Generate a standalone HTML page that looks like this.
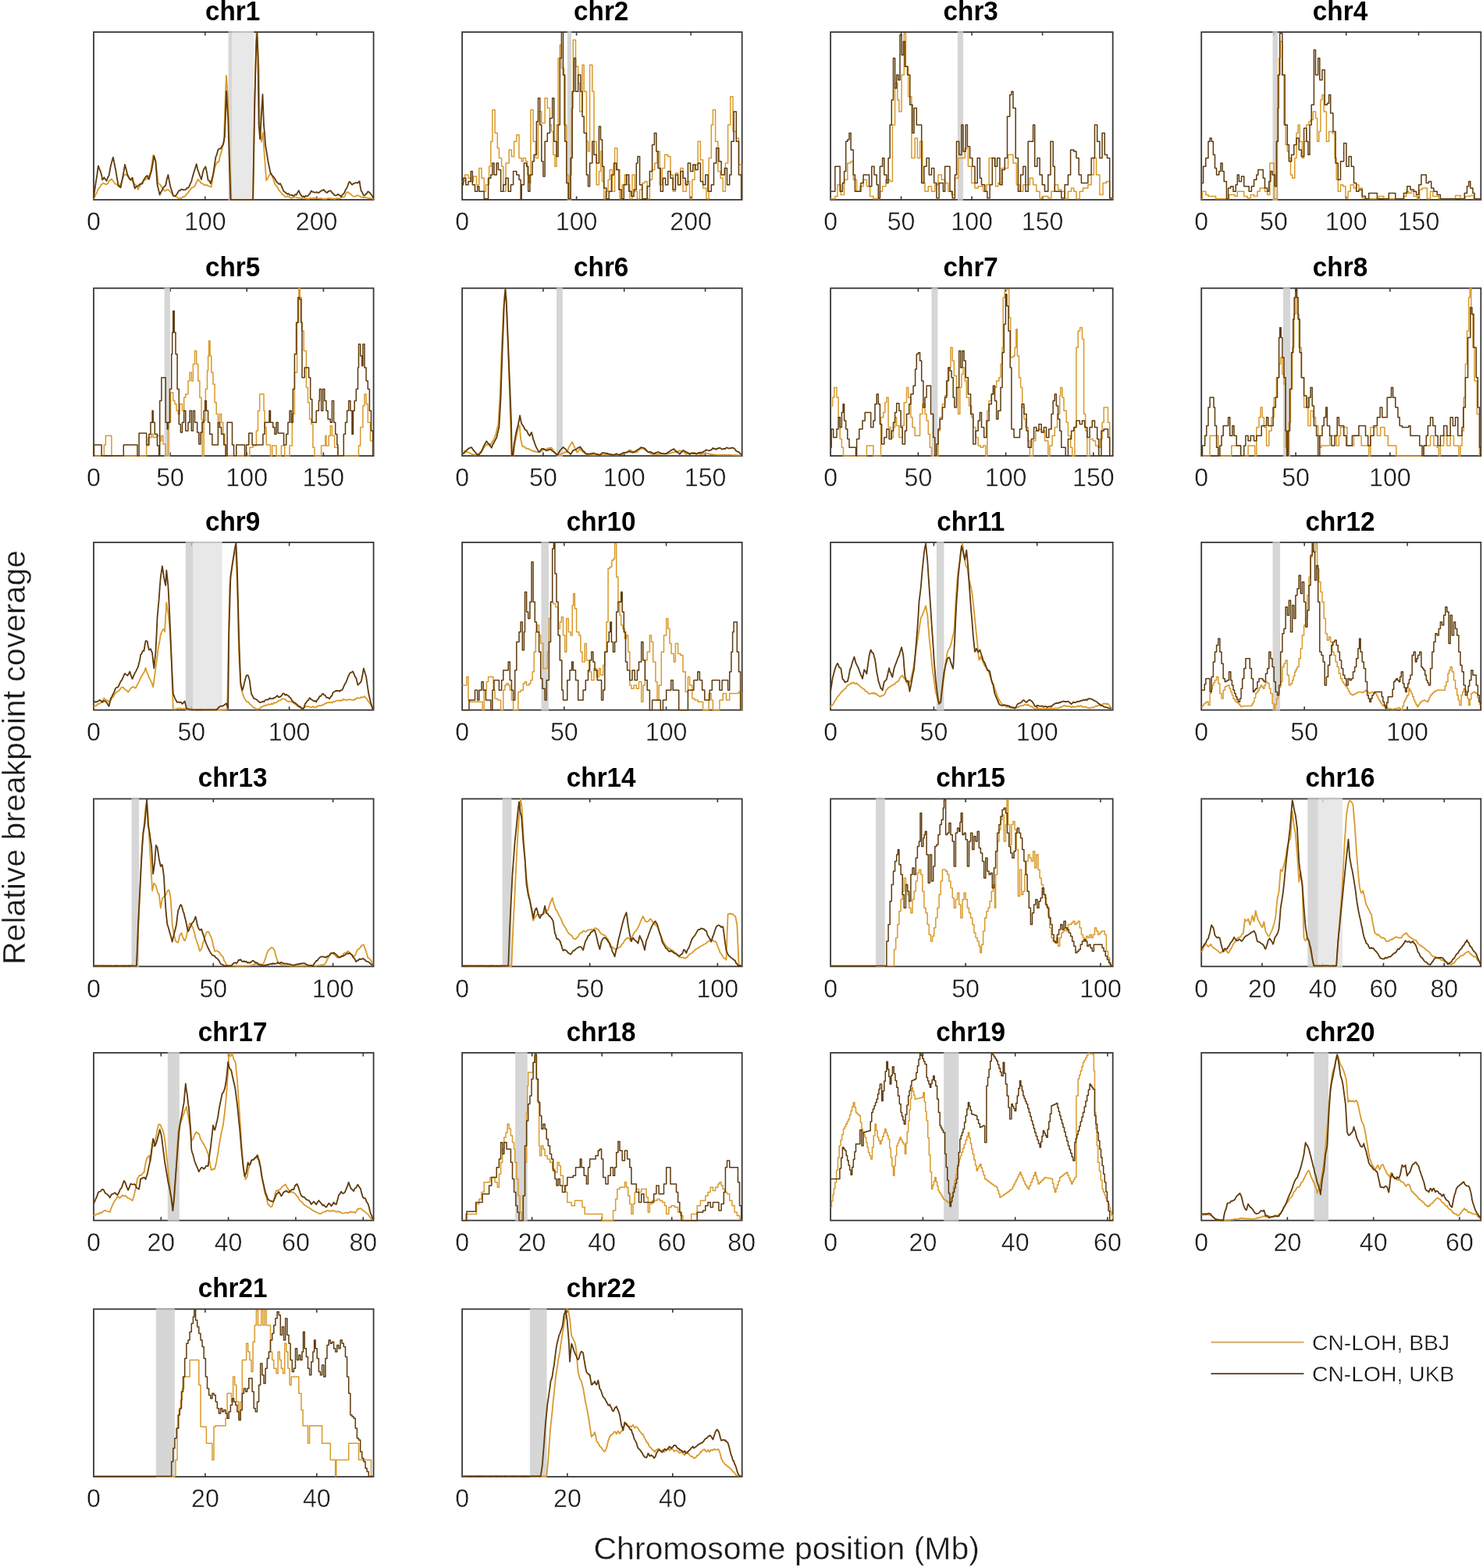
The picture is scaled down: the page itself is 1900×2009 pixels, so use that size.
<!DOCTYPE html><html><head><meta charset="utf-8"><title>Chromosome breakpoint coverage</title>
<style>html,body{margin:0;padding:0;background:#fff;}body{width:1900px;height:2009px;overflow:hidden;}svg{display:block;}text{font-family:"Liberation Sans",Arial,Helvetica,sans-serif;fill:#111;}.t{font-weight:bold;font-size:34.5px;fill:#000;}.k{font-size:33.2px;fill:#1a1a1a;stroke:#fff;stroke-width:0.4;}.l{font-size:41px;fill:#1a1a1a;stroke:#fff;stroke-width:0.4;}.g{font-size:28.3px;fill:#111;stroke:#fff;stroke-width:0.4;}</style></head><body>
<svg width="1900" height="2009" viewBox="0 0 1900 2009">
<rect width="1900" height="2009" fill="#fff"/>
<g><rect x="120" y="41.1" width="358.6" height="214.8" fill="none" stroke="#383838" stroke-width="1.8"/><path d="M262.8,255.9v-4.5M262.8,41.1v4.5M405.6,255.9v-4.5M405.6,41.1v4.5" stroke="#383838" stroke-width="1.6" fill="none"/><rect x="292.6" y="40.1" width="4.9" height="216.8" fill="#cccccc" fill-opacity="0.8"/><rect x="297.5" y="40.1" width="27.7" height="216.8" fill="#e2e2e2" fill-opacity="0.8"/><path d="M120,254.7 121.2,253.1 122.5,249.2 123.7,247.7 125.1,243.8 126.6,241.2 128,239.7 129.4,236.9 130.8,236.2 132.2,234.5 133.7,235.2 135.1,236 136.5,236.1 138.1,235.2 139.7,231.7 141.3,230.9 142.9,229.4 144.3,231.3 145.8,233 147.2,235.3 148.6,235.8 150,236.7 151.4,238.4 153,238.6 154.6,235.9 156.1,232.6 157.5,227.9 158.9,224.2 160.5,223.6 162.1,224.2 163.7,226 165.3,228.4 166.7,230.3 168.1,231.2 169.6,231.8 171,233.1 172.4,236.1 173.8,236.7 175.4,238.8 177,242.8 178.4,239.7 179.9,237.5 181.3,235.2 182.7,232.8 184.1,231.5 185.6,231 187,228.9 188.4,229.3 189.8,227.4 191.4,224.2 193,220 194.6,209.8 196.2,198.9 197.8,202.6 199.4,206.3 201,220.1 202.6,234.6 204,236 205.5,236.6 206.9,239.5 208.3,241 209.7,243.4 211.1,244.7 212.6,244 214,242.9 215.4,242.8 216.8,244.1 218.2,245.8 219.7,247.1 221.1,249.4 222.5,250.9 223.9,251 225.4,252.2 226.8,252.6 228.2,253.9 229.6,254.2 231,253.5 232.5,254 233.9,252.8 235.3,251.5 236.7,252.1 238.1,249.9 239.6,248.2 241,247.2 242.4,244.7 243.8,242.9 245.3,240.9 246.7,240.1 248.1,239.7 249.5,238.4 250.9,235.3 252.4,232.4 253.8,229.6 255.2,231.8 256.6,232.9 258,235.1 259.5,235.3 260.9,236.4 262.3,237.6 263.7,236.6 265.2,237.2 266.6,238.2 268,238.6 269.4,239 270.8,239.3 272.4,229 274,220.5 275.6,213.4 277.2,209.6 278.8,207.4 280.4,207.5 282,199.6 283.6,194.9 285.2,188.1 286.8,182.1 287.9,149.4 289,116.7 290,96.8 291.7,121.4 293,161.3 294.3,202.8 295.4,229.2 296.4,255.9 297.7,255.9 299.1,255.9 300.4,255.9 301.7,255.9 303,255.9 304.3,255.9 305.7,255.9 307,255.9 308.3,255.9 309.6,255.9 310.9,255.9 312.3,255.9 313.6,255.9 314.9,255.9 316.2,255.9 317.5,255.9 318.9,255.9 320.2,255.9 321.5,255.9 322.8,255.9 324.1,255.9 325.2,196.5 326.3,139.5 327.3,91.1 328.4,42.7 329.9,53.7 331.6,86.9 332.7,155.2 333.7,168.5 334.8,181.7 335.9,176.2 336.9,169.7 338,186.8 339.1,203.3 340.1,216.9 341.2,231.1 342.8,229 344.4,225.5 346,223.5 347.6,221.9 349,226.9 350.4,230.1 351.9,235.4 353.3,237.3 354.7,238.9 356.1,241.2 357.5,243.9 359,245.7 360.4,247 361.8,249.4 363.2,249.6 364.7,251.4 366.1,252.4 367.5,252.2 368.9,251.3 370.3,252 371.8,253.2 373.2,254.1 374.6,253.3 376,253 377.4,252 378.9,252.8 380.3,253.2 381.7,253.6 383,253.7 384.3,253.7 385.6,253.8 386.8,254.1 388.1,253.5 389.4,253.6 390.7,254.4 391.9,254.2 393.2,254.6 394.5,254.6 395.8,254.8 397.1,254.2 398.3,254 399.6,254.2 400.9,253.8 402.2,253.5 403.5,254.1 404.7,253.7 406,253.6 407.3,254.2 408.5,254.2 409.7,254.3 411,254 412.2,254.6 413.4,254.6 414.6,254.8 415.8,254.7 417.1,254.8 418.4,254.6 419.7,254.1 420.9,254.1 422.2,254 423.5,254.4 424.8,254.5 426.1,254.6 427.3,254.4 428.6,254.9 429.9,254.7 431.2,254.1 432.5,254.1 433.7,254.3 435,254.1 436.3,253.8 437.6,252.3 438.9,252.6 440.1,252.7 441.4,251.9 442.8,249.2 444.3,246.5 445.7,246 447.1,247.3 448.5,248.3 449.9,249.2 451.4,250.8 452.8,251.5 454.2,252 455.6,251.4 457.1,250.6 458.5,250.2 459.9,251 461.3,251.7 462.7,252.7 464,252.3 465.2,253.3 466.4,253 467.6,252.9 468.8,253.2 470,253.5 471.3,253.7 472.5,254.2 473.7,253.8 474.9,254.1 476.1,254.3 477.3,254.5 478.5,254.9" fill="none" stroke="#d99a2b" stroke-width="1.8" stroke-linejoin="round"/><path d="M120,253.7 121.3,243.9 122.7,233.9 124.3,224.6 125.9,212.3 127.4,216.4 129,220.4 130.1,224.2 131.2,230.4 132.2,229.4 133.3,227.3 134.9,229.5 136.5,231.7 138.1,227.5 139.7,224.3 140.8,218 141.8,212.8 143.4,206.7 145,201.5 146.6,210.3 148.2,217.7 149.8,227.6 151.4,236.5 153,239.3 154.6,240.2 156.2,232.1 157.8,224.2 158.9,217.9 160,211 161.6,216.8 163.2,223.5 164.8,226.6 166.4,229.9 168,229.8 169.6,227.6 171.2,235.3 172.8,241.6 174.4,239.1 176,238.6 177.6,237.7 179.2,235.8 180.8,235.5 182.4,235.3 184,230.7 185.6,228.3 187.2,225.9 188.8,225.1 189.8,228.3 190.9,229.8 192.5,224.1 194.1,218.9 195.7,210.1 197.3,199.6 198.3,202.9 199.4,206.8 200.5,222.5 201.5,236.5 203.1,242.9 204.7,249.7 206.2,245.9 207.6,243.9 209,240.4 210.6,239 212.2,237.5 213.8,229.5 215.4,224 217,232.6 218.6,240.3 220.2,244.8 221.8,250.4 223.4,251.4 225,250.9 226.6,248.8 228.2,246 229.6,244 231,244 232.5,242.3 233.9,242.8 235.3,243.4 236.7,243.2 238.1,242.9 239.6,240.9 241,240.7 242.4,238.8 243.8,235.4 245.3,232.3 246.9,225.9 248.5,220.5 250.1,215.5 251.7,210.2 253.2,217 254.8,221.5 256.4,225.9 258,229.8 259.1,224.9 260.2,219.3 261.8,215.7 263.4,213.5 265,221.1 266.6,230.8 268.2,231.6 269.8,235.1 271.4,229.8 273,223.9 274.6,213.6 276.2,202.1 277.8,197.7 279.4,191.8 281,190.4 282.6,190.6 284.2,187.5 285.8,185.3 286.8,180.8 287.9,174.6 289,146.4 290,116.7 291.1,135 292.2,151 293.8,202.8 295.4,255.9 296.7,255.9 298,255.9 299.3,255.9 300.6,255.9 301.9,255.9 303.2,255.9 304.5,255.9 305.8,255.9 307.1,255.9 308.4,255.9 309.8,255.9 311.1,255.9 312.4,255.9 313.7,255.9 315,255.9 316.3,255.9 317.6,255.9 318.9,255.9 320.2,255.9 321.5,255.9 322.8,255.9 324.1,255.9 325.2,192.6 326.3,127.4 327.3,91 328.4,53.8 329.5,42.3 330.5,74.6 331.6,159.2 333.1,178.3 334.8,149.3 336.5,121 338,160.2 339.1,172 340.1,186 341.7,195.7 343.3,206 344.9,213.7 346.5,221.7 348.1,224 349.7,225.8 351.3,227.6 352.9,230.3 354.5,233.2 356.1,234.6 357.5,236.1 359,235.1 360.4,237.6 362,241.7 363.6,245.3 365.2,246.3 366.8,247.4 368.2,248.8 369.6,248 371.1,249.7 372.5,249.9 373.9,249.8 375.3,251 376.7,250.6 378.2,249.1 379.6,249.8 381.2,246.7 382.8,244.1 384.4,248.1 386,250.8 387.4,251.8 388.8,251.4 390.2,252.3 391.7,250.8 393.1,251.5 394.5,251 395.9,249 397.4,247.7 398.8,244.4 400.2,245.7 401.6,246.1 403,246.6 404.5,246.5 405.9,246.2 407.3,246.8 408.7,246.8 410.1,245.4 411.6,244.4 413.2,243.9 414.8,243 416.4,245.3 418,246.5 419.4,246.8 420.8,244.9 422.2,244.7 423.8,244.3 425.4,247.1 427,248 428.6,250.3 430,250.4 431.5,250.1 432.9,248.8 434.3,249.9 435.7,250.4 437.2,252.1 438.6,249.6 440,248.3 441.4,246.7 442.8,243.1 444.3,241 445.7,237.5 446.7,234.3 447.8,232.9 449.4,234.5 451,236.7 452.6,235.4 454.2,234.8 455.6,234.1 457.1,234.1 458.5,234.6 459.5,232.9 460.6,232.3 461.7,239.6 462.7,244.4 464.2,246.6 465.6,250 467,250.8 468.4,249 469.8,248 471.3,245.4 472.7,246.1 474.1,247.3 475.5,249.1 477,251.3 478.5,254" fill="none" stroke="#5e3b0c" stroke-width="1.8" stroke-linejoin="round"/><text class="k" transform="translate(120,295.1) scale(0.97,1)" text-anchor="middle">0</text><text class="k" transform="translate(262.8,295.1) scale(0.97,1)" text-anchor="middle">100</text><text class="k" transform="translate(405.6,295.1) scale(0.97,1)" text-anchor="middle">200</text><text class="t" transform="translate(298.1,25.9) scale(0.965,1)" text-anchor="middle">chr1</text></g>
<g><rect x="592.1" y="41.1" width="358.6" height="214.8" fill="none" stroke="#383838" stroke-width="1.8"/><path d="M738.6,255.9v-4.5M738.6,41.1v4.5M885.1,255.9v-4.5M885.1,41.1v4.5" stroke="#383838" stroke-width="1.6" fill="none"/><rect x="726.8" y="40.1" width="5.3" height="216.8" fill="#cccccc" fill-opacity="0.8"/><path d="M592.1,232.4 595.7,232.4 595.7,223.9 600,223.9 600,228.2 603.2,228.2 603.2,232.4 606.4,232.4 606.4,226 610.6,226 610.6,236.7 613.8,236.7 613.8,215.4 617,215.4 617,228.2 620.2,228.2 620.2,245.2 622.4,245.2 622.4,236.7 624.5,236.7 624.5,236.7 626.6,236.7 626.6,213.2 628.8,213.2 628.8,181.3 630.9,181.3 630.9,140.7 634.1,140.7 634.1,170.6 637.3,170.6 637.3,189.8 639.4,189.8 639.4,202.6 642.6,202.6 642.6,213.2 644.8,213.2 644.8,245.2 648,245.2 648,209 652.2,209 652.2,191.9 655.4,191.9 655.4,200.4 658.6,200.4 658.6,181.3 661.8,181.3 661.8,172.7 665,172.7 665,202.6 668.2,202.6 668.2,206.8 670.3,206.8 670.3,202.6 673.5,202.6 673.5,206.8 675.7,206.8 675.7,223.9 677.8,223.9 677.8,234.6 679.9,234.6 679.9,140.7 683.1,140.7 683.1,181.3 686.3,181.3 686.3,202.6 689.5,202.6 689.5,142.9 693.8,142.9 693.8,157.8 698.1,157.8 698.1,125.8 701.3,125.8 701.3,138.6 704.5,138.6 704.5,159.9 706.6,159.9 706.6,168.5 708.7,168.5 708.7,198.3 710.9,198.3 710.9,213.2 713,213.2 713,159.9 715.1,159.9 715.1,74.6 717.3,74.6 717.3,57.6 719.4,57.6 719.4,87.4 722.6,87.4 722.6,159.9 725.8,159.9 725.8,223.9 727.9,223.9 727.9,254.8 730,254.8 730,223.9 732.2,223.9 732.2,138.6 734.3,138.6 734.3,51.2 737.5,51.2 737.5,85.3 740.7,85.3 740.7,106.6 742.8,106.6 742.8,142.9 746,142.9 746,83.2 748.2,83.2 748.2,117.3 751.4,117.3 751.4,181.3 753.5,181.3 753.5,194 755.6,194 755.6,83.2 758.8,83.2 758.8,117.3 761,117.3 761,181.3 764.2,181.3 764.2,236.7 767.4,236.7 767.4,219.6 769.5,219.6 769.5,194 771.6,194 771.6,232.4 773.8,232.4 773.8,254.8 775.9,254.8 775.9,245.2 779.1,245.2 779.1,230.3 781.2,230.3 781.2,217.5 784.4,217.5 784.4,245.2 787.6,245.2 787.6,189.8 790.8,189.8 790.8,217.5 794,217.5 794,254.8 797.2,254.8 797.2,236.7 800.4,236.7 800.4,223.9 803.6,223.9 803.6,236.7 806.8,236.7 806.8,254.8 810,254.8 810,223.9 813.2,223.9 813.2,245.2 816.4,245.2 816.4,254.8 819.6,254.8 819.6,243.1 822.8,243.1 822.8,234.6 826,234.6 826,232.4 829.2,232.4 829.2,254.8 832.4,254.8 832.4,230.3 835.6,230.3 835.6,217.5 838.8,217.5 838.8,209 842,209 842,194 845.2,194 845.2,236.7 848.4,236.7 848.4,215.4 851.6,215.4 851.6,198.3 855.8,198.3 855.8,200.4 859,200.4 859,223.9 862.2,223.9 862.2,245.2 865.4,245.2 865.4,221.8 868.6,221.8 868.6,236.7 871.8,236.7 871.8,215.4 875,215.4 875,245.2 879.3,245.2 879.3,232.4 883.6,232.4 883.6,254.8 886.8,254.8 886.8,230.3 890,230.3 890,211.1 894.2,211.1 894.2,181.3 897.4,181.3 897.4,204.7 900.6,204.7 900.6,241 904.9,241 904.9,254.8 908.1,254.8 908.1,202.6 911.3,202.6 911.3,159.9 913.4,159.9 913.4,140.7 916.6,140.7 916.6,181.3 919.8,181.3 919.8,219.6 923,219.6 923,228.2 926.2,228.2 926.2,245.2 929.4,245.2 929.4,209 932.6,209 932.6,159.9 935.8,159.9 935.8,123.7 939,123.7 939,168.5 943.3,168.5 943.3,177 946.5,177 946.5,211.1 949.7,211.1 949.7,254.8" fill="none" stroke="#d99a2b" stroke-width="1.5" stroke-linejoin="round"/><path d="M592.1,236.7 593.6,236.7 593.6,228.2 596.8,228.2 596.8,236.7 600,236.7 600,232.4 603.2,232.4 603.2,219.6 605.3,219.6 605.3,236.7 608.5,236.7 608.5,245.2 611.7,245.2 611.7,238.8 613.8,238.8 613.8,245.2 619.2,245.2 619.2,245.2 620.2,245.2 620.2,254.8 624.5,254.8 624.5,254.8 625.6,254.8 625.6,228.2 628.8,228.2 628.8,223.9 630.9,223.9 630.9,209 633,209 633,223.9 636.2,223.9 636.2,209 638.4,209 638.4,217.5 641.6,217.5 641.6,245.2 644.8,245.2 644.8,236.7 648,236.7 648,228.2 651.2,228.2 651.2,245.2 654.4,245.2 654.4,236.7 657.6,236.7 657.6,219.6 661.8,219.6 661.8,223.9 665,223.9 665,230.3 667.1,230.3 667.1,254.8 668.2,254.8 668.2,236.7 671.4,236.7 671.4,209 674.6,209 674.6,213.2 676.7,213.2 676.7,245.2 678.9,245.2 678.9,223.9 682.1,223.9 682.1,206.8 684.2,206.8 684.2,198.3 687.4,198.3 687.4,155.7 689.5,155.7 689.5,125.8 691.7,125.8 691.7,159.9 693.8,159.9 693.8,206.8 695.9,206.8 695.9,226 698.1,226 698.1,181.3 701.3,181.3 701.3,170.6 704.5,170.6 704.5,151.4 707.7,151.4 707.7,125.8 709.8,125.8 709.8,181.3 713,181.3 713,200.4 715.1,200.4 715.1,159.9 717.3,159.9 717.3,74.6 719.4,74.6 719.4,41.6 721.5,41.6 721.5,96 723.7,96 723.7,181.3 725.8,181.3 725.8,234.6 728.3,234.6 728.3,254.8 731.1,254.8 731.1,202.6 733.2,202.6 733.2,117.3 735.4,117.3 735.4,74.6 737.5,74.6 737.5,117.3 740.7,117.3 740.7,96 743.9,96 743.9,117.3 746,117.3 746,149.3 748.2,149.3 748.2,170.6 751.4,170.6 751.4,223.9 753.5,223.9 753.5,238.8 755.6,238.8 755.6,209 758.8,209 758.8,181.3 761,181.3 761,198.3 764.2,198.3 764.2,209 767.4,209 767.4,162.1 769.5,162.1 769.5,179.1 771.6,179.1 771.6,213.2 773.8,213.2 773.8,241 777,241 777,254.8 780.2,254.8 780.2,245.2 783.4,245.2 783.4,223.9 786.6,223.9 786.6,209 789.7,209 789.7,217.5 792.9,217.5 792.9,243.1 796.1,243.1 796.1,254.8 799.3,254.8 799.3,236.7 802.5,236.7 802.5,223.9 805.7,223.9 805.7,245.2 808.9,245.2 808.9,251.6 812.1,251.6 812.1,243.1 815.3,243.1 815.3,209 817,209 817,200.4 819.6,200.4 819.6,236.7 822.8,236.7 822.8,254.8 827.1,254.8 827.1,254.8 829.2,254.8 829.2,238.8 832.4,238.8 832.4,219.6 835.6,219.6 835.6,185.5 838.4,185.5 838.4,170.6 840.9,170.6 840.9,194 843.1,194 843.1,215.4 846.3,215.4 846.3,245.2 849.4,245.2 849.4,228.2 852.6,228.2 852.6,236.7 855.8,236.7 855.8,219.6 859,219.6 859,228.2 862.2,228.2 862.2,243.1 865.4,243.1 865.4,223.9 868.6,223.9 868.6,236.7 871.8,236.7 871.8,219.6 875,219.6 875,228.2 878.2,228.2 878.2,236.7 881.4,236.7 881.4,209 884.6,209 884.6,219.6 887.8,219.6 887.8,211.1 891,211.1 891,217.5 894.2,217.5 894.2,209 897.4,209 897.4,232.4 900.6,232.4 900.6,236.7 903.8,236.7 903.8,223.9 907,223.9 907,245.2 911.3,245.2 911.3,236.7 914.5,236.7 914.5,209 917.7,209 917.7,189.8 920.9,189.8 920.9,206.8 924.1,206.8 924.1,223.9 928.3,223.9 928.3,215.4 931.5,215.4 931.5,236.7 934.7,236.7 934.7,223.9 936.9,223.9 936.9,181.3 940.1,181.3 940.1,142.9 943.3,142.9 943.3,181.3 946.5,181.3 946.5,223.9 949.7,223.9 949.7,254.8" fill="none" stroke="#5e3b0c" stroke-width="1.5" stroke-linejoin="round"/><text class="k" transform="translate(592.1,295.1) scale(0.97,1)" text-anchor="middle">0</text><text class="k" transform="translate(738.6,295.1) scale(0.97,1)" text-anchor="middle">100</text><text class="k" transform="translate(885.1,295.1) scale(0.97,1)" text-anchor="middle">200</text><text class="t" transform="translate(770.2,25.9) scale(0.965,1)" text-anchor="middle">chr2</text></g>
<g><rect x="1064.1" y="41.1" width="361.6" height="214.8" fill="none" stroke="#383838" stroke-width="1.8"/><path d="M1154.6,255.9v-4.5M1154.6,41.1v4.5M1245.1,255.9v-4.5M1245.1,41.1v4.5M1335.6,255.9v-4.5M1335.6,41.1v4.5" stroke="#383838" stroke-width="1.6" fill="none"/><rect x="1226.8" y="40.1" width="7.2" height="216.8" fill="#cccccc" fill-opacity="0.8"/><path d="M1064.1,254.8 1069.9,254.8 1069.9,251.6 1073,251.6 1073,236.7 1077.3,236.7 1077.3,249.5 1081.6,249.5 1081.6,230.3 1085.8,230.3 1085.8,209 1090.1,209 1090.1,206.8 1093.3,206.8 1093.3,230.3 1097.6,230.3 1097.6,245.2 1101.8,245.2 1101.8,238.8 1106.1,238.8 1106.1,230.3 1110.4,230.3 1110.4,238.8 1114.6,238.8 1114.6,251.6 1118.9,251.6 1118.9,254.8 1124.2,254.8 1124.2,254.8 1127.4,254.8 1127.4,245.2 1130.6,245.2 1130.6,238.8 1134.9,238.8 1134.9,230.3 1140.2,230.3 1140.2,232.4 1143.4,232.4 1143.4,159.9 1146.6,159.9 1146.6,106.6 1149.8,106.6 1149.8,127.9 1151.9,127.9 1151.9,142.9 1155.1,142.9 1155.1,96 1158.3,96 1158.3,42.7 1160.5,42.7 1160.5,85.3 1163.7,85.3 1163.7,123.7 1167.9,123.7 1167.9,202.6 1172.2,202.6 1172.2,177 1175.4,177 1175.4,202.6 1178.6,202.6 1178.6,181.3 1181.8,181.3 1181.8,234.6 1185,234.6 1185,245.2 1189.3,245.2 1189.3,238.8 1193.5,238.8 1193.5,245.2 1197.8,245.2 1197.8,236.7 1202,236.7 1202,223.9 1206.3,223.9 1206.3,230.3 1210.6,230.3 1210.6,234.6 1214.8,234.6 1214.8,245.2 1219.1,245.2 1219.1,249.5 1223.4,249.5 1223.4,228.2 1227.6,228.2 1227.6,202.6 1231.9,202.6 1231.9,202.6 1236.2,202.6 1236.2,189.8 1240.4,189.8 1240.4,213.2 1244.7,213.2 1244.7,234.6 1249,234.6 1249,241 1253.2,241 1253.2,238.8 1259.6,238.8 1259.6,245.2 1263.9,245.2 1263.9,236.7 1267.1,236.7 1267.1,202.6 1271.3,202.6 1271.3,202.6 1275.6,202.6 1275.6,238.8 1278.8,238.8 1278.8,234.6 1283.1,234.6 1283.1,215.4 1287.3,215.4 1287.3,215.4 1291.6,215.4 1291.6,198.3 1294.8,198.3 1294.8,198.3 1298,198.3 1298,209 1302.3,209 1302.3,236.7 1306.5,236.7 1306.5,245.2 1310.8,245.2 1310.8,236.7 1315.1,236.7 1315.1,236.7 1319.3,236.7 1319.3,228.2 1323.6,228.2 1323.6,236.7 1327.8,236.7 1327.8,245.2 1332.1,245.2 1332.1,253.7 1336.4,253.7 1336.4,251.6 1342.8,251.6 1342.8,253.7 1347,253.7 1347,245.2 1351.3,245.2 1351.3,236.7 1355.6,236.7 1355.6,243.1 1359.8,243.1 1359.8,245.2 1364.1,245.2 1364.1,254.8 1368.4,254.8 1368.4,245.2 1372.6,245.2 1372.6,241 1375.8,241 1375.8,245.2 1379,245.2 1379,254.8 1383.3,254.8 1383.3,245.2 1387.5,245.2 1387.5,241 1393.9,241 1393.9,236.7 1398.2,236.7 1398.2,223.9 1401.4,223.9 1401.4,202.6 1404.6,202.6 1404.6,223.9 1408.9,223.9 1408.9,249.5 1413.1,249.5 1413.1,234.6 1417.4,234.6 1417.4,232.4 1421.7,232.4 1421.7,253.7 1425.5,253.7 1425.5,254.8" fill="none" stroke="#d99a2b" stroke-width="1.5" stroke-linejoin="round"/><path d="M1064.1,245.2 1067.7,245.2 1067.7,245.2 1069.9,245.2 1069.9,213.2 1074.1,213.2 1074.1,213.2 1076.2,213.2 1076.2,245.2 1079.4,245.2 1079.4,234.6 1081.6,234.6 1081.6,219.6 1083.7,219.6 1083.7,181.3 1085.8,181.3 1085.8,179.1 1088,179.1 1088,170.6 1090.1,170.6 1090.1,191.9 1093.3,191.9 1093.3,223.9 1095.4,223.9 1095.4,245.2 1099.7,245.2 1099.7,245.2 1102.9,245.2 1102.9,234.6 1106.1,234.6 1106.1,223.9 1110.4,223.9 1110.4,223.9 1113.6,223.9 1113.6,238.8 1116.8,238.8 1116.8,213.2 1120,213.2 1120,223.9 1123.2,223.9 1123.2,236.7 1125.3,236.7 1125.3,253.7 1127.4,253.7 1127.4,213.2 1130.6,213.2 1130.6,202.6 1132.8,202.6 1132.8,223.9 1135.9,223.9 1135.9,234.6 1138.1,234.6 1138.1,202.6 1140.2,202.6 1140.2,159.9 1142.3,159.9 1142.3,127.9 1144.5,127.9 1144.5,74.6 1146.6,74.6 1146.6,113 1148.7,113 1148.7,96 1150.9,96 1150.9,102.4 1153,102.4 1153,44.8 1155.1,44.8 1155.1,70.4 1157.3,70.4 1157.3,53.3 1159.4,53.3 1159.4,85.3 1162.6,85.3 1162.6,96 1165.8,96 1165.8,134.3 1169,134.3 1169,170.6 1171.1,170.6 1171.1,138.6 1174.3,138.6 1174.3,159.9 1177.5,159.9 1177.5,159.9 1180.7,159.9 1180.7,234.6 1183.9,234.6 1183.9,213.2 1187.1,213.2 1187.1,202.6 1190.3,202.6 1190.3,223.9 1193.5,223.9 1193.5,215.4 1196.7,215.4 1196.7,234.6 1199.9,234.6 1199.9,253.7 1203.1,253.7 1203.1,234.6 1208.4,234.6 1208.4,245.2 1210.6,245.2 1210.6,213.2 1213.8,213.2 1213.8,213.2 1217,213.2 1217,245.2 1220.2,245.2 1220.2,253.7 1223.4,253.7 1223.4,223.9 1225.5,223.9 1225.5,181.3 1228.7,181.3 1228.7,198.3 1231.9,198.3 1231.9,159.9 1234,159.9 1234,194 1237.2,194 1237.2,159.9 1239.4,159.9 1239.4,187.7 1242.6,187.7 1242.6,202.6 1245.8,202.6 1245.8,213.2 1249,213.2 1249,234.6 1252.2,234.6 1252.2,202.6 1255.4,202.6 1255.4,228.2 1257.5,228.2 1257.5,236.7 1261.7,236.7 1261.7,245.2 1264.9,245.2 1264.9,253.7 1268.1,253.7 1268.1,236.7 1271.3,236.7 1271.3,202.6 1274.5,202.6 1274.5,213.2 1277.7,213.2 1277.7,202.6 1280.9,202.6 1280.9,236.7 1284.1,236.7 1284.1,217.5 1287.3,217.5 1287.3,202.6 1290.5,202.6 1290.5,149.3 1293.7,149.3 1293.7,121.6 1295.9,121.6 1295.9,117.3 1298,117.3 1298,138.6 1301.2,138.6 1301.2,202.6 1304.4,202.6 1304.4,245.2 1307.6,245.2 1307.6,223.9 1310.8,223.9 1310.8,213.2 1314,213.2 1314,245.2 1317.2,245.2 1317.2,181.3 1320.4,181.3 1320.4,181.3 1323.6,181.3 1323.6,159.9 1325.7,159.9 1325.7,213.2 1328.9,213.2 1328.9,202.6 1332.1,202.6 1332.1,223.9 1335.3,223.9 1335.3,236.7 1338.5,236.7 1338.5,245.2 1342.8,245.2 1342.8,223.9 1346,223.9 1346,181.3 1349.2,181.3 1349.2,213.2 1351.3,213.2 1351.3,245.2 1355.6,245.2 1355.6,245.2 1359.8,245.2 1359.8,253.7 1364.1,253.7 1364.1,236.7 1368.4,236.7 1368.4,223.9 1371.6,223.9 1371.6,191.9 1375.8,191.9 1375.8,194 1379,194 1379,202.6 1382.2,202.6 1382.2,223.9 1385.4,223.9 1385.4,234.6 1390.7,234.6 1390.7,234.6 1393.9,234.6 1393.9,223.9 1398.2,223.9 1398.2,202.6 1402.5,202.6 1402.5,159.9 1405.7,159.9 1405.7,181.3 1408.9,181.3 1408.9,202.6 1412.1,202.6 1412.1,170.6 1415.3,170.6 1415.3,198.3 1418.5,198.3 1418.5,202.6 1421.7,202.6 1421.7,253.7 1425.5,253.7 1425.5,253.7" fill="none" stroke="#5e3b0c" stroke-width="1.5" stroke-linejoin="round"/><text class="k" transform="translate(1064.1,295.1) scale(0.97,1)" text-anchor="middle">0</text><text class="k" transform="translate(1154.6,295.1) scale(0.97,1)" text-anchor="middle">50</text><text class="k" transform="translate(1245.1,295.1) scale(0.97,1)" text-anchor="middle">100</text><text class="k" transform="translate(1335.6,295.1) scale(0.97,1)" text-anchor="middle">150</text><text class="t" transform="translate(1243.7,25.9) scale(0.965,1)" text-anchor="middle">chr3</text></g>
<g><rect x="1539.2" y="41.1" width="358.1" height="214.8" fill="none" stroke="#383838" stroke-width="1.8"/><path d="M1632,255.9v-4.5M1632,41.1v4.5M1724.7,255.9v-4.5M1724.7,41.1v4.5M1817.5,255.9v-4.5M1817.5,41.1v4.5" stroke="#383838" stroke-width="1.6" fill="none"/><rect x="1630.5" y="40.1" width="6.4" height="216.8" fill="#cccccc" fill-opacity="0.8"/><path d="M1539.2,254.8 1540.5,254.8 1540.5,245.2 1542.6,245.2 1542.6,245.2 1544.8,245.2 1544.8,249.5 1548,249.5 1548,251.6 1555.4,251.6 1555.4,251.6 1557.6,251.6 1557.6,254.8 1572.5,254.8 1572.5,254.8 1574.6,254.8 1574.6,249.5 1578.9,249.5 1578.9,249.5 1582.1,249.5 1582.1,251.6 1585.3,251.6 1585.3,245.2 1589.6,245.2 1589.6,245.2 1593.8,245.2 1593.8,251.6 1598.1,251.6 1598.1,253.7 1602.3,253.7 1602.3,249.5 1606.6,249.5 1606.6,251.6 1610.9,251.6 1610.9,245.2 1614.1,245.2 1614.1,241 1617.3,241 1617.3,241 1620.5,241 1620.5,245.2 1623.7,245.2 1623.7,249.5 1626.9,249.5 1626.9,209 1629,209 1629,209 1632.2,209 1632.2,254.8 1636.5,254.8 1636.5,138.6 1638.6,138.6 1638.6,74.6 1640.3,74.6 1640.3,53.3 1642.9,53.3 1642.9,96 1645,96 1645,159.9 1647.1,159.9 1647.1,185.5 1649.3,185.5 1649.3,194 1651.4,194 1651.4,202.6 1653.5,202.6 1653.5,223.9 1655.7,223.9 1655.7,228.2 1658.8,228.2 1658.8,202.6 1661,202.6 1661,170.6 1663.1,170.6 1663.1,159.9 1665.2,159.9 1665.2,181.3 1668.4,181.3 1668.4,202.6 1670.6,202.6 1670.6,181.3 1673.8,181.3 1673.8,159.9 1677,159.9 1677,155.7 1679.1,155.7 1679.1,153.5 1682.3,153.5 1682.3,142.9 1685.5,142.9 1685.5,151.4 1687.6,151.4 1687.6,181.3 1689.8,181.3 1689.8,168.5 1691.9,168.5 1691.9,127.9 1694,127.9 1694,121.6 1696.2,121.6 1696.2,142.9 1699.4,142.9 1699.4,181.3 1702.6,181.3 1702.6,168.5 1704.7,168.5 1704.7,168.5 1706.8,168.5 1706.8,170.6 1710,170.6 1710,202.6 1712.2,202.6 1712.2,230.3 1714.3,230.3 1714.3,245.2 1717.5,245.2 1717.5,236.7 1720.7,236.7 1720.7,238.8 1723.9,238.8 1723.9,253.7 1727.1,253.7 1727.1,245.2 1730.3,245.2 1730.3,236.7 1734.5,236.7 1734.5,241 1737.7,241 1737.7,236.7 1740.9,236.7 1740.9,241 1745.2,241 1745.2,253.7 1749.5,253.7 1749.5,254.8 1764.4,254.8 1764.4,254.8 1766.5,254.8 1766.5,251.6 1772.9,251.6 1772.9,254.8 1796.4,254.8 1796.4,254.8 1798.5,254.8 1798.5,251.6 1801.7,251.6 1801.7,245.2 1804.9,245.2 1804.9,247.4 1808.1,247.4 1808.1,245.2 1811.3,245.2 1811.3,251.6 1815.6,251.6 1815.6,254.8 1818.8,254.8 1818.8,243.1 1822,243.1 1822,241 1825.2,241 1825.2,241 1828.4,241 1828.4,254.8 1832.6,254.8 1832.6,245.2 1835.8,245.2 1835.8,251.6 1840.1,251.6 1840.1,251.6 1843.3,251.6 1843.3,254.8 1862.5,254.8 1862.5,254.8 1864.6,254.8 1864.6,250.6 1868.9,250.6 1868.9,250.6 1871,250.6 1871,254.8 1877.4,254.8 1877.4,251.6 1883.8,251.6 1883.8,250.6 1888.1,250.6 1888.1,254.8 1897,254.8 1897,254.8" fill="none" stroke="#d99a2b" stroke-width="1.5" stroke-linejoin="round"/><path d="M1539.2,234.6 1541.6,234.6 1541.6,213.2 1544.8,213.2 1544.8,202.6 1548,202.6 1548,181.3 1550.1,181.3 1550.1,177 1552.2,177 1552.2,181.3 1554.4,181.3 1554.4,198.3 1556.5,198.3 1556.5,215.4 1558.6,215.4 1558.6,223.9 1561.8,223.9 1561.8,219.6 1564,219.6 1564,209 1566.1,209 1566.1,219.6 1568.2,219.6 1568.2,232.4 1571.4,232.4 1571.4,254.8 1573.6,254.8 1573.6,241 1576.8,241 1576.8,238.8 1580,238.8 1580,245.2 1583.2,245.2 1583.2,236.7 1585.3,236.7 1585.3,223.9 1587.4,223.9 1587.4,232.4 1590.6,232.4 1590.6,226 1593.8,226 1593.8,238.8 1597,238.8 1597,238.8 1600.2,238.8 1600.2,245.2 1603.4,245.2 1603.4,238.8 1606.6,238.8 1606.6,230.3 1609.8,230.3 1609.8,223.9 1611.9,223.9 1611.9,217.5 1615.1,217.5 1615.1,217.5 1618.3,217.5 1618.3,228.2 1620.5,228.2 1620.5,241 1623.7,241 1623.7,245.2 1625.8,245.2 1625.8,232.4 1627.9,232.4 1627.9,219.6 1630.1,219.6 1630.1,223.9 1633.3,223.9 1633.3,238.8 1635.4,238.8 1635.4,181.3 1637.5,181.3 1637.5,96 1639.7,96 1639.7,42.7 1642.9,42.7 1642.9,96 1646.1,96 1646.1,159.9 1649.3,159.9 1649.3,185.5 1651.4,185.5 1651.4,206.8 1654.6,206.8 1654.6,198.3 1657.8,198.3 1657.8,185.5 1661,185.5 1661,177 1664.2,177 1664.2,191.9 1667.4,191.9 1667.4,200.4 1670.6,200.4 1670.6,164.2 1673.8,164.2 1673.8,181.3 1675.9,181.3 1675.9,198.3 1678,198.3 1678,159.9 1680.2,159.9 1680.2,134.3 1683.4,134.3 1683.4,64 1685.5,64 1685.5,96 1688.7,96 1688.7,74.6 1690.8,74.6 1690.8,102.4 1694,102.4 1694,89.6 1697.2,89.6 1697.2,134.3 1700.4,134.3 1700.4,132.2 1702.6,132.2 1702.6,121.6 1704.7,121.6 1704.7,145 1707.9,145 1707.9,168.5 1711.1,168.5 1711.1,209 1714.3,209 1714.3,230.3 1717.5,230.3 1717.5,206.8 1721.7,206.8 1721.7,183.4 1724.9,183.4 1724.9,213.2 1728.1,213.2 1728.1,200.4 1731.3,200.4 1731.3,213.2 1734.5,213.2 1734.5,234.6 1737.7,234.6 1737.7,245.2 1740.9,245.2 1740.9,243.1 1745.2,243.1 1745.2,251.6 1749.5,251.6 1749.5,254.8 1753.7,254.8 1753.7,247.4 1760.1,247.4 1760.1,247.4 1764.4,247.4 1764.4,254.8 1777.2,254.8 1777.2,254.8 1779.3,254.8 1779.3,247.4 1785.7,247.4 1785.7,247.4 1787.8,247.4 1787.8,254.8 1796.4,254.8 1796.4,254.8 1798.5,254.8 1798.5,247.4 1802.8,247.4 1802.8,238.8 1807,238.8 1807,243.1 1811.3,243.1 1811.3,245.2 1814.5,245.2 1814.5,249.5 1817.7,249.5 1817.7,236.7 1820.9,236.7 1820.9,223.9 1824.1,223.9 1824.1,223.9 1827.3,223.9 1827.3,234.6 1830.5,234.6 1830.5,232.4 1833.7,232.4 1833.7,241 1836.9,241 1836.9,245.2 1841.2,245.2 1841.2,249.5 1845.4,249.5 1845.4,254.8 1873.1,254.8 1873.1,254.8 1876.3,254.8 1876.3,247.4 1879.5,247.4 1879.5,238.8 1881.7,238.8 1881.7,232.4 1883.8,232.4 1883.8,241 1887,241 1887,247.4 1889.1,247.4 1889.1,254.8 1897,254.8 1897,254.8" fill="none" stroke="#5e3b0c" stroke-width="1.5" stroke-linejoin="round"/><text class="k" transform="translate(1539.2,295.1) scale(0.97,1)" text-anchor="middle">0</text><text class="k" transform="translate(1632,295.1) scale(0.97,1)" text-anchor="middle">50</text><text class="k" transform="translate(1724.7,295.1) scale(0.97,1)" text-anchor="middle">100</text><text class="k" transform="translate(1817.5,295.1) scale(0.97,1)" text-anchor="middle">150</text><text class="t" transform="translate(1717,25.9) scale(0.965,1)" text-anchor="middle">chr4</text></g>
<g><rect x="120" y="369.3" width="358.6" height="214.8" fill="none" stroke="#383838" stroke-width="1.8"/><path d="M218.1,584.1v-4.5M218.1,369.3v4.5M316.2,584.1v-4.5M316.2,369.3v4.5M414.4,584.1v-4.5M414.4,369.3v4.5" stroke="#383838" stroke-width="1.6" fill="none"/><rect x="210.7" y="368.3" width="7.2" height="216.8" fill="#cccccc" fill-opacity="0.8"/><path d="M120,583.9 131.2,583.9 131.2,583.9 133.3,583.9 133.3,570 135.4,570 135.4,558.3 141.8,558.3 141.8,558.3 142.9,558.3 142.9,583.9 185.6,583.9 185.6,583.9 187.7,583.9 187.7,571.1 189.8,571.1 189.8,560.4 194.1,560.4 194.1,556.2 196.2,556.2 196.2,560.4 200.5,560.4 200.5,558.3 202.6,558.3 202.6,558.3 204.7,558.3 204.7,564.7 206.9,564.7 206.9,558.3 209,558.3 209,569 212.2,569 212.2,583.9 215.4,583.9 215.4,541.2 218.6,541.2 218.6,502.9 221.8,502.9 221.8,513.5 223.9,513.5 223.9,517.8 226.1,517.8 226.1,526.3 228.2,526.3 228.2,530.6 230.3,530.6 230.3,517.8 233.5,517.8 233.5,526.3 235.7,526.3 235.7,509.3 237.8,509.3 237.8,505 241,505 241,487.9 243.1,487.9 243.1,477.3 245.3,477.3 245.3,487.9 247.4,487.9 247.4,466.6 249.5,466.6 249.5,449.6 251.7,449.6 251.7,466.6 253.8,466.6 253.8,487.9 255.9,487.9 255.9,509.3 258,509.3 258,537 259.1,537 259.1,583.9 261.2,583.9 261.2,539.1 263.4,539.1 263.4,498.6 265.5,498.6 265.5,475.1 266.6,475.1 266.6,455.9 267.6,455.9 267.6,436.8 269.1,436.8 269.1,455.9 270.8,455.9 270.8,477.3 273,477.3 273,492.2 275.1,492.2 275.1,515.7 277.2,515.7 277.2,530.6 279.4,530.6 279.4,547.6 281.5,547.6 281.5,530.6 283.6,530.6 283.6,541.2 285.8,541.2 285.8,556.2 287.9,556.2 287.9,570 290,570 290,583.9 317.7,583.9 317.7,583.9 319.9,583.9 319.9,573.2 324.1,573.2 324.1,571.1 328.4,571.1 328.4,551.9 330.5,551.9 330.5,526.3 332.7,526.3 332.7,505 335.9,505 335.9,505 338,505 338,526.3 339.1,526.3 339.1,547.6 341.2,547.6 341.2,570 346.5,570 346.5,583.9 348.7,583.9 348.7,571.1 351.9,571.1 351.9,571.1 354,571.1 354,583.9 360.4,583.9 360.4,571.1 364.7,571.1 364.7,583.9 371.1,583.9 371.1,571.1 374.3,571.1 374.3,530.6 377.4,530.6 377.4,477.3 380.6,477.3 380.6,413.3 382.8,413.3 382.8,369.3 384.3,369.3 384.3,381.3 386.4,381.3 386.4,424 389.2,424 389.2,449.6 392.4,449.6 392.4,496.5 394.5,496.5 394.5,515.7 396.6,515.7 396.6,537 398.8,537 398.8,543.4 400.9,543.4 400.9,573.2 403,573.2 403,583.9 409.4,583.9 409.4,583.9 411.6,583.9 411.6,571.1 416.9,571.1 416.9,558.3 418,558.3 418,571.1 421.2,571.1 421.2,558.3 423.3,558.3 423.3,545.5 425.4,545.5 425.4,558.3 428.6,558.3 428.6,573.2 432.9,573.2 432.9,583.9 458.5,583.9 458.5,583.9 459.5,583.9 459.5,571.1 461.7,571.1 461.7,547.6 464.9,547.6 464.9,519.9 467,519.9 467,505 469.1,505 469.1,517.8 471.3,517.8 471.3,541.2 474.5,541.2 474.5,564.7 477.7,564.7 477.7,583.9" fill="none" stroke="#d99a2b" stroke-width="1.5" stroke-linejoin="round"/><path d="M120,583.9 120.5,583.9 120.5,570 129,570 129,570 130.1,570 130.1,583.9 157.8,583.9 157.8,583.9 158.3,583.9 158.3,570 173.8,570 173.8,570 176,570 176,583.9 178.1,583.9 178.1,555.1 185.6,555.1 185.6,555.1 187.7,555.1 187.7,570 190.9,570 190.9,556.2 193,556.2 193,541.2 195.1,541.2 195.1,526.3 196.2,526.3 196.2,541.2 198.3,541.2 198.3,556.2 201.5,556.2 201.5,571.1 203.7,571.1 203.7,583.9 204.7,583.9 204.7,513.5 206.9,513.5 206.9,483.7 211.1,483.7 211.1,483.7 212.2,483.7 212.2,541.2 214.3,541.2 214.3,549.8 215.4,549.8 215.4,541.2 217.5,541.2 217.5,498.6 219.7,498.6 219.7,453.8 220.7,453.8 220.7,426.1 221.8,426.1 221.8,398.4 223.3,398.4 223.3,426.1 225,426.1 225,453.8 227.1,453.8 227.1,498.6 229.3,498.6 229.3,543.4 231.4,543.4 231.4,554 233.5,554 233.5,541.2 235.7,541.2 235.7,526.3 237.8,526.3 237.8,551.9 241,551.9 241,541.2 243.1,541.2 243.1,526.3 245.3,526.3 245.3,551.9 247.4,551.9 247.4,526.3 249.5,526.3 249.5,541.2 252.7,541.2 252.7,554 254.8,554 254.8,569 257,569 257,554 259.1,554 259.1,541.2 261.2,541.2 261.2,526.3 262.7,526.3 262.7,513.5 264.4,513.5 264.4,526.3 266.6,526.3 266.6,541.2 268.7,541.2 268.7,556.2 271.9,556.2 271.9,570 276.2,570 276.2,570 279.4,570 279.4,541.2 281.5,541.2 281.5,547.6 283.6,547.6 283.6,556.2 286.8,556.2 286.8,570 289,570 289,583.9 291.1,583.9 291.1,541.2 296.4,541.2 296.4,541.2 297.5,541.2 297.5,570 299.6,570 299.6,583.9 302.8,583.9 302.8,570 310.3,570 310.3,570 313.5,570 313.5,583.9 315.6,583.9 315.6,570 318.8,570 318.8,555.1 322,555.1 322,555.1 323.1,555.1 323.1,570 334.8,570 334.8,570 336.9,570 336.9,556.2 339.1,556.2 339.1,541.2 343.3,541.2 343.3,541.2 345,541.2 345,526.3 346.5,526.3 346.5,541.2 349.7,541.2 349.7,547.6 351.9,547.6 351.9,556.2 354,556.2 354,541.2 356.1,541.2 356.1,555.1 362.5,555.1 362.5,555.1 363.6,555.1 363.6,570 366.8,570 366.8,556.2 368.9,556.2 368.9,541.2 371.1,541.2 371.1,526.3 373.2,526.3 373.2,541.2 375.3,541.2 375.3,498.6 377.4,498.6 377.4,453.8 379.6,453.8 379.6,413.3 381.7,413.3 381.7,381.3 383.8,381.3 383.8,383.5 385.6,383.5 385.6,413.3 387,413.3 387,483.7 390.2,483.7 390.2,470.9 393.4,470.9 393.4,470.9 395.6,470.9 395.6,483.7 397.7,483.7 397.7,511.4 399.8,511.4 399.8,541.2 403,541.2 403,541.2 405.2,541.2 405.2,526.3 408.4,526.3 408.4,513.5 409.4,513.5 409.4,498.6 411.6,498.6 411.6,526.3 413.7,526.3 413.7,498.6 415.8,498.6 415.8,513.5 418,513.5 418,526.3 420.1,526.3 420.1,537 423.3,537 423.3,541.2 425.4,541.2 425.4,513.5 427.6,513.5 427.6,541.2 429.7,541.2 429.7,556.2 431.8,556.2 431.8,570 432.9,570 432.9,583.9 439.3,583.9 439.3,583.9 440.3,583.9 440.3,556.2 442.5,556.2 442.5,541.2 444.6,541.2 444.6,526.3 446.7,526.3 446.7,513.5 448.9,513.5 448.9,526.3 451,526.3 451,556.2 452.5,556.2 452.5,526.3 454.2,526.3 454.2,513.5 456.3,513.5 456.3,498.6 458.5,498.6 458.5,470.9 459.5,470.9 459.5,441 461.7,441 461.7,455.9 463.8,455.9 463.8,468.7 464.9,468.7 464.9,441 467,441 467,470.9 469.1,470.9 469.1,487.9 471.3,487.9 471.3,498.6 473.4,498.6 473.4,526.3 475.5,526.3 475.5,551.9 477.7,551.9 477.7,583.9" fill="none" stroke="#5e3b0c" stroke-width="1.5" stroke-linejoin="round"/><text class="k" transform="translate(120,623.3) scale(0.97,1)" text-anchor="middle">0</text><text class="k" transform="translate(218.1,623.3) scale(0.97,1)" text-anchor="middle">50</text><text class="k" transform="translate(316.2,623.3) scale(0.97,1)" text-anchor="middle">100</text><text class="k" transform="translate(414.4,623.3) scale(0.97,1)" text-anchor="middle">150</text><text class="t" transform="translate(298.1,354.1) scale(0.965,1)" text-anchor="middle">chr5</text></g>
<g><rect x="592.1" y="369.3" width="358.6" height="214.8" fill="none" stroke="#383838" stroke-width="1.8"/><path d="M695.9,584.1v-4.5M695.9,369.3v4.5M799.7,584.1v-4.5M799.7,369.3v4.5M903.6,584.1v-4.5M903.6,369.3v4.5" stroke="#383838" stroke-width="1.6" fill="none"/><rect x="713" y="368.3" width="7.9" height="216.8" fill="#cccccc" fill-opacity="0.8"/><path d="M592.1,581.4 593.3,580.5 594.5,578.5 595.7,577.4 597.1,578.4 598.6,579.3 600,579.6 601.4,580.3 602.8,580.6 604.2,581.7 605.7,582 607.1,582.6 608.5,582.8 609.9,582.6 611.4,582.1 612.8,581.5 614.2,581.4 615.6,580.7 617,579.5 618.6,575.9 620.2,573.2 621.8,571.1 623.4,569.3 624.9,569.8 626.3,570.4 627.7,571.2 629.1,568.8 630.5,566.3 632,564.2 633.6,561 635.2,556.6 636.8,549.5 638.4,543.8 639.4,526.3 640.5,508.8 641.6,479.8 642.6,449.7 643.7,426.6 644.8,402.9 645.8,387.2 646.9,372.9 648.6,381.7 650.1,424.4 651.2,453.6 652.2,483.7 653.3,518 654.4,551.5 655.4,583.9 656.5,583.9 657.6,583.9 658.6,576.5 659.7,568.8 660.8,563.2 661.8,558.4 662.9,553.5 663.9,547.7 665.7,545 667.1,562.6 668.2,567.2 669.3,571.6 670.9,572.4 672.5,572.7 673.9,574.5 675.3,574.8 676.7,574.9 678.2,575.6 679.6,576.3 681,577.7 682.4,577.4 683.8,578.6 685.3,578.1 686.7,578.9 688.1,579.2 689.5,579.1 691,578.3 692.4,578.7 693.8,578.1 695.2,576.3 696.6,576.3 698.1,575.9 699.5,575.5 700.9,575.1 702.3,574.1 703.7,574.2 705.2,573.6 706.6,573.7 708,575.6 709.4,577.9 710.9,580 712.3,580.6 713.7,581.9 715.1,582.7 716.5,582.3 718,582.4 719.4,581.7 721,580.9 722.6,579.7 724.2,579.3 725.8,579.7 727.2,577.3 728.6,573.7 730,570.9 731.6,568.6 733.2,566.4 734.8,570.4 736.4,573.5 738,577 739.6,579.8 741.2,578 742.8,575 744.4,576.6 746,578.2 747.6,579.5 749.2,581.2 750.7,581.2 752.1,582.1 753.5,582.6 754.8,582.6 756.1,582.8 757.3,582.9 758.6,582.8 759.9,583 761.2,583 762.6,583 763.9,582.8 765.2,582.7 766.6,582.7 767.9,582.9 769.2,582.7 770.6,582.6 771.9,582.9 773.2,582.7 774.6,582.9 775.9,582.7 777.2,582.8 778.6,582.6 779.9,582.8 781.2,582.7 782.6,582.7 783.9,582.7 785.2,582.8 786.6,582.9 787.9,582.7 789.2,582.6 790.5,582.7 791.9,582.9 793.2,582.5 794.4,582.5 795.7,581.9 797,582.1 798.3,581.5 799.7,580.8 801.1,580.6 802.5,579.6 804,578.7 805.4,577.2 806.8,576.6 808.2,576.9 809.6,577.8 811.1,578.5 812.5,579.4 813.9,579.6 815.3,579.7 816.8,578.6 818.2,576.9 819.6,575.6 821,575 822.4,574.7 823.9,573.9 825.3,575.9 826.7,576.6 828.1,577.9 829.5,578.7 831,579 832.4,580.3 833.8,581.4 835.2,581.6 836.7,582 837.9,582 839.1,581.6 840.3,582.1 841.5,581.8 842.7,581.9 844,581.8 845.2,581.6 846.4,581.7 847.6,581.7 848.8,581.6 850.1,581.6 851.3,581.7 852.5,581.6 853.7,581.5 854.9,581.7 856.2,581 857.4,580.7 858.6,580.8 859.8,580.5 861,579.9 862.2,579.4 863.7,579.6 865.1,578.6 866.5,578.5 867.9,578 869.4,578.4 870.8,577.2 872.2,578 873.6,578.2 875,578 876.5,579.2 877.9,581.1 879.3,582 880.7,581.2 882.1,580.7 883.6,581.1 885,580.4 886.4,580.2 887.8,580.1 889.3,579.7 890.7,580.3 892.1,581.1 893.5,580.7 894.9,581.2 896.4,582 897.8,582 899.2,581.8 900.6,581.5 902,581.7 903.5,580.9 904.9,580.9 906.3,580.8 907.7,581.1 909.2,581.9 910.4,581.8 911.6,582 912.8,582.2 914,582.3 915.2,582.5 916.5,582.7 917.7,582.7 919,582.9 920.2,582.8 921.5,582.9 922.8,582.7 924.1,582.9 925.4,582.7 926.6,582.9 927.9,582.9 929.2,582.8 930.5,582.8 931.8,583 933,582.8 934.3,582.8 935.6,582.9 936.9,582.9 938.1,583.2 939.4,583.2 940.7,583.1 942,583.2 943.3,583.2 944.5,583.4 945.8,583.3 947.1,583.3 948.4,583.4 949.7,583.4" fill="none" stroke="#d99a2b" stroke-width="1.8" stroke-linejoin="round"/><path d="M592.1,581.7 593.3,581.1 594.5,580.7 595.7,579.2 597.1,577.9 598.6,576.2 600,574.9 601.4,574.1 602.8,573.5 604.2,573.2 605.8,575.9 607.4,577.7 609,579.5 610.6,581.7 612.2,582.4 613.8,582.7 615.4,579.6 617,577.9 618.6,574.4 620.2,570.6 621.8,567.9 623.4,565.3 625,567.9 626.6,568.5 628.2,571.2 629.8,573.8 631.4,569.5 633,566.7 634.6,563.6 636.2,560.9 637.8,553.7 639.4,547.3 640.5,528.1 641.6,508.7 642.6,477.5 643.7,445.7 644.8,418.6 645.8,391.4 647.5,369.9 649,392.3 650.1,418.8 651.2,445.1 652.2,471.3 653.3,496.6 655,541.3 655.8,583.9 657.1,583.9 658.6,568.9 659.7,562.9 660.8,556.4 661.8,551.7 662.9,548 663.9,543.8 665,538.6 666.1,532.3 667.1,537.7 668.2,542.8 669.3,544.7 670.3,545.7 671.4,547.7 672.5,550.4 673.5,550.7 674.6,551.5 675.7,553.6 676.7,556 677.8,557.6 678.9,558.4 679.9,555.6 681,553.9 682.1,557.8 683.1,562.7 684.2,565.3 685.3,568.6 686.3,571.3 687.4,573.6 689,576.6 690.6,579.4 692.2,577.7 693.8,575.1 695.4,574.8 697,575.1 698.6,576.6 700.2,577.6 701.6,576.4 703,576.5 704.5,575.7 706.1,576.2 707.7,578 709.3,578.8 710.9,580.2 712.5,581.8 714.1,583 715.7,580.3 717.3,577.5 718.7,576 720.1,574.4 721.5,573 723.1,574.2 724.7,575.4 726.3,578 727.9,579.1 729.5,580.4 731.1,582.1 732.7,579.8 734.3,577 735.7,576.7 737.2,576.2 738.6,575.8 740,573.8 741.4,573.7 742.8,572.5 744.3,573.7 745.7,575.7 747.1,577.9 748.5,578.6 749.9,580.6 751.4,581.8 752.8,581.4 754.2,581.6 755.6,581.7 757.1,581.1 758.5,581.4 759.9,580.4 761.3,580.8 762.7,581.5 764.2,581.8 765.6,582 767,582.4 768.4,582.8 769.8,582 771.3,580.3 772.7,580.1 774.1,580.5 775.5,580.5 777,581 778.4,580.9 779.8,581.8 781.2,581.9 782.6,582.2 784.1,582.4 785.5,582.7 786.9,582.6 788.3,582.2 789.7,581.4 791.2,582 792.6,582.5 794,582.7 795.4,581.9 796.9,581.1 798.3,580.2 799.7,579.9 801.1,579.8 802.5,579.6 804,579.4 805.4,578.7 806.8,578.1 808.2,579.4 809.6,579.4 811.1,579.8 812.5,579.1 813.9,578 815.3,577.6 816.8,576.2 818.2,575.5 819.6,574.7 821.2,573.2 822.8,573.6 824.4,573.8 826,574.8 827.4,575.9 828.8,577.6 830.3,579 831.7,579.4 833.1,578.9 834.5,579.5 835.9,580.5 837.4,580.8 838.8,581 840.2,580 841.6,579.7 843.1,579.2 844.5,579.7 845.9,580.2 847.3,581 848.7,581.2 850.2,581.1 851.6,581.5 853,581 854.4,580.8 855.8,579.6 857.3,578.9 858.7,577.7 860.1,576.9 861.7,575.9 863.3,575.2 864.9,576.9 866.5,578.9 867.9,579.4 869.4,580.4 870.8,582 872.2,580.3 873.6,579.1 875,577.1 876.5,577.6 877.9,578.6 879.3,579.5 880.7,579.8 882.1,580.8 883.6,582.1 885,581.3 886.4,580.6 887.8,581 889.3,580.9 890.7,581.1 892.1,581.8 893.5,581.2 894.9,580.1 896.4,579.9 897.8,580.1 899.2,579.4 900.6,579.6 902,578 903.5,577.6 904.9,576.2 906.3,577 907.7,577.4 909.2,577.3 910.6,576.6 912,575.9 913.4,573.9 914.8,575 916.3,575 917.7,575.9 919.1,574.5 920.5,574.5 921.9,573.9 923.4,574.4 924.8,575.5 926.2,575.4 927.6,574.8 929.1,575.2 930.5,573.7 931.9,573.7 933.3,574.6 934.7,574.4 936.2,574.3 937.6,573.6 939,573.8 940.4,574.4 941.8,575.7 943.3,577.9 944.9,578.6 946.5,579.1 948.1,580.8 949.7,582.6" fill="none" stroke="#5e3b0c" stroke-width="1.8" stroke-linejoin="round"/><text class="k" transform="translate(592.1,623.3) scale(0.97,1)" text-anchor="middle">0</text><text class="k" transform="translate(695.9,623.3) scale(0.97,1)" text-anchor="middle">50</text><text class="k" transform="translate(799.7,623.3) scale(0.97,1)" text-anchor="middle">100</text><text class="k" transform="translate(903.6,623.3) scale(0.97,1)" text-anchor="middle">150</text><text class="t" transform="translate(770.2,354.1) scale(0.965,1)" text-anchor="middle">chr6</text></g>
<g><rect x="1064.1" y="369.3" width="361.6" height="214.8" fill="none" stroke="#383838" stroke-width="1.8"/><path d="M1176.4,584.1v-4.5M1176.4,369.3v4.5M1288.6,584.1v-4.5M1288.6,369.3v4.5M1400.9,584.1v-4.5M1400.9,369.3v4.5" stroke="#383838" stroke-width="1.6" fill="none"/><rect x="1193.5" y="368.3" width="7.9" height="216.8" fill="#cccccc" fill-opacity="0.8"/><path d="M1064.1,519.9 1066.7,519.9 1066.7,509.3 1068.8,509.3 1068.8,496.5 1072,496.5 1072,509.3 1074.1,509.3 1074.1,534.8 1076.2,534.8 1076.2,562.6 1078.4,562.6 1078.4,573.2 1080.5,573.2 1080.5,583.9 1108.2,583.9 1108.2,583.9 1110.4,583.9 1110.4,571.1 1117.8,571.1 1117.8,571.1 1118.9,571.1 1118.9,583.9 1127.4,583.9 1127.4,583.9 1128.5,583.9 1128.5,534.8 1131.7,534.8 1131.7,528.4 1133.8,528.4 1133.8,515.7 1135.9,515.7 1135.9,509.3 1138.1,509.3 1138.1,547.6 1141.3,547.6 1141.3,560.4 1144.5,560.4 1144.5,547.6 1146.6,547.6 1146.6,534.8 1148.7,534.8 1148.7,545.5 1151.9,545.5 1151.9,560.4 1156.2,560.4 1156.2,545.5 1158.3,545.5 1158.3,515.7 1161.5,515.7 1161.5,496.5 1163.7,496.5 1163.7,509.3 1166.9,509.3 1166.9,534.8 1169,534.8 1169,547.6 1172.2,547.6 1172.2,558.3 1177.5,558.3 1177.5,558.3 1178.6,558.3 1178.6,530.6 1181.8,530.6 1181.8,517.8 1185,517.8 1185,530.6 1187.1,530.6 1187.1,539.1 1189.3,539.1 1189.3,556.2 1191.4,556.2 1191.4,573.2 1193.5,573.2 1193.5,583.9 1202,583.9 1202,551.9 1204.2,551.9 1204.2,534.8 1207.4,534.8 1207.4,517.8 1210.6,517.8 1210.6,507.1 1213.8,507.1 1213.8,487.9 1215.9,487.9 1215.9,470.9 1218,470.9 1218,445.3 1220.2,445.3 1220.2,462.3 1222.3,462.3 1222.3,481.5 1225.5,481.5 1225.5,496.5 1227.6,496.5 1227.6,530.6 1229.8,530.6 1229.8,496.5 1231.9,496.5 1231.9,479.4 1234,479.4 1234,470.9 1236.2,470.9 1236.2,487.9 1238.3,487.9 1238.3,509.3 1241.5,509.3 1241.5,519.9 1244.7,519.9 1244.7,534.8 1246.8,534.8 1246.8,547.6 1250,547.6 1250,560.4 1253.2,560.4 1253.2,571.1 1256.4,571.1 1256.4,573.2 1259.6,573.2 1259.6,571.1 1262.8,571.1 1262.8,583.9 1264.9,583.9 1264.9,526.3 1267.1,526.3 1267.1,513.5 1270.3,513.5 1270.3,505 1273.5,505 1273.5,496.5 1276.7,496.5 1276.7,487.9 1279.9,487.9 1279.9,483.7 1282,483.7 1282,466.6 1284.1,466.6 1284.1,445.3 1285.2,445.3 1285.2,381.3 1287.3,381.3 1287.3,370.7 1290.5,370.7 1290.5,370.7 1292.7,370.7 1292.7,406.9 1294.8,406.9 1294.8,458.1 1298,458.1 1298,455.9 1300.1,455.9 1300.1,445.3 1301.8,445.3 1301.8,421.8 1303.3,421.8 1303.3,455.9 1305.5,455.9 1305.5,483.7 1307.6,483.7 1307.6,496.5 1309.7,496.5 1309.7,522 1311.9,522 1311.9,537 1314,537 1314,547.6 1317.2,547.6 1317.2,564.7 1319.3,564.7 1319.3,583.9 1323.6,583.9 1323.6,564.7 1326.8,564.7 1326.8,551.9 1330,551.9 1330,549.8 1334.2,549.8 1334.2,551.9 1338.5,551.9 1338.5,564.7 1342.8,564.7 1342.8,583.9 1344.9,583.9 1344.9,571.1 1348.1,571.1 1348.1,558.3 1351.3,558.3 1351.3,547.6 1354.5,547.6 1354.5,530.6 1357.7,530.6 1357.7,507.1 1358.8,507.1 1358.8,496.5 1360.9,496.5 1360.9,509.3 1363,509.3 1363,526.3 1366.2,526.3 1366.2,541.2 1368.4,541.2 1368.4,558.3 1371.6,558.3 1371.6,573.2 1373.7,573.2 1373.7,583.9 1376.9,583.9 1376.9,547.6 1379,547.6 1379,445.3 1381.2,445.3 1381.2,424 1383.7,424 1383.7,419.7 1386.5,419.7 1386.5,434.6 1388.6,434.6 1388.6,530.6 1390.7,530.6 1390.7,551.9 1392.9,551.9 1392.9,583.9 1396.1,583.9 1396.1,562.6 1400.3,562.6 1400.3,564.7 1403.5,564.7 1403.5,571.1 1406.7,571.1 1406.7,573.2 1409.9,573.2 1409.9,562.6 1412.1,562.6 1412.1,541.2 1414.2,541.2 1414.2,522 1417.4,522 1417.4,522 1419.5,522 1419.5,541.2 1421.7,541.2 1421.7,583.9" fill="none" stroke="#d99a2b" stroke-width="1.5" stroke-linejoin="round"/><path d="M1064.1,573.2 1065.2,573.2 1065.2,549.8 1067.7,549.8 1067.7,560.4 1072,560.4 1072,549.8 1074.1,549.8 1074.1,534.8 1076.2,534.8 1076.2,547.6 1078.4,547.6 1078.4,528.4 1080.1,528.4 1080.1,517.8 1081.6,517.8 1081.6,539.1 1083.7,539.1 1083.7,549.8 1085.8,549.8 1085.8,562.6 1088,562.6 1088,573.2 1096.5,573.2 1096.5,583.9 1097.6,583.9 1097.6,562.6 1100.8,562.6 1100.8,549.8 1105,549.8 1105,539.1 1108.2,539.1 1108.2,528.4 1112.5,528.4 1112.5,528.4 1115.7,528.4 1115.7,547.6 1118.9,547.6 1118.9,539.1 1121,539.1 1121,517.8 1123.2,517.8 1123.2,505 1125.3,505 1125.3,517.8 1127.4,517.8 1127.4,543.4 1129.6,543.4 1129.6,569 1132.8,569 1132.8,560.4 1135.9,560.4 1135.9,549.8 1139.1,549.8 1139.1,562.6 1142.3,562.6 1142.3,551.9 1144.5,551.9 1144.5,541.2 1146.6,541.2 1146.6,528.4 1148.7,528.4 1148.7,516.7 1151.9,516.7 1151.9,526.3 1154.1,526.3 1154.1,547.6 1156.2,547.6 1156.2,569 1159.4,569 1159.4,551.9 1161.5,551.9 1161.5,530.6 1164.7,530.6 1164.7,517.8 1166.9,517.8 1166.9,505 1170.1,505 1170.1,494.3 1172.6,494.3 1172.6,473 1174.3,473 1174.3,453.8 1176.5,453.8 1176.5,451.7 1178.6,451.7 1178.6,462.3 1180.7,462.3 1180.7,487.9 1182.9,487.9 1182.9,522 1185,522 1185,509.3 1187.1,509.3 1187.1,494.3 1192.5,494.3 1192.5,530.6 1195.7,530.6 1195.7,560.4 1197.8,560.4 1197.8,583.9 1199.9,583.9 1199.9,569 1202,569 1202,549.8 1204.2,549.8 1204.2,537 1207.4,537 1207.4,522 1210.6,522 1210.6,509.3 1212.7,509.3 1212.7,487.9 1214.8,487.9 1214.8,470.9 1217,470.9 1217,475.1 1219.1,475.1 1219.1,483.7 1221.2,483.7 1221.2,509.3 1222.9,509.3 1222.9,522 1225.5,522 1225.5,496.5 1228.7,496.5 1228.7,449.6 1230.8,449.6 1230.8,470.9 1233,470.9 1233,449.6 1235.1,449.6 1235.1,462.3 1237.2,462.3 1237.2,483.7 1240.4,483.7 1240.4,505 1243.6,505 1243.6,530.6 1246.8,530.6 1246.8,569 1250,569 1250,551.9 1253.2,551.9 1253.2,539.1 1255.4,539.1 1255.4,528.4 1257.5,528.4 1257.5,547.6 1260.7,547.6 1260.7,560.4 1263.9,560.4 1263.9,539.1 1267.1,539.1 1267.1,517.8 1270.3,517.8 1270.3,505 1272.4,505 1272.4,494.3 1274.5,494.3 1274.5,513.5 1276.7,513.5 1276.7,537 1278.8,537 1278.8,526.3 1282,526.3 1282,496.5 1284.1,496.5 1284.1,451.7 1286.3,451.7 1286.3,415.4 1288.4,415.4 1288.4,377.1 1289.9,377.1 1289.9,392 1292,392 1292,424 1294.2,424 1294.2,470.9 1295.9,470.9 1295.9,549.8 1299.1,549.8 1299.1,560.4 1303.3,560.4 1303.3,560.4 1306.5,560.4 1306.5,549.8 1309.1,549.8 1309.1,517.8 1311.9,517.8 1311.9,530.6 1315.1,530.6 1315.1,551.9 1317.2,551.9 1317.2,573.2 1321.4,573.2 1321.4,562.6 1324.6,562.6 1324.6,547.6 1327.8,547.6 1327.8,551.9 1331,551.9 1331,543.4 1334.2,543.4 1334.2,554 1337.4,554 1337.4,547.6 1340.6,547.6 1340.6,560.4 1343.8,560.4 1343.8,549.8 1347,549.8 1347,530.6 1349.2,530.6 1349.2,513.5 1351.3,513.5 1351.3,505 1353.4,505 1353.4,519.9 1355.6,519.9 1355.6,537 1357.7,537 1357.7,551.9 1359.8,551.9 1359.8,573.2 1365.2,573.2 1365.2,583.9 1368.4,583.9 1368.4,562.6 1372.6,562.6 1372.6,551.9 1375.8,551.9 1375.8,547.6 1379,547.6 1379,539.1 1383.3,539.1 1383.3,543.4 1386.5,543.4 1386.5,539.1 1389.7,539.1 1389.7,547.6 1392.9,547.6 1392.9,560.4 1396.1,560.4 1396.1,547.6 1399.3,547.6 1399.3,539.1 1402.5,539.1 1402.5,547.6 1405.7,547.6 1405.7,562.6 1407.8,562.6 1407.8,583.9 1411,583.9 1411,551.9 1414.2,551.9 1414.2,549.8 1417.4,549.8 1417.4,549.8 1419.5,549.8 1419.5,560.4 1421.7,560.4 1421.7,583.9" fill="none" stroke="#5e3b0c" stroke-width="1.5" stroke-linejoin="round"/><text class="k" transform="translate(1064.1,623.3) scale(0.97,1)" text-anchor="middle">0</text><text class="k" transform="translate(1176.4,623.3) scale(0.97,1)" text-anchor="middle">50</text><text class="k" transform="translate(1288.6,623.3) scale(0.97,1)" text-anchor="middle">100</text><text class="k" transform="translate(1400.9,623.3) scale(0.97,1)" text-anchor="middle">150</text><text class="t" transform="translate(1243.7,354.1) scale(0.965,1)" text-anchor="middle">chr7</text></g>
<g><rect x="1539.2" y="369.3" width="358.1" height="214.8" fill="none" stroke="#383838" stroke-width="1.8"/><path d="M1660.1,584.1v-4.5M1660.1,369.3v4.5M1780.9,584.1v-4.5M1780.9,369.3v4.5" stroke="#383838" stroke-width="1.6" fill="none"/><rect x="1643.9" y="368.3" width="9.2" height="216.8" fill="#cccccc" fill-opacity="0.8"/><path d="M1539.2,583.9 1548,583.9 1548,583.9 1550.1,583.9 1550.1,558.3 1557.6,558.3 1557.6,558.3 1560.8,558.3 1560.8,583.9 1576.8,583.9 1576.8,583.9 1577.8,583.9 1577.8,571.1 1585.3,571.1 1585.3,571.1 1589.6,571.1 1589.6,583.9 1597,583.9 1597,583.9 1599.1,583.9 1599.1,571.1 1606.6,571.1 1606.6,571.1 1607.7,571.1 1607.7,583.9 1609.8,583.9 1609.8,547.6 1613,547.6 1613,534.8 1615.1,534.8 1615.1,522 1617.3,522 1617.3,534.8 1619.4,534.8 1619.4,547.6 1622.6,547.6 1622.6,571.1 1625.8,571.1 1625.8,551.9 1629,551.9 1629,534.8 1632.2,534.8 1632.2,509.3 1635.4,509.3 1635.4,483.7 1638.6,483.7 1638.6,466.6 1640.7,466.6 1640.7,458.1 1642.9,458.1 1642.9,479.4 1645,479.4 1645,492.2 1647.1,492.2 1647.1,573.2 1649.3,573.2 1649.3,583.9 1651.4,583.9 1651.4,541.2 1653.5,541.2 1653.5,498.6 1655.7,498.6 1655.7,445.3 1657.8,445.3 1657.8,402.6 1659.9,402.6 1659.9,381.3 1662,381.3 1662,402.6 1664.2,402.6 1664.2,445.3 1667.4,445.3 1667.4,483.7 1670.6,483.7 1670.6,522 1673.8,522 1673.8,509.3 1675.9,509.3 1675.9,545.5 1679.1,545.5 1679.1,526.3 1682.3,526.3 1682.3,534.8 1685.5,534.8 1685.5,545.5 1688.7,545.5 1688.7,558.3 1690.8,558.3 1690.8,573.2 1693,573.2 1693,571.1 1700.4,571.1 1700.4,571.1 1703.6,571.1 1703.6,558.3 1710,558.3 1710,558.3 1712.2,558.3 1712.2,571.1 1715.4,571.1 1715.4,558.3 1717.5,558.3 1717.5,547.6 1724.9,547.6 1724.9,547.6 1726,547.6 1726,571.1 1731.3,571.1 1731.3,571.1 1734.5,571.1 1734.5,558.3 1740.9,558.3 1740.9,558.3 1744.1,558.3 1744.1,571.1 1750.5,571.1 1750.5,571.1 1753.7,571.1 1753.7,583.9 1755.9,583.9 1755.9,547.6 1760.1,547.6 1760.1,547.6 1764.4,547.6 1764.4,558.3 1768.7,558.3 1768.7,547.6 1774,547.6 1774,558.3 1778.3,558.3 1778.3,571.1 1787.8,571.1 1787.8,571.1 1788.9,571.1 1788.9,583.9 1819.8,583.9 1819.8,583.9 1824.1,583.9 1824.1,571.1 1832.6,571.1 1832.6,558.3 1836.9,558.3 1836.9,571.1 1841.2,571.1 1841.2,573.2 1843.3,573.2 1843.3,583.9 1845.4,583.9 1845.4,571.1 1849.7,571.1 1849.7,558.3 1853.9,558.3 1853.9,571.1 1858.2,571.1 1858.2,558.3 1862.5,558.3 1862.5,571.1 1868.9,571.1 1868.9,583.9 1871,583.9 1871,571.1 1873.1,571.1 1873.1,551.9 1875.3,551.9 1875.3,509.3 1877.4,509.3 1877.4,466.6 1879.5,466.6 1879.5,424 1881.7,424 1881.7,381.3 1883.2,381.3 1883.2,369.3 1884.9,369.3 1884.9,402.6 1887,402.6 1887,445.3 1889.1,445.3 1889.1,487.9 1892.3,487.9 1892.3,530.6 1895.5,530.6 1895.5,583.9" fill="none" stroke="#d99a2b" stroke-width="1.5" stroke-linejoin="round"/><path d="M1539.2,583.9 1540.5,583.9 1540.5,571.1 1543.7,571.1 1543.7,558.3 1545.8,558.3 1545.8,545.5 1548,545.5 1548,522 1550.1,522 1550.1,509.3 1553.3,509.3 1553.3,509.3 1555,509.3 1555,522 1556.5,522 1556.5,545.5 1558.6,545.5 1558.6,573.2 1560.8,573.2 1560.8,583.9 1562.9,583.9 1562.9,571.1 1565,571.1 1565,558.3 1567.2,558.3 1567.2,545.5 1571.4,545.5 1571.4,545.5 1573.6,545.5 1573.6,534.8 1575.7,534.8 1575.7,558.3 1578.9,558.3 1578.9,545.5 1581,545.5 1581,558.3 1584.2,558.3 1584.2,571.1 1589.6,571.1 1589.6,583.9 1593.8,583.9 1593.8,571.1 1595.9,571.1 1595.9,558.3 1599.1,558.3 1599.1,564.7 1602.3,564.7 1602.3,558.3 1606.6,558.3 1606.6,564.7 1609.8,564.7 1609.8,558.3 1613,558.3 1613,558.3 1616.2,558.3 1616.2,545.5 1619.4,545.5 1619.4,545.5 1622.6,545.5 1622.6,534.8 1624.7,534.8 1624.7,545.5 1627.9,545.5 1627.9,545.5 1631.1,545.5 1631.1,522 1634.3,522 1634.3,509.3 1636.5,509.3 1636.5,483.7 1638.6,483.7 1638.6,432.5 1639.7,432.5 1639.7,419.7 1641.2,419.7 1641.2,432.5 1642.9,432.5 1642.9,458.1 1645,458.1 1645,483.7 1647.1,483.7 1647.1,551.9 1648.6,551.9 1648.6,583.9 1650.3,583.9 1650.3,551.9 1652.5,551.9 1652.5,498.6 1654.6,498.6 1654.6,451.7 1656.7,451.7 1656.7,409 1658.2,409 1658.2,381.3 1659.9,381.3 1659.9,370.7 1661.6,370.7 1661.6,381.3 1663.1,381.3 1663.1,409 1665.2,409 1665.2,451.7 1667.4,451.7 1667.4,483.7 1670.6,483.7 1670.6,507.1 1673.8,507.1 1673.8,522 1677,522 1677,509.3 1679.1,509.3 1679.1,496.5 1681.2,496.5 1681.2,519.9 1683.4,519.9 1683.4,545.5 1686.6,545.5 1686.6,558.3 1688.7,558.3 1688.7,583.9 1690.8,583.9 1690.8,558.3 1694,558.3 1694,545.5 1696.2,545.5 1696.2,534.8 1698.7,534.8 1698.7,522 1700.4,522 1700.4,545.5 1703.6,545.5 1703.6,558.3 1705.8,558.3 1705.8,571.1 1710,571.1 1710,558.3 1713.2,558.3 1713.2,534.8 1715.4,534.8 1715.4,545.5 1718.6,545.5 1718.6,545.5 1721.7,545.5 1721.7,558.3 1724.9,558.3 1724.9,571.1 1729.2,571.1 1729.2,571.1 1732.4,571.1 1732.4,558.3 1736.7,558.3 1736.7,558.3 1740.9,558.3 1740.9,545.5 1745.2,545.5 1745.2,545.5 1749.5,545.5 1749.5,558.3 1752.7,558.3 1752.7,571.1 1755.9,571.1 1755.9,558.3 1760.1,558.3 1760.1,545.5 1764.4,545.5 1764.4,534.8 1768.2,534.8 1768.2,522 1770.8,522 1770.8,534.8 1774,534.8 1774,534.8 1777.2,534.8 1777.2,509.3 1780.4,509.3 1780.4,509.3 1782.5,509.3 1782.5,496.5 1784.6,496.5 1784.6,509.3 1787.8,509.3 1787.8,522 1791,522 1791,534.8 1793.2,534.8 1793.2,545.5 1796.4,545.5 1796.4,547.6 1800.6,547.6 1800.6,547.6 1804.9,547.6 1804.9,545.5 1807,545.5 1807,558.3 1811.3,558.3 1811.3,558.3 1815.6,558.3 1815.6,558.3 1818.8,558.3 1818.8,571.1 1822,571.1 1822,583.9 1824.1,583.9 1824.1,571.1 1827.3,571.1 1827.3,558.3 1829.4,558.3 1829.4,545.5 1832.6,545.5 1832.6,534.8 1835.8,534.8 1835.8,545.5 1839,545.5 1839,558.3 1842.2,558.3 1842.2,571.1 1845.4,571.1 1845.4,558.3 1849.7,558.3 1849.7,545.5 1853.9,545.5 1853.9,558.3 1858.2,558.3 1858.2,534.8 1861.4,534.8 1861.4,545.5 1864.6,545.5 1864.6,534.8 1867.8,534.8 1867.8,558.3 1871,558.3 1871,558.3 1873.1,558.3 1873.1,547.6 1874.8,547.6 1874.8,522 1877.4,522 1877.4,483.7 1880.6,483.7 1880.6,432.5 1883.8,432.5 1883.8,394.1 1885.9,394.1 1885.9,402.6 1888.1,402.6 1888.1,445.3 1891.3,445.3 1891.3,483.7 1893.4,483.7 1893.4,522 1895.5,522 1895.5,573.2 1897,573.2 1897,583.9" fill="none" stroke="#5e3b0c" stroke-width="1.5" stroke-linejoin="round"/><text class="k" transform="translate(1539.2,623.3) scale(0.97,1)" text-anchor="middle">0</text><text class="k" transform="translate(1660.1,623.3) scale(0.97,1)" text-anchor="middle">50</text><text class="k" transform="translate(1780.9,623.3) scale(0.97,1)" text-anchor="middle">100</text><text class="t" transform="translate(1717,354.1) scale(0.965,1)" text-anchor="middle">chr8</text></g>
<g><rect x="120" y="694.9" width="358.6" height="214.8" fill="none" stroke="#383838" stroke-width="1.8"/><path d="M245.3,909.7v-4.5M245.3,694.9v4.5M370.6,909.7v-4.5M370.6,694.9v4.5" stroke="#383838" stroke-width="1.6" fill="none"/><rect x="237.8" y="693.9" width="9.6" height="216.8" fill="#cccccc" fill-opacity="0.8"/><rect x="247.4" y="693.9" width="37.3" height="216.8" fill="#e2e2e2" fill-opacity="0.8"/><path d="M120,905.6 121.2,905.1 122.5,904 123.7,904.2 125.3,901.5 126.9,902.2 128.5,900.7 130.1,899.8 131.7,897.6 133.3,894.4 134.9,896.6 136.5,897.4 138.1,897.5 139.7,899.9 140.8,898 141.8,897.5 143.4,894.2 145,893.1 146.6,889.8 148.2,887.8 149.8,886.8 151.4,885.6 153,884.5 154.6,881.7 156.2,880.6 157.8,880.6 159.4,882.6 161,884.1 162.6,884.8 164.2,886.9 165.8,884.4 167.4,881.9 169,880.7 170.6,879.8 172.2,881.1 173.8,881.6 175.4,878.1 177,875.7 178.6,872.1 180.2,868.6 181.8,865.8 183.4,863.3 185,860.4 186.6,855.7 188.2,861.4 189.8,864.7 191.4,868.9 193,872.2 194.6,875.4 196.2,880.3 197.8,868.4 199.4,856.1 201,844.6 202.6,831.3 204.2,823.3 205.8,813.3 207.4,809.2 209,806.2 210.1,807.2 211.1,809.4 212.2,790.1 213.3,771.9 214.3,778.4 215.4,785.5 216.5,795.1 217.5,806.2 218.6,824.9 219.7,845.3 220.7,876.5 221.8,907.8 222.9,908.5 223.9,909 225.4,908.4 226.8,908.2 228.2,907.6 229.4,907.8 230.6,907.3 231.9,908 233.1,907.8 234.3,907.9 235.5,908 236.7,908 238.1,908.4 239.6,908.6 241,908.7 242.2,908.8 243.4,909 244.6,909 245.9,909.2 247.1,909.2 248.3,909.3 249.5,909.4 250.8,909.5 252.1,909.5 253.4,909.5 254.6,909.5 255.9,909.4 257.2,909.5 258.5,909.5 259.8,909.5 261,909.5 262.3,909.5 263.6,909.4 264.9,909.4 266.1,909.4 267.4,909.5 268.7,909.4 270,909.5 271.3,909.5 272.5,909.5 273.8,909.5 275.1,909.5 276.4,909.5 277.7,909.4 278.9,909.5 280.2,909.5 281.5,909.4 282.8,909.5 284.1,909.5 285.3,909.5 286.6,909.5 287.9,909.4 289.5,909 291.1,908.7 292.2,857 293.2,803.9 294.3,749.7 295.9,737.3 297.5,723.9 299.1,715 300.7,706.8 302,702.4 303.9,750.5 305,791.9 306,834.7 307.1,856.4 308.2,878.6 309.8,883.9 311.4,890.4 313,894.4 314.6,897 315.9,898.9 317.2,899.2 318.5,899.9 319.9,902.1 321.3,903 322.7,904.1 324.1,906.2 325.6,906.5 327,907.5 328.4,908.7 329.8,908.3 331.3,908.3 332.7,908 334.1,906.6 335.5,905.6 336.9,905.1 338.4,904 339.8,904.4 341.2,903.2 342.6,903.4 344,902.2 345.5,902.7 346.9,902.5 348.3,901.3 349.7,902.2 351.2,900.2 352.6,900.8 354,900.1 355.4,899.2 356.8,897.7 358.3,897.6 359.7,897.2 361.1,895.4 362.5,895.4 363.9,895.4 365.4,895.9 366.8,897.8 368.2,898.2 369.6,899 371.1,898.5 372.5,899.4 373.9,899.1 375.3,900.3 376.7,901.5 378.2,902.2 379.6,903.4 381,904.5 382.4,904.8 383.8,906.5 385.3,907.3 386.7,907.4 388.1,907.3 389.5,906.7 391,905.9 392.4,904.8 393.7,905.4 394.9,905.1 396.2,905.5 397.5,906 398.8,906.5 400.1,905.7 401.3,905 402.6,906.3 403.9,906.4 405.2,906.1 406.4,904.7 407.7,904.8 409,903.9 410.3,904.2 411.6,904.2 412.8,903.4 414.1,902.7 415.4,902.6 416.7,901.2 418,901.2 419.2,900.3 420.5,900.1 421.8,899.9 423.1,900.4 424.4,899.9 425.6,900.4 426.9,898.9 428.2,899 429.5,898.6 430.8,897.8 432,897.6 433.3,897.5 434.6,897.7 435.9,898 437.2,897 438.6,897.6 440,895.7 441.4,896.5 442.8,896.6 444.3,897.1 445.7,896.3 447.1,896.4 448.5,896.2 449.9,896.5 451.4,896.9 452.8,897.2 454.2,896 455.6,896.1 457.1,894.4 458.5,894.1 459.9,894.4 461.3,894.7 462.7,893.2 464.2,893.5 465.6,893.3 467,892 468.4,894.1 469.8,895.2 471.3,897.9 472.9,899.9 474.5,902.1 476.1,905 477.7,908.9" fill="none" stroke="#d99a2b" stroke-width="1.8" stroke-linejoin="round"/><path d="M120,899.1 121.2,898.8 122.5,899.8 123.7,899.1 125.1,898.6 126.6,897.9 128,896.8 129.6,898.4 131.2,899.9 132.8,897.9 134.4,898.3 136,899.3 137.6,901.6 138.6,903.7 139.7,904.8 140.8,899.6 141.8,895 143.4,892.4 145,889.1 146.6,885.9 148.2,881.5 149.8,880.8 151.4,880.2 153,876.6 154.6,873.1 156.2,871.2 157.8,867.5 158.9,864.9 160,862.9 161.6,864.4 163.2,865.6 164.8,863.5 166.4,860.5 168,865.9 169.6,869.8 171.2,865.8 172.8,862.4 174.4,859.6 176,856.1 177,854.1 178.1,849.3 179.2,845.4 180.2,838.9 181.3,837.9 182.4,835.1 183.4,833.5 184.5,834 185.6,826.6 186.6,821.2 187.7,821.1 188.8,822 189.8,827.9 190.9,832.6 191.9,832.2 193,831.4 194.1,834.4 195.1,836.5 196.2,847.3 197.3,856.2 198.3,845.8 199.4,835.9 200.5,814.6 201.5,791.9 202.6,779.1 203.7,767.5 204.7,753 205.8,739.7 206.9,732.1 207.9,725.3 209,732.5 210.1,740.2 211.1,745.4 212.2,750.1 213.3,730.6 214.3,739.8 215.4,750.6 216.5,771.3 217.5,792.6 218.6,818.9 219.7,845.6 220.7,867.2 221.8,888.8 222.9,891.4 223.9,894.3 225.5,897.3 227.1,900 228.7,899.3 230.3,900.1 231.9,899.7 233.5,901.9 235.1,900.4 236.7,898.4 237.8,902.9 238.9,907.9 240.1,908.3 241.4,908.2 242.7,908.8 244,909.2 245.3,909.4 246.5,909.5 247.8,909.4 249.1,909.4 250.4,909.5 251.7,909.5 252.9,909.5 254.2,909.5 255.5,909.5 256.8,909.5 258,909.5 259.3,909.5 260.6,909.5 261.9,909.4 263.2,909.4 264.4,909.5 265.7,909.5 267,909.4 268.3,909.4 269.6,909.4 270.8,909.5 272.1,909.4 273.4,909.4 274.7,909.4 276,909.5 277.2,909.5 278.7,908.3 280.1,906.4 281.5,905.2 282.9,904.5 284.3,904.9 285.8,904.3 287.2,903.3 288.6,902.2 290,901.2 291.1,904.7 292.2,907.8 293.2,813.7 294.3,776.1 295.4,738.5 297,728.2 298.6,717.4 299.6,710.9 300.7,703.6 302.4,695 303.9,729.3 305,771.8 306,813.7 307.1,844.2 308.2,873.6 309.2,879.2 310.3,884.7 311.4,881.9 312.4,878 314,871 315.6,865.4 316.7,865.4 317.7,865.1 318.8,868.1 319.9,872.4 320.9,880.9 322,889 323.6,891.7 325.2,895.2 326.8,895.4 328.4,896.3 329.8,897.3 331.3,898.7 332.7,900.1 334.1,899.7 335.5,899.5 336.9,898.5 338.4,899.1 339.8,897 341.2,896.5 342.6,896.5 344,896.2 345.5,894.2 346.9,895.4 348.3,895.2 349.7,895.2 351.2,894 352.6,893.7 354,892.4 355.4,891.3 356.8,893.2 358.3,893.1 359.7,892.3 361.1,890.8 362.5,888.4 363.9,888.6 365.4,890.8 366.8,889.8 368.2,890.8 369.6,891.6 371.1,893.4 372.5,894.3 373.9,897.3 375.3,898.7 376.7,900.1 378.2,900.5 379.6,901.9 381,903 382.4,905 383.8,904.9 385.3,906.2 386.7,907.8 388.1,908.9 389.5,906.4 391,901.7 392.4,900.1 393.8,897.7 395.2,897.1 396.6,894.1 398.1,895.5 399.5,896.5 400.9,897.5 402.3,898.4 403.7,897.8 405.2,899.3 406.6,896.4 408,895.3 409.4,892.1 410.9,892.1 412.3,889.9 413.7,888.7 415.1,890.3 416.5,890.6 418,893.6 419.4,893.6 420.8,894.2 422.2,895.4 423.6,892.7 425.1,891.5 426.5,887.7 427.9,886.3 429.3,885.9 430.8,884.7 432.2,885.4 433.6,884.9 435,885.9 436.4,884.5 437.9,884.3 439.3,882.4 440.7,878.9 442.1,876 443.5,873.9 445,869.8 446.4,866.1 447.8,863.3 449.2,861.7 450.7,861.3 452.1,860.3 453.5,863.3 454.9,866.9 456.3,868.7 457.4,873.4 458.5,877.7 459.5,876.7 460.6,875.6 461.7,874.4 462.7,873.3 464.3,865.8 465.9,856.4 467.5,861.7 469.1,866.9 470.7,878.1 472.3,888.8 473.9,895.8 475.5,902.1 476.6,905.3 477.7,908.9" fill="none" stroke="#5e3b0c" stroke-width="1.8" stroke-linejoin="round"/><text class="k" transform="translate(120,948.9) scale(0.97,1)" text-anchor="middle">0</text><text class="k" transform="translate(245.3,948.9) scale(0.97,1)" text-anchor="middle">50</text><text class="k" transform="translate(370.6,948.9) scale(0.97,1)" text-anchor="middle">100</text><text class="t" transform="translate(298.1,679.7) scale(0.965,1)" text-anchor="middle">chr9</text></g>
<g><rect x="592.1" y="694.9" width="358.6" height="214.8" fill="none" stroke="#383838" stroke-width="1.8"/><path d="M722.8,909.7v-4.5M722.8,694.9v4.5M853.6,909.7v-4.5M853.6,694.9v4.5" stroke="#383838" stroke-width="1.6" fill="none"/><rect x="693.4" y="693.9" width="9.6" height="216.8" fill="#cccccc" fill-opacity="0.8"/><path d="M592.1,877.9 595.7,877.9 595.7,877.9 597.9,877.9 597.9,867.2 600,867.2 600,897.1 602.1,897.1 602.1,899.2 610.6,899.2 610.6,899.2 616,899.2 616,899.2 618.1,899.2 618.1,909.7 620.2,909.7 620.2,884.3 623.4,884.3 623.4,873.6 625.6,873.6 625.6,867.2 629.8,867.2 629.8,867.2 632,867.2 632,884.3 634.1,884.3 634.1,895 637.3,895 637.3,897.1 641.6,897.1 641.6,909.7 644.8,909.7 644.8,884.3 646.9,884.3 646.9,877.9 649,877.9 649,875.8 651.2,875.8 651.2,877.9 653.3,877.9 653.3,884.3 655.4,884.3 655.4,897.1 657.6,897.1 657.6,909.7 661.8,909.7 661.8,909.7 663.9,909.7 663.9,886.4 667.1,886.4 667.1,884.3 670.3,884.3 670.3,875.8 672.5,875.8 672.5,873.6 674.6,873.6 674.6,877.9 677.8,877.9 677.8,875.8 679.9,875.8 679.9,871.5 682.1,871.5 682.1,860.8 684.2,860.8 684.2,835.3 686.3,835.3 686.3,809.7 688.5,809.7 688.5,801.1 690.6,801.1 690.6,813.9 692.7,813.9 692.7,824.6 695.9,824.6 695.9,856.6 698.1,856.6 698.1,856.6 701.3,856.6 701.3,835.3 703.4,835.3 703.4,792.6 705.5,792.6 705.5,771.3 708.7,771.3 708.7,773.4 711.9,773.4 711.9,777.7 715.1,777.7 715.1,805.4 717.3,805.4 717.3,796.9 719.4,796.9 719.4,790.5 721.5,790.5 721.5,813.9 723.7,813.9 723.7,835.3 725.8,835.3 725.8,792.6 728.3,792.6 728.3,809.7 731.1,809.7 731.1,813.9 733.2,813.9 733.2,775.6 734.7,775.6 734.7,760.6 736.4,760.6 736.4,779.8 738.6,779.8 738.6,809.7 741.8,809.7 741.8,813.9 743.9,813.9 743.9,835.3 746,835.3 746,848 749.2,848 749.2,824.6 751.4,824.6 751.4,845.9 754.6,845.9 754.6,860.8 757.8,860.8 757.8,871.5 761,871.5 761,856.6 764.2,856.6 764.2,867.2 767.4,867.2 767.4,856.6 769.5,856.6 769.5,865.1 772.7,865.1 772.7,852.3 774.8,852.3 774.8,835.3 777,835.3 777,796.9 779.1,796.9 779.1,728.6 781.2,728.6 781.2,726.5 783.8,726.5 783.8,718 785.9,718 785.9,715.9 787.6,715.9 787.6,696.7 789.7,696.7 789.7,739.3 791.9,739.3 791.9,771.3 794,771.3 794,788.3 795.7,788.3 795.7,801.1 797.9,801.1 797.9,805.4 800.4,805.4 800.4,818.2 802.5,818.2 802.5,813.9 804.7,813.9 804.7,835.3 806.8,835.3 806.8,877.9 808.9,877.9 808.9,882.2 812.1,882.2 812.1,877.9 815.3,877.9 815.3,882.2 818.5,882.2 818.5,873.6 821.7,873.6 821.7,899.2 823.9,899.2 823.9,877.9 826.4,877.9 826.4,845.9 829.2,845.9 829.2,835.3 832.4,835.3 832.4,813.9 834.5,813.9 834.5,822.5 836.7,822.5 836.7,848 839.9,848 839.9,873.6 842,873.6 842,897.1 844.1,897.1 844.1,877.9 847.3,877.9 847.3,835.3 850.5,835.3 850.5,813.9 853.7,813.9 853.7,792.6 855.8,792.6 855.8,805.4 858,805.4 858,824.6 860.1,824.6 860.1,837.4 863.3,837.4 863.3,848 865.4,848 865.4,824.6 868.6,824.6 868.6,837.4 871.8,837.4 871.8,839.5 875,839.5 875,860.8 878.2,860.8 878.2,886.4 881.4,886.4 881.4,867.2 883.6,867.2 883.6,877.9 886.8,877.9 886.8,895 890,895 890,897.1 894.2,897.1 894.2,899.2 897.4,899.2 897.4,899.2 900.6,899.2 900.6,909.7 904.9,909.7 904.9,909.7 908.1,909.7 908.1,888.6 911.3,888.6 911.3,897.1 913.4,897.1 913.4,909.7 919.8,909.7 919.8,909.7 921.9,909.7 921.9,897.1 926.2,897.1 926.2,888.6 930.5,888.6 930.5,897.1 934.7,897.1 934.7,888.6 939,888.6 939,888.6 943.3,888.6 943.3,888.6 946.5,888.6 946.5,886.4 949.7,886.4 949.7,909.7" fill="none" stroke="#d99a2b" stroke-width="1.5" stroke-linejoin="round"/><path d="M592.1,909.7 600,909.7 600,909.7 601,909.7 601,897.1 606.4,897.1 606.4,897.1 608.5,897.1 608.5,884.3 611.7,884.3 611.7,897.1 613.8,897.1 613.8,884.3 617,884.3 617,873.6 619.2,873.6 619.2,884.3 622.4,884.3 622.4,897.1 625.6,897.1 625.6,897.1 628.8,897.1 628.8,909.7 630.9,909.7 630.9,884.3 633,884.3 633,871.5 636.2,871.5 636.2,871.5 639.4,871.5 639.4,884.3 642.6,884.3 642.6,871.5 644.8,871.5 644.8,858.7 650.1,858.7 650.1,858.7 651.2,858.7 651.2,848 653.3,848 653.3,871.5 655.4,871.5 655.4,884.3 657.6,884.3 657.6,897.1 659.7,897.1 659.7,858.7 661.8,858.7 661.8,822.5 665,822.5 665,809.7 667.1,809.7 667.1,796.9 669.3,796.9 669.3,833.1 671.4,833.1 671.4,809.7 672.5,809.7 672.5,758.5 674.6,758.5 674.6,784.1 676.7,784.1 676.7,792.6 678.9,792.6 678.9,771.3 681,771.3 681,720.1 683.1,720.1 683.1,771.3 685.3,771.3 685.3,796.9 687.4,796.9 687.4,809.7 690.6,809.7 690.6,835.3 692.7,835.3 692.7,869.4 694.9,869.4 694.9,882.2 698.1,882.2 698.1,897.1 700.2,897.1 700.2,871.5 703.4,871.5 703.4,822.5 705.5,822.5 705.5,771.3 707.7,771.3 707.7,703.1 709.4,703.1 709.4,694.9 710.9,694.9 710.9,735 713,735 713,771.3 715.1,771.3 715.1,813.9 717.3,813.9 717.3,845.9 719.8,845.9 719.8,884.3 721.5,884.3 721.5,897.1 724.7,897.1 724.7,897.1 726.8,897.1 726.8,871.5 730,871.5 730,858.7 732.6,858.7 732.6,848 734.3,848 734.3,858.7 737.5,858.7 737.5,871.5 740.7,871.5 740.7,897.1 743.9,897.1 743.9,897.1 747.1,897.1 747.1,884.3 750.3,884.3 750.3,871.5 753.5,871.5 753.5,858.7 755.6,858.7 755.6,845.9 757.8,845.9 757.8,835.3 759.9,835.3 759.9,848 762,848 762,858.7 765.2,858.7 765.2,871.5 768.4,871.5 768.4,871.5 770.6,871.5 770.6,897.1 772.7,897.1 772.7,884.3 774.8,884.3 774.8,835.3 778,835.3 778,822.5 780.2,822.5 780.2,809.7 781.9,809.7 781.9,796.9 783.4,796.9 783.4,822.5 785.5,822.5 785.5,835.3 787.6,835.3 787.6,822.5 789.7,822.5 789.7,784.1 791.9,784.1 791.9,771.3 794,771.3 794,771.3 795.7,771.3 795.7,758.5 797.2,758.5 797.2,784.1 799.3,784.1 799.3,809.7 801.5,809.7 801.5,848 803.6,848 803.6,858.7 806.8,858.7 806.8,871.5 810,871.5 810,858.7 813.2,858.7 813.2,871.5 816.4,871.5 816.4,858.7 818.5,858.7 818.5,848 821.7,848 821.7,822.5 823.9,822.5 823.9,845.9 826.4,845.9 826.4,871.5 829.2,871.5 829.2,884.3 832.4,884.3 832.4,909.7 835.6,909.7 835.6,897.1 845.2,897.1 845.2,897.1 846.3,897.1 846.3,909.7 849.4,909.7 849.4,897.1 853.7,897.1 853.7,884.3 859.7,884.3 859.7,871.5 862.2,871.5 862.2,884.3 866.5,884.3 866.5,884.3 869.7,884.3 869.7,909.7 879.3,909.7 879.3,909.7 881.4,909.7 881.4,884.3 885.7,884.3 885.7,884.3 888.9,884.3 888.9,871.5 893.8,871.5 893.8,860.8 896.4,860.8 896.4,871.5 899.6,871.5 899.6,884.3 902.8,884.3 902.8,897.1 906,897.1 906,897.1 909.2,897.1 909.2,884.3 912.3,884.3 912.3,871.5 917.7,871.5 917.7,871.5 921.9,871.5 921.9,884.3 925.1,884.3 925.1,871.5 930.5,871.5 930.5,871.5 932.6,871.5 932.6,884.3 934.7,884.3 934.7,860.8 936.9,860.8 936.9,835.3 938.6,835.3 938.6,809.7 940.1,809.7 940.1,796.9 942.2,796.9 942.2,796.9 944.3,796.9 944.3,835.3 946.5,835.3 946.5,860.8 948.6,860.8 948.6,909.7" fill="none" stroke="#5e3b0c" stroke-width="1.5" stroke-linejoin="round"/><text class="k" transform="translate(592.1,948.9) scale(0.97,1)" text-anchor="middle">0</text><text class="k" transform="translate(722.8,948.9) scale(0.97,1)" text-anchor="middle">50</text><text class="k" transform="translate(853.6,948.9) scale(0.97,1)" text-anchor="middle">100</text><text class="t" transform="translate(770.2,679.7) scale(0.965,1)" text-anchor="middle">chr10</text></g>
<g><rect x="1064.1" y="694.9" width="361.6" height="214.8" fill="none" stroke="#383838" stroke-width="1.8"/><path d="M1196.4,909.7v-4.5M1196.4,694.9v4.5M1328.7,909.7v-4.5M1328.7,694.9v4.5" stroke="#383838" stroke-width="1.6" fill="none"/><rect x="1199.9" y="693.9" width="9.6" height="216.8" fill="#cccccc" fill-opacity="0.8"/><path d="M1064.1,906.2 1065.3,903.5 1066.5,903.5 1067.7,901.8 1069.1,898.8 1070.6,897 1072,894.1 1073.4,892.2 1074.8,891 1076.2,889 1077.7,886.6 1079.1,886.1 1080.5,884.1 1081.9,883 1083.4,882.1 1084.8,879.6 1086.2,878 1087.6,877.1 1089,876.6 1090.5,875.2 1091.9,875.7 1093.3,874.1 1094.7,875.5 1096.1,876.1 1097.6,875.5 1099,876.7 1100.4,877.9 1101.8,879.4 1103.3,880.4 1104.7,881.6 1106.1,882.8 1107.5,883.1 1108.9,885.8 1110.4,885.8 1112,887.5 1113.6,889 1115.2,888.7 1116.8,888.2 1118.2,888.7 1119.6,887.5 1121,889.2 1122.6,888.7 1124.2,890.6 1125.8,891.5 1127.4,892.7 1129,891.5 1130.6,891.6 1132.2,890.5 1133.8,888.9 1135.4,884.5 1137,882.7 1138.6,880.8 1140.2,880.1 1141.8,878.6 1143.4,878.2 1145,876.8 1146.6,876.4 1148.2,873.9 1149.8,873.4 1151.4,872.4 1153,868.5 1154.6,866.5 1156.2,865.5 1157.3,868.1 1158.3,868.6 1159.4,869.9 1160.5,871.8 1162.1,874.7 1163.7,878.7 1165.3,874 1166.9,870.8 1168.5,863.5 1170.1,856.4 1171.7,845.4 1173.3,835.2 1174.9,823.9 1176.5,814.1 1178.1,802.9 1179.7,792.1 1180.7,789.8 1181.8,788 1182.9,784.8 1183.9,782.8 1185,779 1186.1,776.2 1187.1,781.9 1188.2,787.6 1189.3,801.4 1190.3,814.4 1191.4,825.5 1192.5,834.4 1193.5,845.1 1194.6,857.1 1195.7,864.6 1196.7,872.8 1197.8,879.3 1198.8,887 1199.9,890.8 1201,895.7 1202,898.6 1203.1,901.3 1204.2,900 1205.2,898.9 1206.3,890.1 1207.4,882.9 1208.4,874.5 1209.5,867.2 1210.6,857.5 1211.6,848.1 1212.7,842.3 1213.8,835.5 1214.8,833.1 1215.9,831.3 1217,829.3 1218,826.9 1219.1,822.5 1220.2,817.6 1221.2,813.3 1222.3,810 1223.4,790.9 1224.4,771.9 1225.5,755.9 1226.6,741.3 1227.6,732 1228.7,724.5 1229.8,717 1230.8,709 1231.9,702.5 1233,695.6 1234,703.1 1235.1,711.8 1236.2,718.1 1237.2,724.5 1238.3,726 1239.4,727.8 1240.4,735.9 1241.5,742.1 1242.6,746.6 1243.6,750.6 1244.7,755.7 1245.8,762.2 1246.8,772.2 1247.9,782.2 1249,793 1250,803.6 1251.1,813.9 1252.2,824.1 1253.2,835.5 1254.3,845.7 1255.4,844.1 1256.4,841 1257.5,844.4 1258.6,845.1 1260.1,850 1261.7,853.2 1263.3,854.8 1264.9,856.8 1266.5,860.3 1268.1,865.3 1269.7,869.3 1271.3,873.8 1272.9,877.1 1274.5,882.7 1276.1,886.7 1277.7,891.3 1279.3,895.5 1280.9,898.3 1282.4,900.2 1283.8,902.2 1285.2,903.2 1286.5,903.4 1287.9,905 1289.2,905.8 1290.5,905.5 1291.9,905.9 1293.2,906.2 1294.5,906.8 1295.9,906.8 1297.3,906.7 1298.7,907.2 1300.1,907.5 1301.5,906.9 1303,906.1 1304.4,906.3 1305.8,904.8 1307.2,904.4 1308.7,904.3 1310.1,903.9 1311.5,903.8 1312.9,902.3 1314.3,902.6 1315.8,903.7 1317.2,902.7 1318.6,904 1320,905.1 1321.4,905 1322.9,906 1324.3,907.5 1325.7,907.9 1327,907.6 1328.3,908.1 1329.6,907.7 1330.8,907.8 1332.1,907.9 1333.4,908.1 1334.7,907.6 1335.9,907.4 1337.2,907.7 1338.5,908 1339.8,908.1 1341.1,907.8 1342.3,907.7 1343.6,908.1 1344.9,907.6 1346.2,907.9 1347.5,907.4 1348.7,908 1350,908.2 1351.3,907.8 1352.6,907.1 1353.9,907.8 1355.1,907.6 1356.4,907.1 1357.7,906.6 1359,905.9 1360.3,905.7 1361.5,905.1 1362.8,904.2 1364.1,903.9 1365.4,904.9 1366.7,904.7 1367.9,904.8 1369.2,905.2 1370.5,904.9 1371.8,905.5 1373,906.3 1374.3,905 1375.6,906 1376.9,905.6 1378.2,905.7 1379.4,905.5 1380.7,904.5 1382,904.5 1383.3,905.4 1384.6,904 1385.8,904.6 1387.1,906.1 1388.4,905.2 1389.7,905.8 1391,905.9 1392.2,906.2 1393.5,906.9 1394.8,907 1396.1,907.4 1397.4,907.1 1398.6,906.3 1399.9,906.4 1401.2,906.6 1402.5,905.6 1403.9,904.4 1405.3,904.9 1406.7,904.1 1408.2,903.2 1409.6,904 1411,902.5 1412.4,902.9 1413.8,901.2 1415.3,901.8 1416.7,901.4 1418.1,902.2 1419.5,901.6 1421,903.5 1422.4,905.4 1423.8,907.8" fill="none" stroke="#d99a2b" stroke-width="1.8" stroke-linejoin="round"/><path d="M1064.1,885.8 1065.4,877.6 1066.7,868.8 1068.3,862.5 1069.9,856.9 1071.4,852.8 1073,849.9 1074.1,851.8 1075.2,855.3 1076.2,855.5 1077.3,856.2 1078.4,862.8 1079.4,870 1081,871.3 1082.6,874.2 1084.2,873.4 1085.8,873.2 1087.4,866.9 1089,857.9 1090.6,854.1 1092.2,847.7 1093.3,845.3 1094.4,841.6 1095.4,845.2 1096.5,849.4 1098.1,852.7 1099.7,855.9 1101.3,860.3 1102.9,864.7 1104,866.7 1105,869.7 1106.1,864 1107.2,858.1 1108.8,860 1110.4,863.3 1112,851.3 1113.6,840.3 1114.6,835.7 1115.7,832.6 1117.3,836 1118.9,837 1120,841.4 1121,844.7 1122.1,852.4 1123.2,861.2 1124.2,865.6 1125.3,872.1 1126.9,877 1128.5,882.2 1129.6,882.4 1130.6,884.6 1131.7,879 1132.8,873.4 1134.3,872.3 1135.9,870.2 1137.5,863.4 1139.1,855.9 1140.2,860.6 1141.3,862.1 1142.3,865.5 1143.4,867.6 1144.5,861.7 1145.5,856.5 1147.1,851.8 1148.7,847.8 1150.3,843.3 1151.9,839.9 1153.5,834.3 1155.1,829.3 1156.2,834.6 1157.3,839.5 1158.3,853.4 1159.4,866.4 1160.5,870.2 1161.5,873.7 1162.6,872.5 1163.7,872.4 1165.4,885.8 1166.7,880.1 1167.9,873.6 1169.5,864.6 1171.1,857.2 1172.2,843.4 1173.3,830.6 1174.3,818.6 1175.4,804.9 1176.5,789.1 1177.5,770.8 1178.6,762.3 1179.7,753.5 1180.7,741.6 1181.8,728.6 1182.9,718.5 1183.9,708.2 1185,701.1 1186.1,696.5 1187.1,707.7 1188.2,717.6 1189.3,734.7 1190.3,749.7 1191.4,765.7 1192.5,782 1193.5,798.5 1194.6,813.9 1195.7,829.5 1196.7,846.4 1197.8,859.4 1198.8,871.2 1199.9,880.7 1201,890.1 1202,896.4 1203.1,902 1204.2,900.3 1205.2,900 1206.3,888.3 1207.4,878.1 1208.4,869.8 1209.5,860.9 1210.6,856.6 1211.6,851.7 1212.7,848 1213.8,844 1214.8,843 1215.9,842.1 1217,844.1 1218,848.4 1219.1,851.2 1220.2,854.8 1221.2,856.8 1222.3,836.1 1223.4,813.7 1224.4,792.3 1225.5,770.6 1226.6,756.1 1227.6,739.2 1228.7,728.4 1229.8,718.7 1230.8,708 1231.9,699.7 1233,703 1234,707.7 1235.1,712.3 1236.2,717.4 1237.2,710.8 1238.3,705 1239.4,716.6 1240.4,727.9 1241.5,745.1 1242.6,760.1 1243.6,774.4 1244.7,788 1245.8,801.1 1246.8,814.5 1247.9,825.2 1249,835.2 1250,832.9 1251.1,831 1252.2,833.8 1253.2,835.5 1254.3,834.4 1255.4,832.6 1256.4,835.7 1257.5,839.3 1258.6,842.2 1259.6,846.7 1260.7,847.6 1261.7,849.5 1262.8,852.6 1263.9,855.8 1264.9,858.4 1266,859.4 1267.1,858.9 1268.1,860.5 1269.2,866.1 1270.3,872 1271.3,875.3 1272.4,877.3 1273.5,884.1 1274.5,888.9 1275.6,891.3 1276.7,894.4 1278.3,897.8 1279.9,901.8 1281.5,903.3 1283.1,903.7 1284.5,904.1 1285.9,903.2 1287.3,903.4 1288.8,903.7 1290.2,903.8 1291.6,904.6 1293,904.5 1294.4,905.9 1295.9,906 1297.3,906.5 1298.7,906.5 1300.1,907.5 1301.5,906.3 1303,903 1304.4,901.5 1305.8,901.3 1307.2,900.5 1308.7,899.8 1310.3,897.4 1311.9,897.2 1313.5,899 1315.1,899.9 1316.5,898.6 1317.9,897.2 1319.3,896.7 1320.9,897.7 1322.5,899 1324.1,901.4 1325.7,904.9 1327.1,905.2 1328.6,903.8 1330,903.8 1331.4,904.7 1332.8,904.8 1334.2,904.6 1335.7,904.7 1337.1,905.5 1338.5,905.2 1339.9,904.9 1341.4,906.3 1342.8,905.3 1344.2,905.3 1345.6,905 1347,905.5 1348.5,903.4 1349.9,902.9 1351.3,901.4 1352.7,901.3 1354.1,900.7 1355.6,901.1 1357,899.8 1358.4,900.3 1359.8,899.1 1361.3,898.8 1362.7,898.4 1364.1,898.8 1365.5,899.2 1366.9,899 1368.4,898.5 1369.8,899.4 1371.2,901 1372.6,902.1 1374,900.7 1375.5,899.5 1376.9,900.1 1378.3,899.9 1379.7,898.9 1381.2,898.6 1382.6,898.9 1384,898 1385.4,897.8 1386.8,897.4 1388.3,896.5 1389.7,897.3 1391.1,896.1 1392.5,897.2 1393.9,895.4 1395.5,895.2 1397.1,895.4 1398.7,895.7 1400.3,896.8 1401.9,897.4 1403.5,898.5 1405.1,899 1406.7,900.9 1408.2,901.6 1409.6,903.2 1411,904.1 1412.4,904.2 1413.8,905.2 1415.3,905.8 1416.7,906.1 1418.1,906.4 1419.5,906.9 1421,907.4 1422.4,907.6 1423.8,907.7" fill="none" stroke="#5e3b0c" stroke-width="1.8" stroke-linejoin="round"/><text class="k" transform="translate(1064.1,948.9) scale(0.97,1)" text-anchor="middle">0</text><text class="k" transform="translate(1196.4,948.9) scale(0.97,1)" text-anchor="middle">50</text><text class="k" transform="translate(1328.7,948.9) scale(0.97,1)" text-anchor="middle">100</text><text class="t" transform="translate(1243.7,679.7) scale(0.965,1)" text-anchor="middle">chr11</text></g>
<g><rect x="1539.2" y="694.9" width="358.1" height="214.8" fill="none" stroke="#383838" stroke-width="1.8"/><path d="M1671.2,909.7v-4.5M1671.2,694.9v4.5M1803.1,909.7v-4.5M1803.1,694.9v4.5" stroke="#383838" stroke-width="1.6" fill="none"/><rect x="1630.5" y="693.9" width="9.6" height="216.8" fill="#cccccc" fill-opacity="0.8"/><path d="M1539.2,905.6 1540.9,905.6 1540.9,903.5 1542.6,903.5 1542.6,901.4 1544.2,901.4 1544.2,900.3 1545.8,900.3 1545.8,899.2 1548,899.2 1548,903.5 1550.1,903.5 1550.1,888.6 1551.7,888.6 1551.7,883.2 1553.3,883.2 1553.3,877.9 1554.9,877.9 1554.9,874.7 1556.5,874.7 1556.5,871.5 1558.6,871.5 1558.6,867.2 1560.8,867.2 1560.8,875.8 1562.9,875.8 1562.9,888.6 1565,888.6 1565,895 1567.2,895 1567.2,884.3 1569.3,884.3 1569.3,880 1570.7,880 1570.7,879.3 1572.1,879.3 1572.1,878.6 1573.6,878.6 1573.6,877.9 1575.2,877.9 1575.2,882.2 1576.8,882.2 1576.8,886.4 1578.4,886.4 1578.4,890.7 1580,890.7 1580,895 1581.6,895 1581.6,897.1 1583.2,897.1 1583.2,899.2 1584.8,899.2 1584.8,900.3 1586.4,900.3 1586.4,901.4 1588,901.4 1588,903.5 1589.6,903.5 1589.6,905.6 1591,905.6 1591,905.3 1592.4,905.3 1592.4,904.9 1593.8,904.9 1593.8,904.6 1595.2,904.6 1595.2,904.6 1596.7,904.6 1596.7,904.6 1598.1,904.6 1598.1,904.6 1599.5,904.6 1599.5,904.6 1600.9,904.6 1600.9,904.6 1602.3,904.6 1602.3,904.6 1603.9,904.6 1603.9,901.9 1605.5,901.9 1605.5,899.2 1607.1,899.2 1607.1,893.9 1608.7,893.9 1608.7,888.6 1610.3,888.6 1610.3,886.4 1611.9,886.4 1611.9,884.3 1613.5,884.3 1613.5,881.1 1615.1,881.1 1615.1,877.9 1616.7,877.9 1616.7,880 1618.3,880 1618.3,882.2 1619.9,882.2 1619.9,877.9 1621.5,877.9 1621.5,873.6 1623.1,873.6 1623.1,874.7 1624.7,874.7 1624.7,875.8 1626.3,875.8 1626.3,882.2 1627.9,882.2 1627.9,888.6 1630.1,888.6 1630.1,901.4 1632.2,901.4 1632.2,909.7 1633.9,909.7 1633.9,902.5 1635.6,902.5 1635.6,895.3 1637.3,895.3 1637.3,888.1 1639,888.1 1639,880.8 1640.7,880.8 1640.7,873.6 1642.9,873.6 1642.9,854.4 1645,854.4 1645,850.2 1647.1,850.2 1647.1,845.9 1649.3,845.9 1649.3,865.1 1651.4,865.1 1651.4,877.9 1653.5,877.9 1653.5,875.8 1655.7,875.8 1655.7,871.5 1657.2,871.5 1657.2,866.2 1658.8,866.2 1658.8,860.8 1660.4,860.8 1660.4,857.6 1662,857.6 1662,854.4 1664.2,854.4 1664.2,843.8 1666.3,843.8 1666.3,831 1668.4,831 1668.4,813.9 1670.6,813.9 1670.6,801.1 1672.7,801.1 1672.7,792.6 1674.8,792.6 1674.8,762.8 1677,762.8 1677,739.3 1679.1,739.3 1679.1,713.7 1681.2,713.7 1681.2,705.2 1683.4,705.2 1683.4,707.3 1685.5,707.3 1685.5,696.7 1687.6,696.7 1687.6,728.6 1689.8,728.6 1689.8,745.7 1691.9,745.7 1691.9,758.5 1694,758.5 1694,771.3 1696.2,771.3 1696.2,792.6 1698.3,792.6 1698.3,811.8 1700.4,811.8 1700.4,820.3 1702.6,820.3 1702.6,816.1 1704.7,816.1 1704.7,822.5 1706.8,822.5 1706.8,835.3 1709,835.3 1709,839.5 1711.1,839.5 1711.1,848 1713.2,848 1713.2,854.4 1715.4,854.4 1715.4,863 1717.5,863 1717.5,869.4 1719.6,869.4 1719.6,873.6 1721.2,873.6 1721.2,875.8 1722.8,875.8 1722.8,877.9 1724.4,877.9 1724.4,880 1726,880 1726,882.2 1727.6,882.2 1727.6,885.4 1729.2,885.4 1729.2,888.6 1730.8,888.6 1730.8,889.6 1732.4,889.6 1732.4,890.7 1733.8,890.7 1733.8,890 1735.3,890 1735.3,889.3 1736.7,889.3 1736.7,888.6 1738.1,888.6 1738.1,887.8 1739.5,887.8 1739.5,887.1 1740.9,887.1 1740.9,886.4 1742.4,886.4 1742.4,886.8 1743.8,886.8 1743.8,887.1 1745.2,887.1 1745.2,887.5 1746.6,887.5 1746.6,886.4 1748,886.4 1748,885.4 1749.5,885.4 1749.5,884.3 1750.9,884.3 1750.9,885.7 1752.3,885.7 1752.3,887.1 1753.7,887.1 1753.7,888.6 1755.2,888.6 1755.2,887.8 1756.6,887.8 1756.6,887.1 1758,887.1 1758,886.4 1759.4,886.4 1759.4,887.1 1760.8,887.1 1760.8,887.8 1762.3,887.8 1762.3,888.6 1763.7,888.6 1763.7,891.4 1765.1,891.4 1765.1,894.2 1766.5,894.2 1766.5,897.1 1767.9,897.1 1767.9,899.2 1769.4,899.2 1769.4,901.4 1770.8,901.4 1770.8,903.5 1772.2,903.5 1772.2,904.6 1773.6,904.6 1773.6,905.6 1775.1,905.6 1775.1,906.7 1776.5,906.7 1776.5,907 1777.9,907 1777.9,907.4 1779.3,907.4 1779.3,907.7 1780.7,907.7 1780.7,908.1 1782.2,908.1 1782.2,908.5 1783.6,908.5 1783.6,908.8 1785,908.8 1785,908.5 1786.4,908.5 1786.4,908.1 1787.8,908.1 1787.8,907.7 1789.3,907.7 1789.3,907.4 1790.7,907.4 1790.7,907 1792.1,907 1792.1,906.7 1793.7,906.7 1793.7,908.2 1795.3,908.2 1795.3,909.7 1796.9,909.7 1796.9,904.5 1798.5,904.5 1798.5,899.2 1799.9,899.2 1799.9,896.4 1801.4,896.4 1801.4,893.5 1802.8,893.5 1802.8,890.7 1804.9,890.7 1804.9,882.2 1806.5,882.2 1806.5,885.4 1808.1,885.4 1808.1,888.6 1809.7,888.6 1809.7,892.8 1811.3,892.8 1811.3,897.1 1812.7,897.1 1812.7,899.9 1814.1,899.9 1814.1,902.8 1815.6,902.8 1815.6,905.6 1817,905.6 1817,903.5 1818.4,903.5 1818.4,901.4 1819.8,901.4 1819.8,899.2 1821.3,899.2 1821.3,898.5 1822.7,898.5 1822.7,897.8 1824.1,897.8 1824.1,897.1 1825.5,897.1 1825.5,897.8 1826.9,897.8 1826.9,898.5 1828.4,898.5 1828.4,899.2 1829.8,899.2 1829.8,896.4 1831.2,896.4 1831.2,893.5 1832.6,893.5 1832.6,890.7 1834,890.7 1834,889.3 1835.5,889.3 1835.5,887.8 1836.9,887.8 1836.9,886.4 1838.3,886.4 1838.3,885.7 1839.7,885.7 1839.7,885 1841.2,885 1841.2,884.3 1842.6,884.3 1842.6,884.3 1844,884.3 1844,884.3 1845.4,884.3 1845.4,884.3 1846.8,884.3 1846.8,884.3 1848.3,884.3 1848.3,884.3 1849.7,884.3 1849.7,884.3 1851.3,884.3 1851.3,879 1852.9,879 1852.9,873.6 1855,873.6 1855,863 1856.6,863 1856.6,858.7 1858.2,858.7 1858.2,854.4 1860.3,854.4 1860.3,860.8 1862.5,860.8 1862.5,871.5 1864.6,871.5 1864.6,882.2 1866.7,882.2 1866.7,890.7 1868.3,890.7 1868.3,897.1 1869.9,897.1 1869.9,903.5 1872.1,903.5 1872.1,890.7 1873.7,890.7 1873.7,886.4 1875.3,886.4 1875.3,882.2 1876.9,882.2 1876.9,884.3 1878.5,884.3 1878.5,886.4 1880.1,886.4 1880.1,895 1881.7,895 1881.7,903.5 1883.3,903.5 1883.3,896 1884.9,896 1884.9,888.6 1886.5,888.6 1886.5,887.5 1888.1,887.5 1888.1,886.4 1889.7,886.4 1889.7,887.5 1891.3,887.5 1891.3,888.6 1892.9,888.6 1892.9,893.9 1894.5,893.9 1894.5,899.2 1895.7,899.2 1895.7,902.4 1897,902.4 1897,905.6" fill="none" stroke="#d99a2b" stroke-width="1.5" stroke-linejoin="round"/><path d="M1539.2,884.3 1541.6,884.3 1541.6,884.3 1543.2,884.3 1543.2,876.8 1544.8,876.8 1544.8,869.4 1546.4,869.4 1546.4,869.4 1548,869.4 1548,869.4 1550.1,869.4 1550.1,886.4 1552.2,886.4 1552.2,867.2 1554.4,867.2 1554.4,848 1556.5,848 1556.5,835.3 1558.6,835.3 1558.6,826.7 1560.8,826.7 1560.8,818.2 1562.9,818.2 1562.9,835.3 1565,835.3 1565,850.2 1567.2,850.2 1567.2,869.4 1569.3,869.4 1569.3,873.6 1570.9,873.6 1570.9,872.6 1572.5,872.6 1572.5,871.5 1574.6,871.5 1574.6,860.8 1576.8,860.8 1576.8,871.5 1578.4,871.5 1578.4,877.9 1580,877.9 1580,884.3 1581.6,884.3 1581.6,888.6 1583.2,888.6 1583.2,892.8 1584.8,892.8 1584.8,896 1586.4,896 1586.4,899.2 1588.5,899.2 1588.5,895 1590.1,895 1590.1,882.2 1591.7,882.2 1591.7,869.4 1593.8,869.4 1593.8,856.6 1595.9,856.6 1595.9,843.8 1597.5,843.8 1597.5,843.8 1599.1,843.8 1599.1,843.8 1601.3,843.8 1601.3,856.6 1603.4,856.6 1603.4,869.4 1605.5,869.4 1605.5,886.4 1607.1,886.4 1607.1,884.3 1608.7,884.3 1608.7,882.2 1610.9,882.2 1610.9,873.6 1613,873.6 1613,869.4 1614.6,869.4 1614.6,869.4 1616.2,869.4 1616.2,869.4 1617.8,869.4 1617.8,871.5 1619.4,871.5 1619.4,873.6 1621.5,873.6 1621.5,863 1623.7,863 1623.7,856.6 1625.8,856.6 1625.8,835.3 1627.9,835.3 1627.9,843.8 1630.1,843.8 1630.1,854.4 1632.2,854.4 1632.2,873.6 1634.3,873.6 1634.3,886.4 1636.5,886.4 1636.5,890.7 1638.6,890.7 1638.6,877.9 1640.7,877.9 1640.7,835.3 1642.9,835.3 1642.9,811.8 1645,811.8 1645,805.4 1647.1,805.4 1647.1,777.7 1649.3,777.7 1649.3,788.3 1651.4,788.3 1651.4,769.2 1653.5,769.2 1653.5,809.7 1655.7,809.7 1655.7,775.6 1657.8,775.6 1657.8,792.6 1659.9,792.6 1659.9,762.8 1662,762.8 1662,754.2 1664.2,754.2 1664.2,737.2 1666.3,737.2 1666.3,760.6 1668.4,760.6 1668.4,745.7 1670.6,745.7 1670.6,771.3 1672.7,771.3 1672.7,803.3 1674.8,803.3 1674.8,781.9 1677,781.9 1677,750 1679.1,750 1679.1,711.6 1681.2,711.6 1681.2,695.6 1682.9,695.6 1682.9,707.3 1684.6,707.3 1684.6,743.6 1686.6,743.6 1686.6,724.4 1688.7,724.4 1688.7,771.3 1690.8,771.3 1690.8,835.3 1693,835.3 1693,839.5 1695.1,839.5 1695.1,848 1697.2,848 1697.2,877.9 1699.4,877.9 1699.4,867.2 1701.5,867.2 1701.5,852.3 1703.6,852.3 1703.6,839.5 1705.8,839.5 1705.8,826.7 1707.9,826.7 1707.9,822.5 1710,822.5 1710,820.3 1712.2,820.3 1712.2,826.7 1714.3,826.7 1714.3,835.3 1716.4,835.3 1716.4,845.9 1718.6,845.9 1718.6,856.6 1720.7,856.6 1720.7,865.1 1722.8,865.1 1722.8,869.4 1724.9,869.4 1724.9,877.9 1727.1,877.9 1727.1,869.4 1729.2,869.4 1729.2,871.5 1731.3,871.5 1731.3,869.4 1733.5,869.4 1733.5,860.8 1735.6,860.8 1735.6,854.4 1737.7,854.4 1737.7,843.8 1739.9,843.8 1739.9,831 1741.6,831 1741.6,818.2 1743.1,818.2 1743.1,835.3 1745.2,835.3 1745.2,848 1747.3,848 1747.3,856.6 1749.5,856.6 1749.5,873.6 1751.6,873.6 1751.6,890.7 1753.2,890.7 1753.2,895 1754.8,895 1754.8,899.2 1756.4,899.2 1756.4,895 1758,895 1758,890.7 1759.6,890.7 1759.6,888.6 1761.2,888.6 1761.2,886.4 1762.8,886.4 1762.8,886.4 1764.4,886.4 1764.4,886.4 1765.8,886.4 1765.8,886.4 1767.2,886.4 1767.2,886.4 1768.7,886.4 1768.7,886.4 1770.3,886.4 1770.3,892.8 1771.9,892.8 1771.9,899.2 1773.5,899.2 1773.5,903.5 1775.1,903.5 1775.1,907.7 1776.7,907.7 1776.7,900.3 1778.3,900.3 1778.3,892.8 1779.7,892.8 1779.7,892.8 1781.1,892.8 1781.1,892.8 1782.5,892.8 1782.5,892.8 1784.1,892.8 1784.1,883.2 1785.7,883.2 1785.7,873.6 1787.3,873.6 1787.3,871.5 1788.9,871.5 1788.9,869.4 1790.5,869.4 1790.5,871.5 1792.1,871.5 1792.1,873.6 1793.7,873.6 1793.7,867.2 1795.3,867.2 1795.3,860.8 1797.4,860.8 1797.4,875.8 1799,875.8 1799,881.1 1800.6,881.1 1800.6,886.4 1802.2,886.4 1802.2,881.1 1803.8,881.1 1803.8,875.8 1805.4,875.8 1805.4,870.4 1807,870.4 1807,865.1 1809.2,865.1 1809.2,839.5 1811.3,839.5 1811.3,835.3 1813.4,835.3 1813.4,848 1815,848 1815,843.8 1816.6,843.8 1816.6,839.5 1818.8,839.5 1818.8,835.3 1820.9,835.3 1820.9,854.4 1822.5,854.4 1822.5,856.6 1824.1,856.6 1824.1,858.7 1825.7,858.7 1825.7,865.1 1827.3,865.1 1827.3,871.5 1828.9,871.5 1828.9,874.7 1830.5,874.7 1830.5,877.9 1832.6,877.9 1832.6,856.6 1834.8,856.6 1834.8,835.3 1836.9,835.3 1836.9,822.5 1839,822.5 1839,811.8 1841.2,811.8 1841.2,813.9 1843.3,813.9 1843.3,805.4 1845.4,805.4 1845.4,796.9 1847.5,796.9 1847.5,801.1 1849.7,801.1 1849.7,788.3 1851.8,788.3 1851.8,777.7 1853.9,777.7 1853.9,784.1 1856.1,784.1 1856.1,824.6 1858.2,824.6 1858.2,788.3 1860.3,788.3 1860.3,813.9 1862.5,813.9 1862.5,796.9 1864.6,796.9 1864.6,805.4 1866.7,805.4 1866.7,813.9 1868.9,813.9 1868.9,835.3 1871,835.3 1871,852.3 1873.1,852.3 1873.1,860.8 1875.3,860.8 1875.3,877.9 1877.4,877.9 1877.4,890.7 1879.5,890.7 1879.5,886.4 1881.1,886.4 1881.1,879 1882.7,879 1882.7,871.5 1884.9,871.5 1884.9,858.7 1887,858.7 1887,865.1 1889.1,865.1 1889.1,865.1 1891.3,865.1 1891.3,877.9 1893.4,877.9 1893.4,890.7 1895.2,890.7 1895.2,899.2 1897,899.2 1897,907.7" fill="none" stroke="#5e3b0c" stroke-width="1.5" stroke-linejoin="round"/><text class="k" transform="translate(1539.2,948.9) scale(0.97,1)" text-anchor="middle">0</text><text class="k" transform="translate(1671.2,948.9) scale(0.97,1)" text-anchor="middle">50</text><text class="k" transform="translate(1803.1,948.9) scale(0.97,1)" text-anchor="middle">100</text><text class="t" transform="translate(1717,679.7) scale(0.965,1)" text-anchor="middle">chr12</text></g>
<g><rect x="120" y="1023.5" width="358.6" height="214.8" fill="none" stroke="#383838" stroke-width="1.8"/><path d="M273.3,1238.3v-4.5M273.3,1023.5v4.5M426.6,1238.3v-4.5M426.6,1023.5v4.5" stroke="#383838" stroke-width="1.6" fill="none"/><rect x="168.5" y="1022.5" width="9.6" height="216.8" fill="#cccccc" fill-opacity="0.8"/><path d="M120,1237.4 121.3,1237.5 122.6,1237.5 123.9,1237.5 125.1,1237.6 126.4,1237.6 127.7,1237.5 129,1237.6 130.3,1237.5 131.6,1237.4 132.9,1237.6 134.2,1237.6 135.4,1237.5 136.7,1237.5 138,1237.3 139.3,1237.6 140.6,1237.5 141.9,1237.5 143.2,1237.3 144.4,1237.5 145.7,1237.5 147,1237.3 148.3,1237.4 149.6,1237.5 150.9,1237.6 152.2,1237.5 153.4,1237.5 154.7,1237.6 156,1237.6 157.3,1237.3 158.6,1237.4 159.9,1237.3 161.2,1237.6 162.5,1237.5 163.7,1237.3 165,1237.3 166.3,1237.4 167.6,1237.5 168.9,1237.4 170.2,1237.3 171.5,1237.5 172.7,1237.4 174,1237.4 175.3,1237.6 176.4,1211.7 177.4,1185.3 178.8,1153.3 180.2,1120.7 181.3,1098.5 182.4,1077.7 183.4,1067.5 184.5,1057.4 185.6,1045.7 186.6,1034.6 188.1,1027.6 189.8,1046.4 190.9,1067.9 191.9,1085.4 193,1103.2 194.1,1122.4 195.1,1141.3 196.2,1136.4 197.3,1131.4 198.3,1133.2 199.4,1134.2 200.5,1137.6 201.5,1141.4 202.6,1144.9 203.7,1145.3 204.7,1154 205.8,1163.6 206.9,1157 207.9,1151.3 209,1149.7 210.1,1148.9 211.1,1147.9 212.2,1147 213.3,1144.8 214.3,1141.9 215.4,1141.1 216.5,1140.3 217.5,1144.3 218.6,1150.5 219.7,1167.4 220.7,1185.1 221.8,1190.4 222.9,1198 223.9,1201.1 225,1205.8 226.6,1207.1 228.2,1207.7 229.3,1203.1 230.3,1197.9 231.4,1197.2 232.5,1195.1 233.5,1199.2 234.6,1201.8 235.7,1204.3 236.7,1205.3 237.8,1202.6 238.9,1200 239.9,1194.4 241,1188.3 242.1,1185.8 243.1,1182.9 244.2,1184.1 245.3,1183.7 246.5,1187 247.8,1190.6 249.2,1195.4 250.6,1202.3 252.2,1206.5 253.8,1210.7 254.8,1214.5 255.9,1218.4 257,1217.6 258,1215.8 259.1,1212.9 260.2,1207.5 261.2,1205.3 262.3,1201.3 263.4,1197.8 264.4,1195 265.5,1193.8 266.6,1193.9 267.6,1194.4 268.7,1197.1 269.8,1199.4 270.8,1201.7 271.9,1205 273,1210.7 274,1214.2 275.1,1218.9 276.7,1218.2 278.3,1218.3 279.9,1219.4 281.5,1220.5 282.9,1223.6 284.3,1224.5 285.8,1226.3 287.2,1230.9 288.6,1232.4 290,1236.3 291.6,1236.7 293.2,1237.6 294.5,1237.4 295.8,1237.4 297,1237.6 298.3,1237.4 299.6,1237.4 300.8,1237.3 302.1,1237.5 303.4,1237.4 304.7,1237.6 305.9,1237.4 307.2,1237.6 308.5,1237.5 309.7,1237.5 311,1237.6 312.3,1237.6 313.5,1237.3 314.8,1237.4 316.1,1237.6 317.3,1237.4 318.6,1237.3 319.9,1237.4 321.2,1237.3 322.4,1236.5 323.7,1236.8 325,1235.6 326.3,1235.9 327.6,1235.4 328.8,1235.2 330.1,1236.1 331.4,1236.1 332.7,1235.4 334.1,1235.6 335.5,1235.4 336.9,1236 338.5,1232.2 340.1,1227.9 341.7,1222.4 343.3,1218.3 344.9,1216.7 346.5,1215.2 348.1,1214 349.7,1214.9 350.8,1216.2 351.9,1218.3 352.9,1223.1 354,1226.5 355.1,1230.3 356.1,1233 357.5,1233.7 359,1234.6 360.4,1236 361.7,1236.1 363,1236.5 364.2,1236.4 365.5,1236.9 366.8,1236.7 368.1,1237.1 369.3,1237.2 370.6,1237.3 371.9,1237.3 373.2,1237.5 374.5,1237.5 375.7,1237.4 377,1237.5 378.3,1237.5 379.6,1237.6 380.9,1237.5 382.1,1237.6 383.4,1237.5 384.7,1237.6 386,1237.6 387.3,1237.3 388.5,1237.5 389.8,1237.4 391.1,1237.3 392.4,1237.5 393.7,1237.5 394.9,1237.5 396.2,1237.5 397.5,1237.6 398.8,1237.6 400.1,1237.4 401.3,1237.3 402.6,1237.4 403.9,1237.4 405.2,1237.6 406.5,1237.1 407.8,1237 409.2,1237.1 410.5,1236.5 411.8,1236.1 413.2,1235.9 414.5,1235.8 415.8,1235.8 417.3,1233.8 418.7,1230.7 420.1,1228.1 421.5,1224.8 422.9,1223 424.4,1221.5 425.8,1220.9 427.2,1222.2 428.6,1223.6 430,1224.6 431.5,1226.7 432.9,1226.6 434.3,1226.1 435.7,1225.9 437.2,1225.8 438.6,1224.4 440,1222.4 441.4,1220.8 442.8,1220.7 444.3,1220.1 445.7,1218.4 447.1,1219.8 448.5,1221 449.9,1222.9 451.4,1223.7 452.8,1225.2 454.2,1225 455.6,1222.8 457.1,1218.7 458.5,1216.1 459.9,1215.8 461.3,1214.3 462.7,1212.2 464.3,1211 465.9,1210.3 467,1213.7 468.1,1216.4 469.7,1221.2 471.3,1227 472.9,1228.1 474.5,1229.6 475.8,1231.4 477.2,1235 478.5,1237" fill="none" stroke="#d99a2b" stroke-width="1.8" stroke-linejoin="round"/><path d="M120,1237.6 121.3,1237.5 122.6,1237.5 123.9,1237.4 125.2,1237.3 126.5,1237.4 127.8,1237.3 129.1,1237.3 130.5,1237.3 131.8,1237.3 133.1,1237.5 134.4,1237.3 135.7,1237.5 137,1237.4 138.3,1237.6 139.6,1237.5 140.9,1237.6 142.2,1237.5 143.5,1237.6 144.8,1237.6 146.1,1237.6 147.4,1237.3 148.8,1237.4 150.1,1237.4 151.4,1237.3 152.7,1237.6 154,1237.6 155.3,1237.3 156.6,1237.3 157.9,1237.6 159.2,1237.3 160.5,1237.3 161.8,1237.6 163.1,1237.4 164.4,1237.3 165.7,1237.5 167,1237.3 168.4,1237.4 169.7,1237.4 171,1237.6 172.3,1237.6 173.6,1237.6 174.9,1237.5 176,1211.8 177,1184.9 178.1,1163.3 179.2,1142.2 180.2,1120.9 181.3,1100 182.4,1082.9 183.4,1068.1 184.5,1061.5 185.6,1054.7 186.8,1039.6 188.1,1024.3 189.8,1057.5 190.9,1062.9 191.9,1068.6 193,1077.8 194.1,1084.6 195.1,1102.4 196.2,1119.7 197.3,1111.9 198.3,1104.4 199.8,1083 201.5,1085.8 202.6,1092.5 203.7,1100.2 204.7,1105 205.8,1110 206.9,1108.2 207.9,1108.1 209,1115.5 210.1,1124 211.1,1144.4 212.2,1162.5 213.3,1174.8 214.3,1184.1 215.9,1189.1 217.5,1195 219.1,1200.2 220.7,1206.7 221.8,1201.5 222.9,1197.1 224.5,1191 226.1,1184.2 227.1,1175.2 228.2,1166.7 229.3,1164.6 230.3,1161.2 231.4,1159.2 232.5,1159.9 233.5,1163.3 234.6,1167.5 235.7,1170.4 236.7,1174.7 237.8,1179 238.9,1183.7 239.9,1189.5 241,1193.3 242.1,1191.7 243.1,1188.5 244.2,1187.6 245.3,1183.7 246.9,1182.1 248.5,1179.7 249.5,1177 250.6,1174.5 251.7,1179.2 252.7,1184.6 253.8,1188 254.8,1190.4 256.4,1191.9 258,1190.3 259.6,1195.1 261.2,1199.9 262.8,1205.3 264.4,1209.5 266,1213.3 267.6,1216.5 269.2,1219.6 270.8,1222.4 272.3,1224 273.7,1224.3 275.1,1224.9 276.5,1226.9 277.9,1227.8 279.4,1229.3 280.8,1231.3 282.2,1234.1 283.6,1235.5 285.1,1235.9 286.5,1236.8 287.9,1237.4 289.1,1237.3 290.3,1237.5 291.6,1237.5 292.8,1237.3 294,1237.5 295.2,1237.3 296.4,1237.5 298,1235.2 299.6,1233.9 301.2,1233.2 302.8,1234.3 304.2,1232.9 305.7,1230 307.1,1230.1 308.5,1229.4 309.9,1231.6 311.4,1232.2 312.8,1231.3 314.2,1232.5 315.6,1231.9 317,1233.8 318.5,1232.9 319.9,1233.9 321.3,1232.7 322.7,1231.7 324.1,1230.8 325.6,1231.7 327,1233.6 328.4,1233.2 329.8,1234 331.3,1235.4 332.7,1236.3 334.1,1236.3 335.5,1236.8 336.9,1237.6 338.2,1237 339.5,1236.7 340.8,1236.5 342.1,1236 343.3,1236.3 344.6,1235.4 345.9,1235.3 347.2,1234.7 348.5,1235.5 349.7,1234.1 351,1235 352.3,1234.7 353.6,1234.6 354.8,1234.3 356.1,1232.8 357.4,1234.3 358.7,1234.5 360,1232.9 361.2,1233.6 362.5,1233.8 363.8,1234.3 365.1,1234.7 366.4,1234.7 367.6,1234.6 368.9,1235.3 370.2,1235.3 371.5,1235.4 372.8,1236 374,1236.5 375.3,1236.7 376.6,1236.5 377.9,1236.5 379.2,1235.7 380.4,1235.5 381.7,1235.9 383,1234.7 384.3,1235 385.6,1235 386.8,1234.2 388.1,1234.4 389.4,1234.2 390.7,1234.5 391.9,1235.5 393.2,1235.8 394.5,1236.9 395.8,1236.8 397.1,1236.9 398.3,1237 399.6,1237.2 400.9,1237.6 402.3,1235.1 403.7,1233.3 405.2,1231 406.6,1230.8 408,1228.6 409.4,1227 410.9,1226.1 412.3,1225.7 413.7,1225.6 415.1,1226.3 416.5,1226.1 418,1227.1 419.4,1225.1 420.8,1225.2 422.2,1223.8 423.6,1221.4 425.1,1221.3 426.5,1221.4 427.9,1220.6 429.3,1222 430.8,1223 432.2,1224.6 433.6,1226.4 435,1226.8 436.4,1226.2 437.9,1225 439.3,1225.2 440.7,1224.2 442.1,1223.7 443.5,1222.3 445,1221.4 446.4,1222 447.8,1221 449.2,1222.2 450.7,1223 452.1,1225.9 453.5,1227.6 454.9,1229.3 456.3,1232.3 457.8,1230.3 459.2,1230.6 460.6,1228.6 462,1229.1 463.4,1228.8 464.9,1228.1 466.3,1229.1 467.7,1229.9 469.1,1231.6 470.6,1231.8 472,1232.5 473.4,1233.2 474.7,1235.1 476,1235.7 477.2,1236.4 478.5,1236.9" fill="none" stroke="#5e3b0c" stroke-width="1.8" stroke-linejoin="round"/><text class="k" transform="translate(120,1277.5) scale(0.97,1)" text-anchor="middle">0</text><text class="k" transform="translate(273.3,1277.5) scale(0.97,1)" text-anchor="middle">50</text><text class="k" transform="translate(426.6,1277.5) scale(0.97,1)" text-anchor="middle">100</text><text class="t" transform="translate(298.1,1008.3) scale(0.965,1)" text-anchor="middle">chr13</text></g>
<g><rect x="592.1" y="1023.5" width="358.6" height="214.8" fill="none" stroke="#383838" stroke-width="1.8"/><path d="M755.7,1238.3v-4.5M755.7,1023.5v4.5M919.3,1238.3v-4.5M919.3,1023.5v4.5" stroke="#383838" stroke-width="1.6" fill="none"/><rect x="643.7" y="1022.5" width="11.7" height="216.8" fill="#cccccc" fill-opacity="0.8"/><path d="M592.1,1237.4 593.4,1237.3 594.7,1237.3 596,1237.4 597.3,1237.6 598.6,1237.4 599.9,1237.4 601.1,1237.5 602.4,1237.5 603.7,1237.6 605,1237.5 606.3,1237.4 607.6,1237.5 608.9,1237.3 610.2,1237.6 611.5,1237.4 612.8,1237.4 614.1,1237.5 615.4,1237.3 616.7,1237.5 617.9,1237.6 619.2,1237.4 620.5,1237.6 621.8,1237.5 623.1,1237.6 624.4,1237.4 625.7,1237.4 627,1237.4 628.3,1237.3 629.6,1237.3 630.9,1237.6 632.2,1237.5 633.5,1237.4 634.7,1237.6 636,1237.5 637.3,1237.6 638.6,1237.4 639.9,1237.3 641.2,1237.6 642.5,1237.3 643.8,1237.6 645.1,1237.5 646.4,1237.6 647.7,1237.6 649,1237.5 650.3,1237.3 651.5,1237.3 652.8,1237.4 654.1,1237.6 655.4,1237.3 656.5,1210.9 657.6,1183.8 659.2,1152.3 660.8,1119.7 661.8,1099 662.9,1078 663.9,1061.4 665,1046.5 666.1,1034 667.1,1023.5 668.6,1034.9 670.3,1067.1 671.4,1083.8 672.5,1099 673.5,1112.4 674.6,1125.6 675.7,1132.7 676.7,1142.6 677.8,1147.4 678.9,1153 679.9,1160.2 681,1167.4 682.1,1173.2 683.1,1179.7 684.2,1177.6 685.3,1175.5 686.9,1173.3 688.5,1171.3 690.1,1171.9 691.7,1172.3 693.1,1172.3 694.5,1172.4 695.9,1171.1 697.5,1170.2 699.1,1167 700.2,1166.7 701.3,1167.1 702.9,1163.4 704.5,1158.2 706.1,1154.2 707.7,1150.3 708.7,1155.3 709.8,1158.8 710.9,1162 711.9,1165.2 713.5,1166.8 715.1,1170.3 716.7,1173.6 718.3,1176.4 719.9,1180.1 721.5,1184.5 723.1,1186.4 724.7,1189.1 726.3,1192.3 727.9,1194.9 729.5,1197 731.1,1197.8 732.7,1199 734.3,1202.2 735.9,1203 737.5,1203.3 739.1,1201.3 740.7,1200 742.3,1196.6 743.9,1195.1 745.5,1195 747.1,1192.7 748.7,1193.1 750.3,1193.8 751.9,1192.7 753.5,1191.5 755.1,1191 756.7,1191.7 758.3,1190.5 759.9,1191.7 761.5,1189.7 763.1,1189.1 764.7,1190.1 766.3,1190.6 767.9,1193.4 769.5,1195.4 771.1,1197.2 772.7,1197.7 774.3,1198.3 775.9,1199.3 777.5,1202.3 779.1,1203.5 780.7,1207.3 782.3,1210.5 783.9,1213.1 785.5,1213.9 787.1,1215.8 788.7,1216 790.3,1215.7 791.9,1214.7 793.5,1213.8 795.1,1213 796.7,1209.7 798.3,1208.7 799.9,1205.6 801.5,1203.6 803.1,1202 804.7,1201.7 806.3,1202.9 807.9,1205.6 809.5,1201.9 811.1,1197.8 812.7,1194.6 814.3,1193.6 815.9,1190.9 817.5,1188.3 819.1,1185 820.7,1180.7 822.3,1177.1 823.9,1174 825.5,1177.3 827.1,1180.5 828.7,1180.8 830.3,1180.8 831.9,1178.7 833.5,1177.3 835.1,1179.6 836.7,1182.1 838.3,1183.7 839.9,1185.4 841.5,1186.6 843.1,1188.6 844.7,1193.2 846.3,1198.2 847.9,1201.8 849.4,1205.5 851,1208.5 852.6,1211 854.2,1212.8 855.8,1214.2 857.4,1214.9 859,1216.5 860.6,1217 862.2,1218 863.8,1219.7 865.4,1221.5 867,1222.8 868.6,1223.9 870.2,1226.4 871.8,1226.6 873.4,1226.8 875,1226.8 876.5,1227.4 877.9,1227.9 879.3,1227 880.9,1225.7 882.5,1223.7 884.1,1221.9 885.7,1221.5 887.3,1220.5 888.9,1218.6 890.5,1217 892.1,1215.8 893.7,1215 895.3,1214.4 896.9,1212.5 898.5,1212 900.1,1211.2 901.7,1209.9 903.3,1209.5 904.9,1208.2 906.5,1207 908.1,1206.1 909.7,1205 911.3,1203.6 912.9,1204.2 914.5,1206.1 916.1,1206.1 917.7,1207.2 919.3,1212 920.9,1216.1 922.5,1220.2 924.1,1222.3 925.7,1225 927.3,1227.6 928.9,1228.1 930.5,1229.9 931.5,1199.9 932.6,1171.2 934.2,1170.8 935.8,1170.5 937.4,1171.4 939,1171.2 940.6,1173 942.2,1174.3 943.3,1179.5 944.3,1185.1 945.4,1209.4 946.5,1236 947.8,1236.5 949.2,1237.1 950.5,1237.3" fill="none" stroke="#d99a2b" stroke-width="1.8" stroke-linejoin="round"/><path d="M592.1,1237.3 593.4,1237.4 594.7,1237.6 596,1237.5 597.3,1237.5 598.7,1237.4 600,1237.6 601.3,1237.5 602.6,1237.3 603.9,1237.4 605.2,1237.3 606.5,1237.6 607.8,1237.6 609.2,1237.4 610.5,1237.4 611.8,1237.6 613.1,1237.3 614.4,1237.3 615.7,1237.3 617,1237.4 618.3,1237.5 619.7,1237.6 621,1237.3 622.3,1237.6 623.6,1237.5 624.9,1237.6 626.2,1237.6 627.5,1237.3 628.8,1237.5 630.2,1237.3 631.5,1237.3 632.8,1237.4 634.1,1237.6 635.4,1237.5 636.7,1237.3 638,1237.6 639.3,1237.6 640.7,1237.4 642,1237.4 643.3,1237.5 644.6,1237.6 645.9,1237.3 647.2,1237.5 648.5,1237.6 649.8,1237.5 651.2,1237.5 652.2,1211.5 653.3,1184.6 654.9,1152.2 656.5,1120.8 658.1,1099.3 659.7,1077.7 661.3,1062.6 662.9,1045.7 663.9,1036.4 665,1027.3 666.5,1040.2 668.2,1046.7 669.3,1062.2 670.3,1077.5 671.4,1089.3 672.5,1100 673.5,1116.7 674.6,1133.9 675.7,1139.8 676.7,1146.2 677.8,1150.6 678.9,1154.1 679.9,1159.3 681,1163.9 682.1,1169 683.1,1176.5 684.2,1172.2 685.3,1166.8 686.3,1164.6 687.4,1163.4 688.5,1167 689.5,1171.4 690.6,1174.1 691.7,1176.3 692.7,1174.4 693.8,1171.9 694.9,1171.5 695.9,1170.9 697,1165.8 698.1,1160.6 699.1,1165.4 700.2,1170 701.3,1170.2 702.3,1171.6 703.4,1173.6 704.5,1173.7 705.5,1175.4 706.6,1176.3 707.7,1178.5 708.7,1180.3 709.8,1187.9 710.9,1195.6 711.9,1197.8 713,1202.2 714.1,1203.4 715.1,1203 716.2,1204.3 717.3,1205.4 718.3,1208.4 719.4,1211.6 720.5,1215.7 721.5,1218 723.1,1216.8 724.7,1217.4 726.3,1218.5 727.9,1220.9 729.5,1221.8 731.1,1222.7 732.7,1220.7 734.3,1218.1 735.9,1217.8 737.5,1216.1 739.1,1214.9 740.7,1213.9 742.3,1213.2 743.9,1213.1 745.5,1214.6 747.1,1217.4 748.7,1211 750.3,1205.5 751.9,1203.1 753.5,1198.9 755.1,1198.3 756.7,1195 758.3,1193.8 759.9,1192.7 761,1191.7 762,1191.8 763.1,1196.1 764.2,1199.6 765.2,1204.3 766.3,1209.3 767.4,1212.6 768.4,1216.2 769.5,1211.5 770.6,1206.1 771.6,1204.4 772.7,1202.2 774.3,1201.4 775.9,1201.9 777.5,1203.7 779.1,1206.3 780.7,1208.5 782.3,1213.2 783.4,1214.6 784.4,1218.9 786,1221.6 787.6,1225.6 789.2,1218 790.8,1213 792.4,1203.9 794,1197.8 795.6,1191.3 797.2,1184.6 798.8,1178.7 800.4,1173.7 801.5,1171.7 802.5,1169.1 803.6,1176.5 804.7,1185.2 805.7,1191.1 806.8,1197 807.9,1201.9 808.9,1206.1 810,1203.1 811.1,1201.8 812.7,1203.9 814.3,1205.2 815.9,1206.6 817.5,1208.7 818.5,1203.9 819.6,1199 821.2,1202.5 822.8,1205.8 824.4,1211.6 826,1217.2 827.1,1210.5 828.1,1205.1 829.7,1201.5 831.3,1196.5 832.9,1192.5 834.5,1188.1 836.1,1184.9 837.7,1182.7 838.8,1180.6 839.9,1180.4 840.9,1183.3 842,1183.9 843.6,1190.4 845.2,1195.4 846.8,1200 848.4,1206.7 850,1209.5 851.6,1212.1 853.2,1215.1 854.8,1215.8 856.4,1218.2 858,1219.3 859.6,1218 861.2,1219.4 862.8,1220.3 864.4,1221.6 866,1221.5 867.6,1223.4 869.2,1224.5 870.8,1224.8 872.4,1223.2 874,1222.1 875,1219.8 876.1,1216.6 877.7,1218 879.3,1221.1 880.9,1216.8 882.5,1214.4 884.1,1210.2 885.7,1205.4 887.3,1201.9 888.9,1200.2 890.5,1198 892.1,1195.4 893.7,1192.3 895.3,1191 896.9,1190.7 898.5,1189.3 900.1,1190.2 901.7,1190.1 903.3,1192.2 904.9,1192.6 906.5,1198.2 908.1,1200.8 909.7,1203.3 911.3,1206.6 912.9,1200.9 914.5,1197 916.1,1191.7 917.7,1187.4 919.3,1186 920.9,1185.4 922.5,1186.2 924.1,1188.1 925.1,1187.5 926.2,1187.2 927.3,1194.4 928.3,1202.4 929.4,1210.5 930.5,1217.9 932.1,1221.6 933.7,1224.6 935.3,1225.7 936.9,1227.5 938.5,1228.2 940.1,1229.8 941.7,1230.6 943.3,1234.4 944.3,1234.7 945.4,1237 946.7,1237.2 948,1236.9 949.2,1237.3 950.5,1237.6" fill="none" stroke="#5e3b0c" stroke-width="1.8" stroke-linejoin="round"/><text class="k" transform="translate(592.1,1277.5) scale(0.97,1)" text-anchor="middle">0</text><text class="k" transform="translate(755.7,1277.5) scale(0.97,1)" text-anchor="middle">50</text><text class="k" transform="translate(919.3,1277.5) scale(0.97,1)" text-anchor="middle">100</text><text class="t" transform="translate(770.2,1008.3) scale(0.965,1)" text-anchor="middle">chr14</text></g>
<g><rect x="1064.1" y="1023.5" width="361.6" height="214.8" fill="none" stroke="#383838" stroke-width="1.8"/><path d="M1237.1,1238.3v-4.5M1237.1,1023.5v4.5M1410,1238.3v-4.5M1410,1023.5v4.5" stroke="#383838" stroke-width="1.6" fill="none"/><rect x="1122.1" y="1022.5" width="11.7" height="216.8" fill="#cccccc" fill-opacity="0.8"/><path d="M1064.1,1237.5 1065.7,1237.5 1065.7,1237.5 1067.3,1237.5 1067.3,1237.5 1068.9,1237.5 1068.9,1237.5 1070.4,1237.5 1070.4,1237.5 1072,1237.5 1072,1237.5 1073.6,1237.5 1073.6,1237.5 1075.2,1237.5 1075.2,1237.5 1076.8,1237.5 1076.8,1237.5 1078.4,1237.5 1078.4,1237.5 1080,1237.5 1080,1237.5 1081.5,1237.5 1081.5,1237.5 1083.1,1237.5 1083.1,1237.5 1084.7,1237.5 1084.7,1237.5 1086.3,1237.5 1086.3,1237.5 1087.9,1237.5 1087.9,1237.5 1089.5,1237.5 1089.5,1237.5 1091.1,1237.5 1091.1,1237.5 1092.7,1237.5 1092.7,1237.5 1094.2,1237.5 1094.2,1237.5 1095.8,1237.5 1095.8,1237.5 1097.4,1237.5 1097.4,1237.5 1099,1237.5 1099,1237.5 1100.6,1237.5 1100.6,1237.5 1102.2,1237.5 1102.2,1237.5 1103.8,1237.5 1103.8,1237.5 1105.3,1237.5 1105.3,1237.5 1106.9,1237.5 1106.9,1237.5 1108.5,1237.5 1108.5,1237.5 1110.1,1237.5 1110.1,1237.5 1111.7,1237.5 1111.7,1237.5 1113.3,1237.5 1113.3,1237.5 1114.9,1237.5 1114.9,1237.5 1116.4,1237.5 1116.4,1237.5 1118,1237.5 1118,1237.5 1119.6,1237.5 1119.6,1237.5 1121.2,1237.5 1121.2,1237.5 1122.8,1237.5 1122.8,1237.5 1124.4,1237.5 1124.4,1237.5 1126,1237.5 1126,1237.5 1127.5,1237.5 1127.5,1237.5 1129.1,1237.5 1129.1,1237.5 1130.7,1237.5 1130.7,1237.5 1132.3,1237.5 1132.3,1237.5 1133.9,1237.5 1133.9,1237.5 1135.5,1237.5 1135.5,1237.5 1137.1,1237.5 1137.1,1237.5 1138.7,1237.5 1138.7,1237.5 1140.2,1237.5 1140.2,1237.5 1141.8,1237.5 1141.8,1237.5 1143.4,1237.5 1143.4,1237.5 1145.5,1237.5 1145.5,1216.6 1147.7,1216.6 1147.7,1201.6 1149.8,1201.6 1149.8,1184.6 1151.9,1184.6 1151.9,1167.5 1154.1,1167.5 1154.1,1152.6 1156.2,1152.6 1156.2,1141.9 1158.3,1141.9 1158.3,1124.9 1160.5,1124.9 1160.5,1133.4 1162.6,1133.4 1162.6,1146.2 1164.7,1146.2 1164.7,1163.3 1166.9,1163.3 1166.9,1169.7 1169,1169.7 1169,1152.6 1171.1,1152.6 1171.1,1141.9 1173.3,1141.9 1173.3,1129.1 1175.4,1129.1 1175.4,1118.5 1177.5,1118.5 1177.5,1114.2 1179.7,1114.2 1179.7,1120.6 1181.8,1120.6 1181.8,1141.9 1183.9,1141.9 1183.9,1163.3 1186.1,1163.3 1186.1,1169.7 1188.2,1169.7 1188.2,1184.6 1190.3,1184.6 1190.3,1197.4 1192.5,1197.4 1192.5,1205.9 1194.6,1205.9 1194.6,1199.5 1196.7,1199.5 1196.7,1188.8 1198.8,1188.8 1198.8,1176 1201,1176 1201,1163.3 1203.1,1163.3 1203.1,1146.2 1205.2,1146.2 1205.2,1129.1 1207.4,1129.1 1207.4,1114.2 1209.5,1114.2 1209.5,1114.2 1211.6,1114.2 1211.6,1116.3 1213.8,1116.3 1213.8,1120.6 1215.9,1120.6 1215.9,1129.1 1218,1129.1 1218,1137.7 1220.2,1137.7 1220.2,1150.5 1222.3,1150.5 1222.3,1163.3 1224.4,1163.3 1224.4,1152.6 1226.6,1152.6 1226.6,1144.1 1228.7,1144.1 1228.7,1159 1230.8,1159 1230.8,1176 1233,1176 1233,1152.6 1235.1,1152.6 1235.1,1144.1 1237.2,1144.1 1237.2,1152.6 1239.4,1152.6 1239.4,1163.3 1241.5,1163.3 1241.5,1169.7 1243.6,1169.7 1243.6,1176 1245.8,1176 1245.8,1184.6 1247.9,1184.6 1247.9,1195.2 1250,1195.2 1250,1201.6 1252.2,1201.6 1252.2,1205.9 1254.3,1205.9 1254.3,1212.3 1255.8,1212.3 1255.8,1220.8 1257.5,1220.8 1257.5,1210.2 1259.6,1210.2 1259.6,1193.1 1261.7,1193.1 1261.7,1176 1263.9,1176 1263.9,1167.5 1266,1167.5 1266,1163.3 1268.1,1163.3 1268.1,1154.7 1270.3,1154.7 1270.3,1141.9 1272.4,1141.9 1272.4,1133.4 1274.5,1133.4 1274.5,1163.3 1275.6,1163.3 1275.6,1120.6 1277.7,1120.6 1277.7,1078 1279.9,1078 1279.9,1063 1282,1063 1282,1050.2 1284.1,1050.2 1284.1,1043.9 1286.3,1043.9 1286.3,1078 1288.4,1078 1288.4,1056.6 1289.9,1056.6 1289.9,1024.7 1291.6,1024.7 1291.6,1056.6 1293.7,1056.6 1293.7,1082.2 1295.9,1082.2 1295.9,1056.6 1298,1056.6 1298,1052.4 1300.1,1052.4 1300.1,1063 1302.3,1063 1302.3,1088.6 1304.4,1088.6 1304.4,1148.3 1306.5,1148.3 1306.5,1114.2 1308.7,1114.2 1308.7,1146.2 1310.8,1146.2 1310.8,1141.9 1312.9,1141.9 1312.9,1120.6 1315.1,1120.6 1315.1,1103.6 1317.2,1103.6 1317.2,1095 1319.3,1095 1319.3,1099.3 1321.4,1099.3 1321.4,1103.6 1323.6,1103.6 1323.6,1090.8 1325.7,1090.8 1325.7,1112.1 1327.8,1112.1 1327.8,1095 1330,1095 1330,1114.2 1332.1,1114.2 1332.1,1124.9 1334.2,1124.9 1334.2,1133.4 1336.4,1133.4 1336.4,1146.2 1338.5,1146.2 1338.5,1150.5 1340.6,1150.5 1340.6,1161.1 1342.8,1161.1 1342.8,1173.9 1344.9,1173.9 1344.9,1188.8 1347,1188.8 1347,1201.6 1349.2,1201.6 1349.2,1205.9 1351.3,1205.9 1351.3,1208 1353.4,1208 1353.4,1201.6 1355.6,1201.6 1355.6,1212.3 1357.7,1212.3 1357.7,1201.6 1359.8,1201.6 1359.8,1195.2 1362,1195.2 1362,1193.1 1364.1,1193.1 1364.1,1188.8 1366.2,1188.8 1366.2,1193.1 1368.4,1193.1 1368.4,1184.6 1370.5,1184.6 1370.5,1184.6 1372.6,1184.6 1372.6,1182.4 1374.8,1182.4 1374.8,1180.3 1376.9,1180.3 1376.9,1184.6 1379,1184.6 1379,1182.4 1381.2,1182.4 1381.2,1180.3 1383.3,1180.3 1383.3,1188.8 1385.4,1188.8 1385.4,1197.4 1387.5,1197.4 1387.5,1201.6 1389.7,1201.6 1389.7,1205.9 1391.8,1205.9 1391.8,1199.5 1393.9,1199.5 1393.9,1201.6 1396.1,1201.6 1396.1,1197.4 1398.2,1197.4 1398.2,1201.6 1400.3,1201.6 1400.3,1197.4 1402.5,1197.4 1402.5,1188.8 1404.6,1188.8 1404.6,1193.1 1406.7,1193.1 1406.7,1197.4 1408.9,1197.4 1408.9,1195.2 1411,1195.2 1411,1193.1 1413.1,1193.1 1413.1,1193.1 1415.3,1193.1 1415.3,1197.4 1417.4,1197.4 1417.4,1218.7 1419.5,1218.7 1419.5,1227.2 1421.7,1227.2 1421.7,1235.7 1423.6,1235.7 1423.6,1236.6 1425.5,1236.6 1425.5,1237.5" fill="none" stroke="#d99a2b" stroke-width="1.5" stroke-linejoin="round"/><path d="M1064.1,1237.5 1065.7,1237.5 1065.7,1237.5 1067.3,1237.5 1067.3,1237.5 1068.9,1237.5 1068.9,1237.5 1070.4,1237.5 1070.4,1237.5 1072,1237.5 1072,1237.5 1073.6,1237.5 1073.6,1237.5 1075.2,1237.5 1075.2,1237.5 1076.8,1237.5 1076.8,1237.5 1078.4,1237.5 1078.4,1237.5 1079.9,1237.5 1079.9,1237.5 1081.5,1237.5 1081.5,1237.5 1083.1,1237.5 1083.1,1237.5 1084.7,1237.5 1084.7,1237.5 1086.3,1237.5 1086.3,1237.5 1087.9,1237.5 1087.9,1237.5 1089.5,1237.5 1089.5,1237.5 1091,1237.5 1091,1237.5 1092.6,1237.5 1092.6,1237.5 1094.2,1237.5 1094.2,1237.5 1095.8,1237.5 1095.8,1237.5 1097.4,1237.5 1097.4,1237.5 1099,1237.5 1099,1237.5 1100.5,1237.5 1100.5,1237.5 1102.1,1237.5 1102.1,1237.5 1103.7,1237.5 1103.7,1237.5 1105.3,1237.5 1105.3,1237.5 1106.9,1237.5 1106.9,1237.5 1108.5,1237.5 1108.5,1237.5 1110,1237.5 1110,1237.5 1111.6,1237.5 1111.6,1237.5 1113.2,1237.5 1113.2,1237.5 1114.8,1237.5 1114.8,1237.5 1116.4,1237.5 1116.4,1237.5 1118,1237.5 1118,1237.5 1119.6,1237.5 1119.6,1237.5 1121.1,1237.5 1121.1,1237.5 1122.7,1237.5 1122.7,1237.5 1124.3,1237.5 1124.3,1237.5 1125.9,1237.5 1125.9,1237.5 1127.5,1237.5 1127.5,1237.5 1129.1,1237.5 1129.1,1237.5 1130.6,1237.5 1130.6,1237.5 1132.2,1237.5 1132.2,1237.5 1133.8,1237.5 1133.8,1237.5 1135.9,1237.5 1135.9,1205.9 1138.1,1205.9 1138.1,1184.6 1140.2,1184.6 1140.2,1154.7 1142.3,1154.7 1142.3,1133.4 1144.5,1133.4 1144.5,1116.3 1146.6,1116.3 1146.6,1103.6 1148.7,1103.6 1148.7,1095 1150.4,1095 1150.4,1088.6 1151.9,1088.6 1151.9,1107.8 1154.1,1107.8 1154.1,1120.6 1156.2,1120.6 1156.2,1146.2 1158.3,1146.2 1158.3,1163.3 1160.5,1163.3 1160.5,1133.4 1162.6,1133.4 1162.6,1141.9 1164.7,1141.9 1164.7,1154.7 1166.9,1154.7 1166.9,1120.6 1169,1120.6 1169,1112.1 1171.1,1112.1 1171.1,1120.6 1173.3,1120.6 1173.3,1099.3 1175.4,1099.3 1175.4,1084.4 1177.5,1084.4 1177.5,1078 1179,1078 1179,1041.7 1180.7,1041.7 1180.7,1084.4 1182.9,1084.4 1182.9,1073.7 1184.1,1073.7 1184.1,1069.4 1185.4,1069.4 1185.4,1065.2 1187.1,1065.2 1187.1,1095 1189.3,1095 1189.3,1131.3 1191.4,1131.3 1191.4,1095 1193.5,1095 1193.5,1129.1 1195.7,1129.1 1195.7,1109.9 1197.8,1109.9 1197.8,1084.4 1199.9,1084.4 1199.9,1082.2 1202,1082.2 1202,1069.4 1204.2,1069.4 1204.2,1056.6 1206.3,1056.6 1206.3,1050.2 1208.4,1050.2 1208.4,1035.3 1209.5,1035.3 1209.5,1024.7 1211.6,1024.7 1211.6,1069.4 1213.8,1069.4 1213.8,1067.3 1215.9,1067.3 1215.9,1054.5 1218,1054.5 1218,1069.4 1220.2,1069.4 1220.2,1078 1222.3,1078 1222.3,1109.9 1224.4,1109.9 1224.4,1067.3 1226.6,1067.3 1226.6,1060.9 1228.7,1060.9 1228.7,1065.2 1230,1065.2 1230,1053.4 1231.3,1053.4 1231.3,1041.7 1233,1041.7 1233,1069.4 1235.1,1069.4 1235.1,1067.3 1237.2,1067.3 1237.2,1075.8 1239.4,1075.8 1239.4,1109.9 1241.5,1109.9 1241.5,1078 1243.6,1078 1243.6,1067.3 1245.8,1067.3 1245.8,1088.6 1247.9,1088.6 1247.9,1071.6 1250,1071.6 1250,1078 1252.2,1078 1252.2,1065.2 1254.3,1065.2 1254.3,1086.5 1256.4,1086.5 1256.4,1092.9 1258.6,1092.9 1258.6,1103.6 1260.7,1103.6 1260.7,1124.9 1262.8,1124.9 1262.8,1099.3 1264.9,1099.3 1264.9,1116.3 1267.1,1116.3 1267.1,1120.6 1269.2,1120.6 1269.2,1118.5 1271.3,1118.5 1271.3,1137.7 1273.5,1137.7 1273.5,1112.1 1275.6,1112.1 1275.6,1090.8 1277.7,1090.8 1277.7,1067.3 1279.9,1067.3 1279.9,1056.6 1282,1056.6 1282,1046 1284.1,1046 1284.1,1037.5 1286.3,1037.5 1286.3,1035.3 1288.4,1035.3 1288.4,1041.7 1290.5,1041.7 1290.5,1067.3 1292.7,1067.3 1292.7,1084.4 1294.8,1084.4 1294.8,1092.9 1296.9,1092.9 1296.9,1099.3 1299.1,1099.3 1299.1,1090.8 1301.2,1090.8 1301.2,1067.3 1303.3,1067.3 1303.3,1060.9 1305.5,1060.9 1305.5,1067.3 1307.6,1067.3 1307.6,1073.7 1309.7,1073.7 1309.7,1088.6 1311.9,1088.6 1311.9,1103.6 1314,1103.6 1314,1120.6 1316.1,1120.6 1316.1,1141.9 1318.3,1141.9 1318.3,1163.3 1320.4,1163.3 1320.4,1184.6 1322.5,1184.6 1322.5,1169.7 1324.6,1169.7 1324.6,1159 1326.8,1159 1326.8,1152.6 1328.9,1152.6 1328.9,1163.3 1331,1163.3 1331,1154.7 1333.2,1154.7 1333.2,1150.5 1335.3,1150.5 1335.3,1137.7 1337.4,1137.7 1337.4,1146.2 1339.6,1146.2 1339.6,1159 1341.7,1159 1341.7,1163.3 1343.8,1163.3 1343.8,1176 1346,1176 1346,1184.6 1348.1,1184.6 1348.1,1197.4 1350.2,1197.4 1350.2,1205.9 1352.4,1205.9 1352.4,1208 1354.5,1208 1354.5,1197.4 1356.6,1197.4 1356.6,1191 1358.8,1191 1358.8,1184.6 1360.9,1184.6 1360.9,1191 1363,1191 1363,1180.3 1365.2,1180.3 1365.2,1188.8 1367.3,1188.8 1367.3,1191 1369.4,1191 1369.4,1195.2 1371.6,1195.2 1371.6,1199.5 1373.7,1199.5 1373.7,1205.9 1375.8,1205.9 1375.8,1212.3 1378,1212.3 1378,1220.8 1380.1,1220.8 1380.1,1218.7 1382.2,1218.7 1382.2,1216.6 1384.3,1216.6 1384.3,1210.2 1386.5,1210.2 1386.5,1205.9 1388.6,1205.9 1388.6,1203.8 1390.7,1203.8 1390.7,1205.9 1392.9,1205.9 1392.9,1212.3 1395,1212.3 1395,1210.2 1397.1,1210.2 1397.1,1214.4 1399.3,1214.4 1399.3,1218.7 1401.4,1218.7 1401.4,1210.2 1403.5,1210.2 1403.5,1210.2 1405.1,1210.2 1405.1,1210.2 1406.7,1210.2 1406.7,1210.2 1408.3,1210.2 1408.3,1210.2 1409.9,1210.2 1409.9,1210.2 1412.1,1210.2 1412.1,1214.4 1414.2,1214.4 1414.2,1218.7 1416.3,1218.7 1416.3,1225.1 1418.5,1225.1 1418.5,1229.4 1420.6,1229.4 1420.6,1233.6 1422.7,1233.6 1422.7,1236.8 1424.1,1236.8 1424.1,1237.1 1425.5,1237.1 1425.5,1237.5" fill="none" stroke="#5e3b0c" stroke-width="1.5" stroke-linejoin="round"/><text class="k" transform="translate(1064.1,1277.5) scale(0.97,1)" text-anchor="middle">0</text><text class="k" transform="translate(1237.1,1277.5) scale(0.97,1)" text-anchor="middle">50</text><text class="k" transform="translate(1410,1277.5) scale(0.97,1)" text-anchor="middle">100</text><text class="t" transform="translate(1243.7,1008.3) scale(0.965,1)" text-anchor="middle">chr15</text></g>
<g><rect x="1539.2" y="1023.5" width="358.1" height="214.8" fill="none" stroke="#383838" stroke-width="1.8"/><path d="M1617,1238.3v-4.5M1617,1023.5v4.5M1694.7,1238.3v-4.5M1694.7,1023.5v4.5M1772.5,1238.3v-4.5M1772.5,1023.5v4.5M1850.3,1238.3v-4.5M1850.3,1023.5v4.5" stroke="#383838" stroke-width="1.6" fill="none"/><rect x="1675.3" y="1022.5" width="13.4" height="216.8" fill="#cccccc" fill-opacity="0.8"/><rect x="1688.7" y="1022.5" width="31.3" height="216.8" fill="#e2e2e2" fill-opacity="0.8"/><path d="M1539.2,1220 1540.4,1218.3 1541.6,1214.8 1543.2,1211.4 1544.8,1210.3 1546.4,1210.8 1548,1213 1549.6,1211.9 1551.2,1209.8 1552.8,1212.5 1554.4,1214.4 1556,1215.1 1557.6,1216.4 1559.2,1217.4 1560.8,1218.6 1562.4,1220.6 1564,1221.2 1565.6,1218.9 1567.2,1218.4 1568.8,1218.5 1570.4,1217 1572,1218.9 1573.6,1221.1 1575.2,1219 1576.8,1216 1578.4,1213.2 1580,1209.8 1581.6,1207.5 1583.2,1206.2 1584.8,1202.9 1586.4,1201.1 1588,1200.9 1589.6,1200.2 1591.2,1197 1592.8,1195.9 1593.8,1187.3 1594.9,1177.6 1595.9,1180 1597,1179.7 1598.1,1179.2 1599.1,1177.4 1600.2,1180.6 1601.3,1184.9 1602.9,1179.9 1604.5,1173.2 1605.5,1176.8 1606.6,1180.5 1607.7,1174.1 1608.7,1166.9 1609.8,1172.1 1610.9,1175.3 1611.9,1179 1613,1180.6 1614.1,1182.7 1615.1,1185.3 1616.2,1186.2 1617.3,1188.3 1618.3,1184.8 1619.4,1181 1620.5,1187.5 1621.5,1193.6 1622.6,1195.4 1623.7,1197.1 1624.7,1199 1625.8,1199.7 1626.9,1198 1627.9,1195.7 1629,1193.1 1630.1,1191.2 1631.1,1187.2 1632.2,1184.2 1633.3,1179.7 1634.3,1174.3 1635.4,1162.4 1636.5,1152.1 1637.5,1147.1 1638.6,1142.1 1639.7,1127.8 1640.7,1114 1641.8,1116.1 1642.9,1116.1 1643.9,1112 1645,1108.6 1646.1,1103.2 1647.1,1099.3 1648.2,1091.2 1649.3,1085 1650.3,1081.7 1651.4,1077.5 1652.5,1076.1 1653.5,1073.2 1654.6,1053 1655.7,1039.6 1656.7,1047.7 1657.8,1057.5 1658.8,1063 1659.9,1069.6 1661,1083.1 1662,1094.6 1663.1,1112 1664.2,1129.9 1665.2,1122.5 1666.3,1117 1667.4,1124 1668.4,1132.1 1669.5,1166.6 1670.6,1202.3 1671.6,1203.7 1672.7,1205.4 1673.8,1203.5 1674.8,1201.6 1675.9,1204 1677,1205.8 1678,1212 1679.1,1218.3 1680.2,1223 1681.2,1227.6 1682.3,1232.6 1683.4,1237.3 1684.7,1237.4 1686,1237.5 1687.3,1237.4 1688.6,1237.4 1689.9,1237.5 1691.2,1237.3 1692.5,1237.5 1693.8,1237.6 1695.1,1237.4 1696.5,1237.3 1697.8,1237.5 1699.1,1237.5 1700.4,1237.4 1701.7,1237.4 1703,1237.3 1704.3,1237.3 1705.6,1237.6 1706.9,1237.4 1708.2,1237.6 1709.5,1237.6 1710.8,1237.5 1712.2,1237.4 1713.2,1221 1714.3,1206.6 1715.4,1192.5 1716.4,1179.7 1717.5,1166.3 1718.6,1152.2 1719.6,1136.2 1720.7,1120 1721.7,1098.5 1722.8,1077.1 1723.9,1062.7 1724.9,1045.3 1726,1038.4 1727.1,1031.3 1728.1,1028 1729.2,1025.3 1730.3,1026.6 1731.3,1027 1732.4,1028.8 1733.5,1031.3 1734.5,1043.6 1735.6,1056.1 1736.7,1072.6 1737.7,1088.6 1738.8,1102 1739.9,1116.3 1740.9,1126.8 1742,1136.9 1743.1,1141.7 1744.1,1144.1 1745.2,1143.1 1746.3,1141.2 1747.3,1145.9 1748.4,1149.6 1749.5,1155.4 1750.5,1159.2 1751.6,1161.1 1752.7,1163.6 1753.7,1165.3 1754.8,1167.6 1755.9,1170.5 1756.9,1171.1 1758,1178.5 1759.1,1184.4 1760.1,1189.4 1761.2,1194.6 1762.3,1196.4 1763.3,1196.6 1764.4,1197.9 1765.5,1197.2 1766.5,1198.1 1767.6,1199.4 1768.7,1200.4 1769.7,1201.5 1771.3,1201.3 1772.9,1201.5 1774.5,1203.3 1776.1,1206.4 1777.7,1206.1 1779.3,1205.6 1780.9,1204.5 1782.5,1203.5 1784.1,1203.5 1785.7,1201.9 1787.3,1201.4 1788.9,1200.2 1790.5,1201 1792.1,1201.8 1793.7,1201.3 1795.3,1201.8 1796.9,1198.8 1798.5,1197.3 1800.1,1196.7 1801.7,1195.2 1803.3,1197.4 1804.9,1199.8 1806.5,1200.7 1808.1,1201.7 1809.7,1202.8 1811.3,1203.6 1812.9,1204.9 1814.5,1205 1816.1,1208.2 1817.7,1209.7 1819.3,1211.5 1820.9,1211.5 1822.5,1213.4 1824.1,1214.1 1825.7,1215.4 1827.3,1217.2 1828.9,1218 1830.5,1219.3 1832.1,1221 1833.7,1223.6 1835.3,1224.9 1836.9,1225.8 1838.5,1225.6 1840.1,1226.5 1841.7,1227.4 1843.3,1228.4 1844.9,1228.3 1846.5,1230.2 1848.1,1229.9 1849.7,1231.3 1851.3,1230.8 1852.9,1231.7 1854.5,1233.6 1856.1,1235.2 1857.7,1234.9 1859.3,1236.3 1860.9,1234.1 1862.5,1234.4 1864.1,1232.4 1865.7,1229.8 1867.3,1228.6 1868.9,1227.5 1870.5,1225.7 1872.1,1224.2 1873.7,1224.3 1875.3,1223.4 1876.9,1221.6 1878.5,1220.6 1880.1,1219.5 1881.7,1219 1883.3,1221.8 1884.9,1222.8 1886.5,1224.4 1888.1,1225.8 1889.7,1225.3 1891.3,1226.4 1892.9,1230.1 1894.5,1231 1895.7,1233.1 1897,1235.8" fill="none" stroke="#d99a2b" stroke-width="1.8" stroke-linejoin="round"/><path d="M1539.2,1216.1 1540.4,1213.7 1541.6,1212.6 1543.2,1209.7 1544.8,1208.3 1546.4,1204.2 1548,1202.5 1549,1198.7 1550.1,1194.9 1551.2,1189.1 1552.2,1185.2 1553.3,1187.4 1554.4,1188.5 1555.4,1192.4 1556.5,1198.2 1558.1,1200.2 1559.7,1201.6 1561.3,1200.9 1562.9,1202.1 1564,1207.8 1565,1211.9 1566.1,1215.3 1567.2,1219.4 1568.2,1217 1569.3,1215.2 1570.4,1215.7 1571.4,1216.1 1572.5,1215.2 1573.6,1212.9 1574.6,1211.9 1575.7,1209.9 1576.8,1207.7 1577.8,1206.8 1579.4,1204.5 1581,1200.9 1582.6,1203 1584.2,1205.2 1585.8,1205.1 1587.4,1203.3 1589,1204.2 1590.6,1205.9 1592.2,1204.6 1593.8,1201.6 1595.4,1199.8 1597,1198.9 1598.6,1198.1 1600.2,1197.1 1601.8,1195.8 1603.4,1194.5 1605,1193.9 1606.6,1192.6 1607.7,1194.7 1608.7,1196.6 1609.8,1201.8 1610.9,1206.4 1612.5,1206.7 1614.1,1207.3 1615.7,1209 1617.3,1209.4 1618.3,1210.6 1619.4,1211.9 1620.5,1215.2 1621.5,1215.8 1623.1,1211.2 1624.7,1205 1625.8,1203.5 1626.9,1202.5 1627.9,1204.4 1629,1205.8 1630.1,1207.6 1631.1,1209.7 1632.2,1206 1633.3,1201.5 1634.9,1199.1 1636.5,1196.5 1637.5,1193.6 1638.6,1189.7 1639.7,1176.9 1640.7,1163.3 1641.8,1156.7 1642.9,1149.8 1643.9,1142.8 1645,1133.3 1646.1,1120.9 1647.1,1110.8 1648.2,1100.6 1649.3,1091.2 1650.3,1082.3 1651.4,1073.2 1652.5,1063.6 1653.5,1052.8 1654.6,1038.5 1655.7,1025.5 1656.7,1029.4 1657.8,1036.1 1658.8,1040.8 1659.9,1045.3 1661,1054.1 1662,1061.6 1663.1,1082.8 1664.2,1103.4 1665.2,1112.3 1666.3,1120.8 1667.4,1127.4 1668.4,1133.3 1669.5,1147.6 1670.6,1163 1671.6,1175.8 1672.7,1188 1673.8,1194.7 1674.8,1201.9 1675.9,1203.8 1677,1205.3 1678,1210.8 1679.1,1213.6 1680.2,1219.9 1681.2,1227.5 1682.3,1233 1683.4,1237.6 1684.7,1237.5 1686,1237.4 1687.3,1237.4 1688.6,1237.6 1689.9,1237.5 1691.2,1237.3 1692.5,1237.6 1693.8,1237.5 1695.1,1237.6 1696.5,1237.4 1697.8,1237.4 1699.1,1237.5 1700.4,1237.4 1701.7,1237.4 1703,1237.6 1704.3,1237.6 1705.6,1237.6 1706.9,1237.6 1708.2,1237.5 1709.5,1237.3 1710.8,1237.6 1712.2,1237.3 1713.2,1221.9 1714.3,1206.2 1715.4,1194.7 1716.4,1185 1717.5,1173.2 1718.6,1162.5 1719.6,1153.1 1720.7,1141.6 1721.7,1131.3 1722.8,1120.9 1723.9,1110 1724.9,1099.9 1726.2,1088.1 1727.5,1075.4 1729.2,1098.6 1730.3,1104.6 1731.3,1110.7 1732.4,1114.8 1733.5,1121.1 1734.5,1126.9 1735.6,1134.2 1736.7,1141.1 1737.7,1149.9 1738.8,1157.3 1739.9,1164.1 1740.9,1169.4 1742,1174.6 1743.1,1178.9 1744.1,1184.6 1745.2,1189 1746.3,1195.2 1747.3,1199.5 1748.4,1203 1749.5,1205.3 1750.5,1208.7 1751.6,1209.2 1752.7,1210.5 1753.7,1212.9 1754.8,1215.2 1755.9,1215.2 1756.9,1214 1758,1215.2 1759.1,1214.7 1760.7,1216.6 1762.3,1218.5 1763.9,1220 1765.5,1222.3 1767.1,1225.3 1768.7,1227.8 1770.3,1228.1 1771.9,1228.7 1773.5,1228.6 1775.1,1226.6 1776.7,1227.9 1778.3,1226.4 1779.9,1225.7 1781.4,1225.8 1783,1224.4 1784.6,1222.6 1786.2,1221.1 1787.8,1221.1 1789.4,1218.6 1791,1215.8 1792.6,1216.3 1794.2,1213.7 1795.8,1212.8 1797.4,1210.1 1799,1208.3 1800.6,1205.2 1802.2,1206.6 1803.8,1206.8 1805.4,1206.1 1807,1207.8 1808.6,1207.2 1810.2,1206 1811.8,1208.7 1813.4,1210.2 1815,1214.1 1816.6,1219.6 1818.2,1221.5 1819.8,1225.3 1821.4,1226.9 1823,1228.5 1824.6,1231.1 1826.2,1232.4 1827.8,1232.8 1829.4,1235.2 1831,1235.5 1832.6,1236.1 1834.2,1233.6 1835.8,1231.7 1837.4,1228.9 1839,1227.2 1840.6,1227.4 1842.2,1227.2 1843.8,1227.2 1845.4,1227 1847,1227.2 1848.6,1227.7 1850.2,1229.5 1851.8,1232.3 1853.4,1233 1855,1235.6 1856.6,1234 1858.2,1233.3 1859.8,1231.8 1861.4,1228.9 1863,1228.1 1864.6,1224.9 1866.2,1222.3 1867.8,1221.5 1869.4,1218.4 1871,1216.5 1872.6,1215 1874.2,1212 1875.8,1210.7 1877.4,1207.2 1878.5,1206.4 1879.5,1204.3 1880.6,1207.2 1881.7,1207.7 1882.7,1210.7 1883.8,1212.7 1885.4,1213.8 1887,1217.3 1888.6,1219.1 1890.2,1220.6 1891.8,1223.2 1893.4,1228 1894.6,1230.5 1895.8,1232.8 1897,1236.7" fill="none" stroke="#5e3b0c" stroke-width="1.8" stroke-linejoin="round"/><text class="k" transform="translate(1539.2,1277.5) scale(0.97,1)" text-anchor="middle">0</text><text class="k" transform="translate(1617,1277.5) scale(0.97,1)" text-anchor="middle">20</text><text class="k" transform="translate(1694.7,1277.5) scale(0.97,1)" text-anchor="middle">40</text><text class="k" transform="translate(1772.5,1277.5) scale(0.97,1)" text-anchor="middle">60</text><text class="k" transform="translate(1850.3,1277.5) scale(0.97,1)" text-anchor="middle">80</text><text class="t" transform="translate(1717,1008.3) scale(0.965,1)" text-anchor="middle">chr16</text></g>
<g><rect x="120" y="1348.9" width="358.6" height="214.8" fill="none" stroke="#383838" stroke-width="1.8"/><path d="M206.3,1563.7v-4.5M206.3,1348.9v4.5M292.6,1563.7v-4.5M292.6,1348.9v4.5M378.9,1563.7v-4.5M378.9,1348.9v4.5M465.3,1563.7v-4.5M465.3,1348.9v4.5" stroke="#383838" stroke-width="1.6" fill="none"/><rect x="214.8" y="1347.9" width="15.1" height="216.8" fill="#cccccc" fill-opacity="0.8"/><path d="M120,1557.5 121.2,1556.2 122.5,1556.9 123.7,1555.6 125.1,1555.2 126.6,1555.4 128,1553.5 129.6,1554.3 131.2,1552.7 132.8,1551.7 134.4,1550.8 136,1551.5 137.6,1551.9 139.2,1552.5 140.8,1552.9 142.4,1548.3 144,1544.3 145.6,1541 147.2,1538.3 148.8,1536.2 150.4,1533.3 152,1533.5 153.6,1534.7 155.2,1533.3 156.8,1531.2 158.4,1532.6 160,1531.8 161.6,1532.8 163.2,1534.6 164.8,1535.4 166.4,1536 168,1537 169.6,1538.4 170.6,1535.7 171.7,1532.3 172.8,1526.9 173.8,1522.5 174.9,1516.7 176,1510.2 177,1508.9 178.1,1506.5 179.2,1505.7 180.2,1506.2 181.3,1505.4 182.4,1504.1 183.4,1502.7 184.5,1502.4 185.6,1495.3 186.6,1490.1 187.7,1485.8 188.8,1482.9 189.8,1482.3 190.9,1480.5 191.9,1484.6 193,1487.2 194.1,1478.7 195.1,1469.6 196.2,1468.7 197.3,1468 198.3,1464.2 199.4,1458.8 200.5,1453.6 201.5,1447.4 202.6,1442.7 203.7,1440.5 204.7,1440.8 205.8,1441.6 206.9,1445.3 207.9,1446.2 209,1449.7 210.1,1453.4 211.1,1460.7 212.2,1468.7 213.3,1479.4 214.3,1489.2 215.4,1499.2 216.5,1511.2 217.5,1520.6 218.6,1531.7 220,1541 221.4,1551.7 222.7,1538.8 223.9,1528.2 225,1508.5 226.1,1489.5 227.1,1470.5 228.2,1450.6 229.3,1445 230.3,1440.6 231.4,1438.3 232.5,1435.8 233.5,1432.2 234.6,1428.9 235.7,1426.3 236.7,1423.5 237.8,1420.7 238.9,1418 239.9,1424.2 241,1429.1 242.1,1436.4 243.1,1442.7 244.2,1451.9 245.3,1460.8 246.3,1460.8 247.4,1459.3 248.5,1456.7 249.5,1453.5 250.6,1451.3 251.7,1450.5 253.2,1452 254.8,1452.3 255.9,1455.6 257,1459.8 258,1460.7 259.1,1463.2 260.7,1465.1 262.3,1468.7 263.4,1470.4 264.4,1472.7 265.5,1476 266.6,1478.1 267.6,1484.5 268.7,1489 269.8,1494.4 270.8,1499.2 271.9,1498.5 273,1497.6 274,1498.3 275.1,1497.8 276.2,1493.1 277.2,1489.4 278.3,1482.5 279.4,1477 280.4,1469.8 281.5,1463.2 282.6,1457.1 283.6,1451 284.7,1446.9 285.8,1441.9 286.8,1433.9 287.9,1425.6 289,1414.1 290,1403.6 291.1,1387.8 292.2,1372.5 293.2,1350 294.3,1351.3 295.4,1353.5 296.4,1351.8 297.5,1349.8 298.6,1353.9 299.6,1357.9 300.7,1359.2 301.8,1361.8 302.8,1372.6 303.9,1382 305,1399.3 306,1413.8 307.1,1429.9 308.2,1446.9 309.2,1462.4 310.3,1479.1 311.4,1489.1 312.4,1500 313.5,1505.3 314.6,1511 315.6,1509.1 316.7,1507.2 317.7,1500.8 318.8,1496.5 319.9,1491.6 320.9,1489.7 322,1488.4 323.1,1486.3 324.1,1485.7 325.2,1485.4 326.8,1483.1 328.4,1482.7 329.5,1482.1 330.5,1480.2 331.6,1485.1 332.7,1488.4 333.7,1495 334.8,1501.3 335.9,1508.5 336.9,1514.7 338,1521.7 339.1,1528 340.1,1531.3 341.2,1533.1 342.3,1538.3 343.3,1543.4 344.4,1543.7 345.5,1544.9 346.5,1546.3 347.6,1546.2 348.7,1545.6 349.7,1542.3 350.8,1537.2 351.9,1532.8 352.9,1527.9 354,1525.9 355.1,1524.9 356.1,1526 357.7,1524.1 359.3,1523.8 360.9,1521.2 362.5,1519.5 364.1,1518.8 365.7,1517.4 367.3,1520.7 368.9,1522.9 370.5,1526 372.1,1527.9 373.7,1527 375.3,1527.6 376.9,1528.7 378.5,1529.7 380.1,1532.2 381.7,1533.3 383.3,1536.8 384.9,1539.1 386.5,1539.6 388.1,1541.8 389.7,1543.6 391.3,1544.5 392.9,1545.6 394.5,1546.7 396.1,1547.5 397.7,1548.8 399.3,1549.8 400.9,1550.8 402.5,1552.1 404.1,1552.3 405.7,1553.5 407.3,1553.9 408.9,1554.9 410.5,1555 412.1,1554.7 413.7,1553.2 415.3,1552.5 416.9,1552.7 418.5,1551.3 420.1,1550.9 421.7,1551.8 423.3,1551.4 424.9,1551.9 426.5,1550.7 428.1,1551.5 429.7,1552.4 431.3,1552.9 432.9,1551.7 434.5,1552.7 436.1,1553 437.7,1554.1 439.3,1554.7 440.9,1554.3 442.5,1553.6 444.1,1553.7 445.7,1554.3 447.3,1553.4 448.9,1552.5 450.5,1552.8 452.1,1553.3 453.7,1552.9 455.3,1554 456.9,1551.8 458.5,1548.7 460.1,1548.9 461.7,1548.1 463.3,1549.1 464.9,1551.2 466.5,1551.3 468.1,1552.9 469.7,1554.4 471.3,1555.6 472.9,1557.9 474.5,1560.3 476.1,1561.7 477.7,1562.9" fill="none" stroke="#d99a2b" stroke-width="1.8" stroke-linejoin="round"/><path d="M120,1541.8 121.3,1539.5 122.7,1536 124.3,1532.6 125.9,1527.8 127.4,1526.6 129,1526.3 130.6,1524 132.2,1524 133.3,1525.4 134.4,1528 136,1529.5 137.6,1530.3 139.2,1532.1 140.8,1534.6 142.4,1531 144,1529.6 145.6,1529.3 147.2,1528.1 148.8,1529.7 150.4,1531.4 151.4,1529.5 152.5,1527.5 154.1,1523.7 155.7,1522 157.3,1517.2 158.9,1512.8 160,1514.3 161,1516.7 162.6,1521.1 164.2,1524.9 165.8,1520.9 167.4,1516.7 169,1517.4 170.6,1517.7 172.2,1517.2 173.8,1518.5 174.9,1521.9 176,1522.5 177,1522.9 178.1,1523.5 179.2,1517 180.2,1510.1 181.8,1510 183.4,1508.8 185,1508.6 186.6,1511 187.7,1507.2 188.8,1504.2 190.3,1496.9 191.9,1489.5 193,1482.3 194.1,1473.8 195.1,1466.3 196.2,1458.9 197.3,1463.1 198.3,1468.5 199.4,1466.4 200.5,1463.4 201.5,1459.7 202.6,1455.7 203.7,1451.5 204.7,1447.1 205.8,1451 206.9,1455.7 207.9,1463.4 209,1472.4 210.1,1480.3 211.1,1489.1 212.2,1495.4 213.3,1502 214.3,1507.5 215.4,1514.7 216.5,1519.1 217.5,1524.1 218.6,1530.1 219.7,1535.5 221.4,1550.9 222.9,1536.6 223.9,1520.5 225,1507 226.1,1491.6 227.1,1478.9 228.2,1464.9 229.3,1451.7 230.3,1443.2 231.4,1435.6 232.5,1430 233.5,1424.9 234.6,1418.6 235.7,1412.6 236.7,1400.4 237.8,1388.5 238.9,1397.2 239.9,1403.2 241,1413.3 242.1,1420.6 243.1,1434.3 244.2,1447 245.3,1473 246.3,1476.9 247.4,1479.8 248.5,1484.4 249.5,1488 250.6,1490.8 251.7,1493.6 253.2,1497 254.8,1501.2 256.4,1498.4 258,1496 259.6,1496.1 261.2,1497.9 262.8,1496.1 264.4,1493.6 265.5,1493.9 266.6,1494.1 267.6,1486.5 268.7,1477.7 269.8,1470.4 270.8,1461.7 271.9,1452.5 273,1441.9 274,1444.9 275.1,1447.9 276.2,1444.4 277.2,1439.6 278.3,1435.4 279.4,1429.7 280.4,1422.9 281.5,1416.5 283.1,1408.6 284.7,1401.2 286.3,1399.3 287.9,1394.8 289,1389.1 290,1382.8 291.1,1372.4 292.2,1360.7 293.2,1365.4 294.3,1369.2 295.4,1370.2 296.4,1371.8 297.5,1377.4 298.6,1382.3 299.6,1386.7 300.7,1391.3 301.8,1397.8 302.8,1406.7 303.9,1414.8 305,1425.1 306,1436.3 307.1,1445.7 308.2,1458.8 309.2,1471.3 310.3,1482.2 311.4,1493.7 312.4,1500.4 313.5,1507.2 314.6,1504.2 315.6,1502.7 316.7,1495.5 317.7,1489.3 318.8,1492.2 319.9,1492.7 320.9,1491.1 322,1486.8 323.6,1485.9 325.2,1485.8 326.3,1483.8 327.3,1483.6 328.4,1482.1 329.5,1480.1 330.5,1484.8 331.6,1486.3 332.7,1491.7 333.7,1495.3 334.8,1503.9 335.9,1510.1 336.9,1514.3 338,1518.7 339.1,1523.8 340.1,1527.5 341.7,1532.1 343.3,1536.9 344.9,1537.6 346.5,1538.9 348.1,1539 349.7,1539.7 350.8,1538.3 351.9,1535.6 352.9,1533.4 354,1529.9 355.6,1528.9 357.2,1527.1 358.8,1529.6 360.4,1532.5 362,1530 363.6,1527.3 365.2,1526.7 366.8,1525.5 368.4,1527.2 370,1527.9 371.6,1525.9 373.2,1524.8 374.8,1523.9 376.4,1524 377.4,1521 378.5,1518.2 379.6,1518.3 380.6,1516.9 381.7,1519.7 382.8,1522.6 384.4,1528 386,1531.9 387.6,1533.7 389.2,1533.5 390.8,1534.9 392.4,1536.8 394,1537.6 395.6,1537.8 397.2,1540 398.8,1543 400.4,1541.3 402,1539.5 403.6,1541.4 405.2,1543.3 406.8,1540.4 408.4,1538.1 410,1540.2 411.6,1541.8 413.2,1544.3 414.8,1544 416.4,1545.6 418,1546.8 419.6,1544.3 421.2,1541.7 422.8,1542.8 424.4,1545.4 426,1543.3 427.6,1540.5 429.2,1542.4 430.8,1543.2 432.4,1537.6 434,1531.4 435.6,1529.3 437.2,1526.8 438.8,1529.1 440.3,1528.9 441.9,1527.3 443.5,1523.7 445.1,1519.7 446.7,1514.8 448.3,1519.7 449.9,1523.3 451.5,1524.1 453.1,1526.2 454.7,1522.5 456.3,1521.8 457.4,1519.2 458.5,1517.7 460.1,1520.8 461.7,1522.6 463.3,1528.5 464.9,1534 466.5,1535.3 468.1,1535.4 469.7,1540 471.3,1541.8 472.9,1547 474.5,1553.9 476.1,1557.5 477.7,1562.1" fill="none" stroke="#5e3b0c" stroke-width="1.8" stroke-linejoin="round"/><text class="k" transform="translate(120,1602.9) scale(0.97,1)" text-anchor="middle">0</text><text class="k" transform="translate(206.3,1602.9) scale(0.97,1)" text-anchor="middle">20</text><text class="k" transform="translate(292.6,1602.9) scale(0.97,1)" text-anchor="middle">40</text><text class="k" transform="translate(378.9,1602.9) scale(0.97,1)" text-anchor="middle">60</text><text class="k" transform="translate(465.3,1602.9) scale(0.97,1)" text-anchor="middle">80</text><text class="t" transform="translate(298.1,1333.7) scale(0.965,1)" text-anchor="middle">chr17</text></g>
<g><rect x="592.1" y="1348.9" width="358.6" height="214.8" fill="none" stroke="#383838" stroke-width="1.8"/><path d="M681.6,1563.7v-4.5M681.6,1348.9v4.5M771.2,1563.7v-4.5M771.2,1348.9v4.5M860.7,1563.7v-4.5M860.7,1348.9v4.5" stroke="#383838" stroke-width="1.6" fill="none"/><rect x="660.1" y="1347.9" width="15.6" height="216.8" fill="#cccccc" fill-opacity="0.8"/><path d="M592.1,1563.7 594.7,1563.7 594.7,1563.7 596.8,1563.7 596.8,1555.4 608.5,1555.4 608.5,1555.4 610.6,1555.4 610.6,1542.6 613.8,1542.6 613.8,1536.2 617,1536.2 617,1527.6 620.2,1527.6 620.2,1514.8 623.4,1514.8 623.4,1514.8 627.7,1514.8 627.7,1508.4 632,1508.4 632,1508.4 634.1,1508.4 634.1,1514.8 637.3,1514.8 637.3,1521.2 639.4,1521.2 639.4,1504.2 641.6,1504.2 641.6,1489.3 643.7,1489.3 643.7,1472.2 645.8,1472.2 645.8,1457.3 648,1457.3 648,1450.9 650.1,1450.9 650.1,1440.2 652.2,1440.2 652.2,1446.6 654.4,1446.6 654.4,1455.1 656.5,1455.1 656.5,1463.7 658.6,1463.7 658.6,1472.2 659.7,1472.2 659.7,1489.3 661.8,1489.3 661.8,1510.6 663.9,1510.6 663.9,1531.9 666.1,1531.9 666.1,1553.2 668.2,1553.2 668.2,1563.7 670.3,1563.7 670.3,1531.9 672.5,1531.9 672.5,1489.3 674.6,1489.3 674.6,1425.3 675.7,1425.3 675.7,1391.2 676.7,1391.2 676.7,1374.1 681,1374.1 681,1374.1 683.1,1374.1 683.1,1361.3 684.8,1361.3 684.8,1352.8 687,1352.8 687,1382.6 688.5,1382.6 688.5,1410.4 690.6,1410.4 690.6,1467.9 691.7,1467.9 691.7,1480.7 693.8,1480.7 693.8,1467.9 695.9,1467.9 695.9,1472.2 698.1,1472.2 698.1,1480.7 701.3,1480.7 701.3,1485 704.5,1485 704.5,1489.3 707.7,1489.3 707.7,1497.8 710.9,1497.8 710.9,1502 714.1,1502 714.1,1489.3 716.2,1489.3 716.2,1493.5 718.3,1493.5 718.3,1506.3 721.5,1506.3 721.5,1519.1 724.7,1519.1 724.7,1527.6 726.8,1527.6 726.8,1540.4 732.2,1540.4 732.2,1544.7 736.4,1544.7 736.4,1538.3 742.8,1538.3 742.8,1538.3 746,1538.3 746,1546.8 749.2,1546.8 749.2,1555.4 755.6,1555.4 755.6,1555.4 759.9,1555.4 759.9,1555.4 764.2,1555.4 764.2,1555.4 769.5,1555.4 769.5,1555.4 771.6,1555.4 771.6,1563.7 783.4,1563.7 783.4,1563.7 785.5,1563.7 785.5,1551.1 788.7,1551.1 788.7,1536.2 790.8,1536.2 790.8,1523.4 794,1523.4 794,1521.2 797.2,1521.2 797.2,1521.2 800.4,1521.2 800.4,1514.8 802.5,1514.8 802.5,1521.2 804.7,1521.2 804.7,1531.9 806.8,1531.9 806.8,1542.6 808.9,1542.6 808.9,1555.4 811.1,1555.4 811.1,1542.6 813.2,1542.6 813.2,1527.6 815.3,1527.6 815.3,1523.4 818.5,1523.4 818.5,1527.6 821.7,1527.6 821.7,1523.4 824.9,1523.4 824.9,1523.4 828.1,1523.4 828.1,1534 830.3,1534 830.3,1553.2 832.4,1553.2 832.4,1542.6 835.6,1542.6 835.6,1538.3 838.8,1538.3 838.8,1538.3 842,1538.3 842,1536.2 845.2,1536.2 845.2,1538.3 848.4,1538.3 848.4,1540.4 851.6,1540.4 851.6,1544.7 853.7,1544.7 853.7,1555.4 856.9,1555.4 856.9,1546.8 860.1,1546.8 860.1,1544.7 864.4,1544.7 864.4,1546.8 868.6,1546.8 868.6,1553.2 871.8,1553.2 871.8,1557.5 875,1557.5 875,1563.7 883.6,1563.7 883.6,1563.7 885.7,1563.7 885.7,1555.4 890,1555.4 890,1555.4 893.2,1555.4 893.2,1544.7 897.4,1544.7 897.4,1538.3 900.6,1538.3 900.6,1538.3 903.8,1538.3 903.8,1531.9 907,1531.9 907,1527.6 910.2,1527.6 910.2,1521.2 913.4,1521.2 913.4,1525.5 916.6,1525.5 916.6,1521.2 919.8,1521.2 919.8,1517 921.9,1517 921.9,1514.8 924.1,1514.8 924.1,1519.1 926.2,1519.1 926.2,1523.4 928.3,1523.4 928.3,1527.6 931.5,1527.6 931.5,1529.8 934.7,1529.8 934.7,1538.3 937.9,1538.3 937.9,1544.7 941.1,1544.7 941.1,1553.2 944.3,1553.2 944.3,1557.5 947.5,1557.5 947.5,1561.7 949.7,1561.7 949.7,1563.7" fill="none" stroke="#d99a2b" stroke-width="1.5" stroke-linejoin="round"/><path d="M592.1,1563.7 595.7,1563.7 595.7,1563.7 597.9,1563.7 597.9,1552.2 607.4,1552.2 607.4,1552.2 609.6,1552.2 609.6,1540.4 616,1540.4 616,1540.4 618.1,1540.4 618.1,1529.8 624.5,1529.8 624.5,1529.8 626.6,1529.8 626.6,1519.1 629.8,1519.1 629.8,1508.4 634.1,1508.4 634.1,1508.4 636.2,1508.4 636.2,1495.7 639.4,1495.7 639.4,1485 641.6,1485 641.6,1463.7 643.7,1463.7 643.7,1478.6 645.8,1478.6 645.8,1463.7 649,1463.7 649,1472.2 652.2,1472.2 652.2,1472.2 654.4,1472.2 654.4,1489.3 656.5,1489.3 656.5,1510.6 658.6,1510.6 658.6,1527.6 660.8,1527.6 660.8,1544.7 662.9,1544.7 662.9,1553.2 665,1553.2 665,1563.7 668.2,1563.7 668.2,1563.7 670.3,1563.7 670.3,1531.9 672.5,1531.9 672.5,1467.9 674.6,1467.9 674.6,1435.9 676.7,1435.9 676.7,1414.6 678.9,1414.6 678.9,1404 681,1404 681,1382.6 683.1,1382.6 683.1,1361.3 685.3,1361.3 685.3,1350.7 687.4,1350.7 687.4,1382.6 689.5,1382.6 689.5,1412.5 691.7,1412.5 691.7,1429.6 693.8,1429.6 693.8,1446.6 695.9,1446.6 695.9,1440.2 698.1,1440.2 698.1,1446.6 700.2,1446.6 700.2,1459.4 702.3,1459.4 702.3,1467.9 704.5,1467.9 704.5,1478.6 706.6,1478.6 706.6,1485 708.7,1485 708.7,1499.9 710.9,1499.9 710.9,1510.6 713,1510.6 713,1519.1 715.1,1519.1 715.1,1510.6 717.3,1510.6 717.3,1519.1 720.5,1519.1 720.5,1527.6 723.7,1527.6 723.7,1519.1 726.8,1519.1 726.8,1508.4 731.1,1508.4 731.1,1508.4 734.3,1508.4 734.3,1506.3 737.5,1506.3 737.5,1495.7 740.7,1495.7 740.7,1495.7 743.3,1495.7 743.3,1485 745,1485 745,1495.7 748.2,1495.7 748.2,1506.3 751.4,1506.3 751.4,1517 753.5,1517 753.5,1495.7 755.6,1495.7 755.6,1485 759.9,1485 759.9,1485 763.1,1485 763.1,1480.7 766.3,1480.7 766.3,1474.3 768.4,1474.3 768.4,1472.2 770.6,1472.2 770.6,1485 772.7,1485 772.7,1508.4 775.9,1508.4 775.9,1517 779.1,1517 779.1,1506.3 782.3,1506.3 782.3,1495.7 785.5,1495.7 785.5,1506.3 787.6,1506.3 787.6,1495.7 789.7,1495.7 789.7,1476.5 791.9,1476.5 791.9,1462.6 794,1462.6 794,1474.3 797.2,1474.3 797.2,1487.1 800.4,1487.1 800.4,1474.3 803.6,1474.3 803.6,1485 806.8,1485 806.8,1495.7 808.9,1495.7 808.9,1517 812.1,1517 812.1,1517 815.3,1517 815.3,1527.6 818.5,1527.6 818.5,1540.4 821.7,1540.4 821.7,1529.8 824.9,1529.8 824.9,1540.4 829.2,1540.4 829.2,1540.4 833.5,1540.4 833.5,1540.4 837.7,1540.4 837.7,1529.8 840.9,1529.8 840.9,1519.1 844.1,1519.1 844.1,1529.8 847.3,1529.8 847.3,1529.8 850.5,1529.8 850.5,1517 853.7,1517 853.7,1495.7 856.9,1495.7 856.9,1495.7 859,1495.7 859,1517 863.3,1517 863.3,1517 866.5,1517 866.5,1527.6 868.6,1527.6 868.6,1540.4 870.8,1540.4 870.8,1553.2 872.9,1553.2 872.9,1563.7 892.1,1563.7 892.1,1563.7 893.2,1563.7 893.2,1553.2 897.4,1553.2 897.4,1553.2 900.6,1553.2 900.6,1551.1 903.8,1551.1 903.8,1544.7 907,1544.7 907,1540.4 910.2,1540.4 910.2,1546.8 913.4,1546.8 913.4,1540.4 917.7,1540.4 917.7,1540.4 920.9,1540.4 920.9,1551.1 924.1,1551.1 924.1,1542.6 927.3,1542.6 927.3,1527.6 929.4,1527.6 929.4,1495.7 931.5,1495.7 931.5,1487.1 934.7,1487.1 934.7,1495.7 943.3,1495.7 943.3,1495.7 945.4,1495.7 945.4,1514.8 947.5,1514.8 947.5,1544.7 949.7,1544.7 949.7,1563.7" fill="none" stroke="#5e3b0c" stroke-width="1.5" stroke-linejoin="round"/><text class="k" transform="translate(592.1,1602.9) scale(0.97,1)" text-anchor="middle">0</text><text class="k" transform="translate(681.6,1602.9) scale(0.97,1)" text-anchor="middle">20</text><text class="k" transform="translate(771.2,1602.9) scale(0.97,1)" text-anchor="middle">40</text><text class="k" transform="translate(860.7,1602.9) scale(0.97,1)" text-anchor="middle">60</text><text class="k" transform="translate(950.2,1602.9) scale(0.97,1)" text-anchor="middle">80</text><text class="t" transform="translate(770.2,1333.7) scale(0.965,1)" text-anchor="middle">chr18</text></g>
<g><rect x="1064.1" y="1348.9" width="361.6" height="214.8" fill="none" stroke="#383838" stroke-width="1.8"/><path d="M1182.4,1563.7v-4.5M1182.4,1348.9v4.5M1300.7,1563.7v-4.5M1300.7,1348.9v4.5M1419,1563.7v-4.5M1419,1348.9v4.5" stroke="#383838" stroke-width="1.6" fill="none"/><rect x="1209.1" y="1347.9" width="19.2" height="216.8" fill="#cccccc" fill-opacity="0.8"/><path d="M1064.1,1546.8 1065.5,1546.8 1065.5,1538.8 1067,1538.8 1067,1530.8 1068.4,1530.8 1068.4,1522.8 1069.9,1522.8 1069.9,1514.8 1071.6,1514.8 1071.6,1499.2 1073.4,1499.2 1073.4,1483.6 1075.2,1483.6 1075.2,1467.9 1077,1467.9 1077,1460.8 1078.7,1460.8 1078.7,1453.7 1080.5,1453.7 1080.5,1446.6 1082.1,1446.6 1082.1,1443.4 1083.7,1443.4 1083.7,1440.2 1085.3,1440.2 1085.3,1437 1086.9,1437 1086.9,1433.8 1088.5,1433.8 1088.5,1428.5 1090.1,1428.5 1090.1,1423.2 1091.7,1423.2 1091.7,1417.8 1093.3,1417.8 1093.3,1412.5 1094.9,1412.5 1094.9,1418.9 1096.5,1418.9 1096.5,1425.3 1097.9,1425.3 1097.9,1426.7 1099.3,1426.7 1099.3,1428.1 1100.8,1428.1 1100.8,1429.6 1102.4,1429.6 1102.4,1438.1 1104,1438.1 1104,1446.6 1105.4,1446.6 1105.4,1450.2 1106.8,1450.2 1106.8,1453.7 1108.2,1453.7 1108.2,1457.3 1109.7,1457.3 1109.7,1463.7 1111.1,1463.7 1111.1,1470.1 1112.5,1470.1 1112.5,1476.5 1114.1,1476.5 1114.1,1480.7 1115.7,1480.7 1115.7,1485 1117.5,1485 1117.5,1470.1 1119.2,1470.1 1119.2,1455.1 1121,1455.1 1121,1440.2 1122.6,1440.2 1122.6,1448.7 1124.2,1448.7 1124.2,1457.3 1125.8,1457.3 1125.8,1461.5 1127.4,1461.5 1127.4,1465.8 1129,1465.8 1129,1461 1130.6,1461 1130.6,1456.2 1132.2,1456.2 1132.2,1451.4 1133.8,1451.4 1133.8,1446.6 1135.2,1446.6 1135.2,1450.9 1136.7,1450.9 1136.7,1455.1 1138.1,1455.1 1138.1,1459.4 1139.7,1459.4 1139.7,1471.1 1141.3,1471.1 1141.3,1482.9 1142.9,1482.9 1142.9,1494.6 1144.5,1494.6 1144.5,1506.3 1145.9,1506.3 1145.9,1493.5 1147.3,1493.5 1147.3,1480.7 1148.7,1480.7 1148.7,1467.9 1150.2,1467.9 1150.2,1464.4 1151.6,1464.4 1151.6,1460.8 1153,1460.8 1153,1457.3 1154.4,1457.3 1154.4,1460.1 1155.8,1460.1 1155.8,1463 1157.3,1463 1157.3,1465.8 1159.4,1465.8 1159.4,1478.6 1160.8,1478.6 1160.8,1464.4 1162.2,1464.4 1162.2,1450.2 1163.7,1450.2 1163.7,1435.9 1165.1,1435.9 1165.1,1421.7 1166.5,1421.7 1166.5,1407.5 1167.9,1407.5 1167.9,1393.3 1169.4,1393.3 1169.4,1398.3 1170.8,1398.3 1170.8,1403.3 1172.2,1403.3 1172.2,1408.2 1173.9,1408.2 1173.9,1407.8 1175.6,1407.8 1175.6,1407.4 1177.3,1407.4 1177.3,1407 1179,1407 1179,1406.5 1180.7,1406.5 1180.7,1406.1 1182.9,1406.1 1182.9,1399.7 1184.3,1399.7 1184.3,1411.8 1185.7,1411.8 1185.7,1423.9 1187.1,1423.9 1187.1,1435.9 1188.7,1435.9 1188.7,1457.8 1190.3,1457.8 1190.3,1479.7 1191.9,1479.7 1191.9,1501.5 1193.5,1501.5 1193.5,1523.4 1194.9,1523.4 1194.9,1518.4 1196.4,1518.4 1196.4,1513.4 1197.8,1513.4 1197.8,1508.4 1199.2,1508.4 1199.2,1514.1 1200.6,1514.1 1200.6,1519.8 1202,1519.8 1202,1525.5 1203.6,1525.5 1203.6,1528.2 1205.2,1528.2 1205.2,1530.8 1206.8,1530.8 1206.8,1533.5 1208.4,1533.5 1208.4,1536.2 1210.1,1536.2 1210.1,1537.4 1211.9,1537.4 1211.9,1538.7 1213.6,1538.7 1213.6,1540 1215.3,1540 1215.3,1541.3 1217,1541.3 1217,1542.6 1218.5,1542.6 1218.5,1534.9 1220,1534.9 1220,1527.3 1221.5,1527.3 1221.5,1519.7 1223.1,1519.7 1223.1,1512.1 1224.6,1512.1 1224.6,1504.5 1226.1,1504.5 1226.1,1496.9 1227.6,1496.9 1227.6,1489.3 1229.1,1489.3 1229.1,1485 1230.5,1485 1230.5,1480.7 1231.9,1480.7 1231.9,1476.5 1233.6,1476.5 1233.6,1471.3 1235.3,1471.3 1235.3,1466.2 1237,1466.2 1237,1461.1 1238.7,1461.1 1238.7,1456 1240.4,1456 1240.4,1450.9 1241.8,1450.9 1241.8,1458 1243.3,1458 1243.3,1465.1 1244.7,1465.1 1244.7,1472.2 1246.3,1472.2 1246.3,1479.1 1247.9,1479.1 1247.9,1486.1 1249.5,1486.1 1249.5,1493 1251.1,1493 1251.1,1499.9 1252.5,1499.9 1252.5,1497.1 1253.9,1497.1 1253.9,1494.2 1255.4,1494.2 1255.4,1491.4 1257,1491.4 1257,1496.2 1258.6,1496.2 1258.6,1501 1260.1,1501 1260.1,1505.8 1261.7,1505.8 1261.7,1510.6 1263.5,1510.6 1263.5,1511.9 1265.2,1511.9 1265.2,1513.1 1266.9,1513.1 1266.9,1514.4 1268.6,1514.4 1268.6,1515.7 1270.3,1515.7 1270.3,1517 1271.9,1517 1271.9,1518 1273.5,1518 1273.5,1519.1 1275.1,1519.1 1275.1,1520.2 1276.7,1520.2 1276.7,1521.2 1278.1,1521.2 1278.1,1525.5 1279.5,1525.5 1279.5,1529.8 1280.9,1529.8 1280.9,1534 1282.5,1534 1282.5,1533 1284.1,1533 1284.1,1531.9 1285.7,1531.9 1285.7,1530.8 1287.3,1530.8 1287.3,1529.8 1289,1529.8 1289,1528.5 1290.7,1528.5 1290.7,1527.2 1292.5,1527.2 1292.5,1525.9 1294.2,1525.9 1294.2,1524.6 1295.9,1524.6 1295.9,1523.4 1297.4,1523.4 1297.4,1520.3 1298.9,1520.3 1298.9,1517.3 1300.4,1517.3 1300.4,1514.2 1302,1514.2 1302,1511.2 1303.5,1511.2 1303.5,1508.1 1305,1508.1 1305,1505.1 1306.5,1505.1 1306.5,1502 1308.1,1502 1308.1,1505.8 1309.7,1505.8 1309.7,1509.5 1311.3,1509.5 1311.3,1513.2 1312.9,1513.2 1312.9,1517 1314.3,1517 1314.3,1519.1 1315.8,1519.1 1315.8,1521.2 1317.2,1521.2 1317.2,1523.4 1318.9,1523.4 1318.9,1519.1 1320.6,1519.1 1320.6,1514.8 1322.3,1514.8 1322.3,1510.6 1324,1510.6 1324,1506.3 1325.7,1506.3 1325.7,1502 1327.1,1502 1327.1,1507 1328.6,1507 1328.6,1512 1330,1512 1330,1517 1331.7,1517 1331.7,1515.3 1333.4,1515.3 1333.4,1513.6 1335.1,1513.6 1335.1,1511.9 1336.8,1511.9 1336.8,1510.1 1338.5,1510.1 1338.5,1508.4 1340.2,1508.4 1340.2,1508.9 1341.9,1508.9 1341.9,1509.3 1343.6,1509.3 1343.6,1509.7 1345.3,1509.7 1345.3,1510.1 1347,1510.1 1347,1510.6 1348.5,1510.6 1348.5,1516.3 1349.9,1516.3 1349.9,1521.9 1351.3,1521.9 1351.3,1527.6 1352.9,1527.6 1352.9,1522.8 1354.5,1522.8 1354.5,1518 1356.1,1518 1356.1,1513.2 1357.7,1513.2 1357.7,1508.4 1359.4,1508.4 1359.4,1507.2 1361.1,1507.2 1361.1,1505.9 1362.8,1505.9 1362.8,1504.6 1364.5,1504.6 1364.5,1503.3 1366.2,1503.3 1366.2,1502 1367.8,1502 1367.8,1505.8 1369.4,1505.8 1369.4,1509.5 1371,1509.5 1371,1513.2 1372.6,1513.2 1372.6,1517 1374,1517 1374,1514.1 1375.5,1514.1 1375.5,1511.3 1376.9,1511.3 1376.9,1508.4 1379,1508.4 1379,1404 1381.2,1404 1381.2,1382.6 1382.8,1382.6 1382.8,1377.3 1384.3,1377.3 1384.3,1372 1385.9,1372 1385.9,1366.7 1387.5,1366.7 1387.5,1361.3 1389.1,1361.3 1389.1,1358.4 1390.7,1358.4 1390.7,1355.5 1392.3,1355.5 1392.3,1352.5 1393.9,1352.5 1393.9,1349.6 1395.7,1349.6 1395.7,1350 1397.5,1350 1397.5,1350.3 1399.3,1350.3 1399.3,1350.7 1401.4,1350.7 1401.4,1372 1402.5,1372 1402.5,1425.3 1403.9,1425.3 1403.9,1446.6 1405.3,1446.6 1405.3,1467.9 1406.7,1467.9 1406.7,1489.3 1408.5,1489.3 1408.5,1500.6 1410.3,1500.6 1410.3,1512 1412.1,1512 1412.1,1523.4 1413.6,1523.4 1413.6,1527.2 1415.1,1527.2 1415.1,1531 1416.5,1531 1416.5,1534.9 1418,1534.9 1418,1538.7 1419.5,1538.7 1419.5,1542.6 1421,1542.6 1421,1547.4 1422.5,1547.4 1422.5,1552.2 1424,1552.2 1424,1557 1425.5,1557 1425.5,1561.7" fill="none" stroke="#d99a2b" stroke-width="1.5" stroke-linejoin="round"/><path d="M1064.1,1510.6 1065.8,1510.6 1065.8,1510.6 1067.4,1510.6 1067.4,1510.6 1069.1,1510.6 1069.1,1510.6 1070.8,1510.6 1070.8,1510.6 1072.4,1510.6 1072.4,1510.6 1074.1,1510.6 1074.1,1510.6 1075.9,1510.6 1075.9,1497.1 1077.7,1497.1 1077.7,1483.6 1079.4,1483.6 1079.4,1470.1 1081,1470.1 1081,1472.2 1082.6,1472.2 1082.6,1474.3 1084.1,1474.3 1084.1,1480.5 1085.6,1480.5 1085.6,1486.7 1087.1,1486.7 1087.1,1492.9 1088.6,1492.9 1088.6,1499.1 1090.1,1499.1 1090.1,1505.2 1091.7,1505.2 1091.7,1495.4 1093.3,1495.4 1093.3,1485.5 1094.9,1485.5 1094.9,1475.7 1096.5,1475.7 1096.5,1465.8 1097.9,1465.8 1097.9,1465.8 1099.3,1465.8 1099.3,1465.8 1100.8,1465.8 1100.8,1465.8 1101.8,1465.8 1101.8,1447.7 1104,1447.7 1104,1467.9 1106.1,1467.9 1106.1,1450.9 1107.6,1450.9 1107.6,1450.4 1109.1,1450.4 1109.1,1450 1110.6,1450 1110.6,1449.6 1112.1,1449.6 1112.1,1449.2 1113.6,1449.2 1113.6,1448.7 1115.2,1448.7 1115.2,1437 1116.8,1437 1116.8,1425.3 1118.4,1425.3 1118.4,1421 1120,1421 1120,1416.8 1121.6,1416.8 1121.6,1412.5 1123.2,1412.5 1123.2,1408.2 1124.6,1408.2 1124.6,1401.8 1126,1401.8 1126,1395.4 1127.4,1395.4 1127.4,1389 1129.6,1389 1129.6,1410.4 1131.2,1410.4 1131.2,1397.8 1132.8,1397.8 1132.8,1385.3 1134.3,1385.3 1134.3,1372.8 1135.9,1372.8 1135.9,1360.3 1137.4,1360.3 1137.4,1369.9 1138.8,1369.9 1138.8,1379.4 1140.2,1379.4 1140.2,1389 1141.8,1389 1141.8,1377.8 1143.4,1377.8 1143.4,1366.7 1145.2,1366.7 1145.2,1375.5 1147,1375.5 1147,1384.4 1148.7,1384.4 1148.7,1393.3 1150.5,1393.3 1150.5,1404 1152.3,1404 1152.3,1414.6 1154.1,1414.6 1154.1,1425.3 1155.5,1425.3 1155.5,1430.3 1156.9,1430.3 1156.9,1435.2 1158.3,1435.2 1158.3,1440.2 1160.1,1440.2 1160.1,1428.1 1161.9,1428.1 1161.9,1416 1163.7,1416 1163.7,1404 1165.1,1404 1165.1,1397.6 1166.5,1397.6 1166.5,1391.2 1167.9,1391.2 1167.9,1384.8 1169.4,1384.8 1169.4,1384.1 1170.8,1384.1 1170.8,1383.4 1172.2,1383.4 1172.2,1382.6 1173.8,1382.6 1173.8,1374.2 1175.4,1374.2 1175.4,1365.8 1177,1365.8 1177,1357.3 1178.6,1357.3 1178.6,1348.9 1180.2,1348.9 1180.2,1352.5 1181.8,1352.5 1181.8,1356.2 1183.4,1356.2 1183.4,1359.8 1185,1359.8 1185,1363.5 1187.1,1363.5 1187.1,1380.5 1188.5,1380.5 1188.5,1384.8 1190,1384.8 1190,1389 1191.4,1389 1191.4,1393.3 1192.8,1393.3 1192.8,1388.3 1194.2,1388.3 1194.2,1383.4 1195.7,1383.4 1195.7,1378.4 1197.2,1378.4 1197.2,1384.8 1198.8,1384.8 1198.8,1391.2 1200.6,1391.2 1200.6,1408.2 1202.4,1408.2 1202.4,1425.3 1204.2,1425.3 1204.2,1442.3 1205.6,1442.3 1205.6,1445.2 1207,1445.2 1207,1448 1208.4,1448 1208.4,1450.9 1210.6,1450.9 1210.6,1478.6 1212.2,1478.6 1212.2,1495.4 1213.8,1495.4 1213.8,1512.2 1215.4,1512.2 1215.4,1529 1217,1529 1217,1545.8 1218.4,1545.8 1218.4,1539.7 1219.8,1539.7 1219.8,1533.7 1221.2,1533.7 1221.2,1527.6 1222.7,1527.6 1222.7,1521.9 1224.1,1521.9 1224.1,1516.3 1225.5,1516.3 1225.5,1510.6 1226.9,1510.6 1226.9,1493.5 1228.3,1493.5 1228.3,1476.5 1229.8,1476.5 1229.8,1459.4 1231.2,1459.4 1231.2,1455.1 1232.6,1455.1 1232.6,1450.9 1234,1450.9 1234,1446.6 1235.6,1446.6 1235.6,1438.1 1237.2,1438.1 1237.2,1429.6 1238.8,1429.6 1238.8,1421 1240.4,1421 1240.4,1412.5 1241.8,1412.5 1241.8,1417.5 1243.3,1417.5 1243.3,1422.4 1244.7,1422.4 1244.7,1427.4 1246.5,1427.4 1246.5,1428.1 1248.2,1428.1 1248.2,1428.8 1250,1428.8 1250,1429.6 1251.8,1429.6 1251.8,1434.5 1253.6,1434.5 1253.6,1439.5 1255.4,1439.5 1255.4,1444.5 1256.8,1444.5 1256.8,1443.8 1258.2,1443.8 1258.2,1443.1 1259.6,1443.1 1259.6,1442.3 1261.7,1442.3 1261.7,1463.7 1263.9,1463.7 1263.9,1391.2 1265.5,1391.2 1265.5,1380.6 1267.1,1380.6 1267.1,1370 1268.7,1370 1268.7,1359.5 1270.3,1359.5 1270.3,1348.9 1271.9,1348.9 1271.9,1351.5 1273.5,1351.5 1273.5,1354 1275.1,1354 1275.1,1356.6 1276.7,1356.6 1276.7,1359.2 1278.3,1359.2 1278.3,1364 1279.9,1364 1279.9,1368.8 1281.5,1368.8 1281.5,1373.6 1283.1,1373.6 1283.1,1378.4 1285.2,1378.4 1285.2,1361.3 1286.8,1361.3 1286.8,1375.2 1288.4,1375.2 1288.4,1389 1290.2,1389 1290.2,1404 1292,1404 1292,1418.9 1293.7,1418.9 1293.7,1433.8 1295.9,1433.8 1295.9,1414.6 1297.3,1414.6 1297.3,1417.5 1298.7,1417.5 1298.7,1420.3 1300.1,1420.3 1300.1,1423.2 1301.7,1423.2 1301.7,1413.6 1303.3,1413.6 1303.3,1404 1304.9,1404 1304.9,1394.4 1306.5,1394.4 1306.5,1384.8 1307.9,1384.8 1307.9,1391.2 1309.4,1391.2 1309.4,1397.6 1310.8,1397.6 1310.8,1404 1312.2,1404 1312.2,1407.5 1313.6,1407.5 1313.6,1411.1 1315.1,1411.1 1315.1,1414.6 1316.7,1414.6 1316.7,1420 1318.3,1420 1318.3,1425.3 1319.9,1425.3 1319.9,1430.6 1321.4,1430.6 1321.4,1435.9 1322.9,1435.9 1322.9,1440.9 1324.3,1440.9 1324.3,1445.9 1325.7,1445.9 1325.7,1450.9 1327.3,1450.9 1327.3,1455.7 1328.9,1455.7 1328.9,1460.5 1330.5,1460.5 1330.5,1465.3 1332.1,1465.3 1332.1,1470.1 1333.5,1470.1 1333.5,1463 1335,1463 1335,1455.8 1336.4,1455.8 1336.4,1448.7 1337.8,1448.7 1337.8,1451.6 1339.2,1451.6 1339.2,1454.4 1340.6,1454.4 1340.6,1457.3 1342.2,1457.3 1342.2,1447.1 1343.8,1447.1 1343.8,1437 1345.4,1437 1345.4,1426.9 1347,1426.9 1347,1416.8 1348.6,1416.8 1348.6,1416 1350.2,1416 1350.2,1415.2 1351.8,1415.2 1351.8,1414.4 1353.4,1414.4 1353.4,1413.6 1354.9,1413.6 1354.9,1418.9 1356.3,1418.9 1356.3,1424.2 1357.7,1424.2 1357.7,1429.6 1359.1,1429.6 1359.1,1434.5 1360.5,1434.5 1360.5,1439.5 1362,1439.5 1362,1444.5 1363.6,1444.5 1363.6,1450.3 1365.2,1450.3 1365.2,1456.2 1366.8,1456.2 1366.8,1462.1 1368.4,1462.1 1368.4,1467.9 1370,1467.9 1370,1472.7 1371.6,1472.7 1371.6,1477.5 1373.2,1477.5 1373.2,1482.3 1374.8,1482.3 1374.8,1487.1 1376.9,1487.1 1376.9,1463.7 1378.3,1463.7 1378.3,1458.7 1379.7,1458.7 1379.7,1453.7 1381.2,1453.7 1381.2,1448.7 1382.8,1448.7 1382.8,1442.9 1384.3,1442.9 1384.3,1437 1385.9,1437 1385.9,1431.2 1387.5,1431.2 1387.5,1425.3 1389.3,1425.3 1389.3,1418 1391,1418 1391,1410.8 1392.7,1410.8 1392.7,1403.5 1394.4,1403.5 1394.4,1396.3 1396.1,1396.3 1396.1,1389 1397.5,1389 1397.5,1391.2 1398.9,1391.2 1398.9,1393.3 1400.3,1393.3 1400.3,1395.4 1402.5,1395.4 1402.5,1429.6 1404.1,1429.6 1404.1,1440.2 1405.7,1440.2 1405.7,1450.9 1407.3,1450.9 1407.3,1461.5 1408.9,1461.5 1408.9,1472.2 1410.5,1472.2 1410.5,1482.9 1412.1,1482.9 1412.1,1493.5 1413.7,1493.5 1413.7,1504.2 1415.3,1504.2 1415.3,1514.8 1416.9,1514.8 1416.9,1527.1 1418.5,1527.1 1418.5,1539.3 1420.1,1539.3 1420.1,1551.5 1421.7,1551.5 1421.7,1563.7 1423.6,1563.7 1423.6,1563.7 1425.5,1563.7 1425.5,1563.7" fill="none" stroke="#5e3b0c" stroke-width="1.5" stroke-linejoin="round"/><text class="k" transform="translate(1064.1,1602.9) scale(0.97,1)" text-anchor="middle">0</text><text class="k" transform="translate(1182.4,1602.9) scale(0.97,1)" text-anchor="middle">20</text><text class="k" transform="translate(1300.7,1602.9) scale(0.97,1)" text-anchor="middle">40</text><text class="k" transform="translate(1419,1602.9) scale(0.97,1)" text-anchor="middle">60</text><text class="t" transform="translate(1243.7,1333.7) scale(0.965,1)" text-anchor="middle">chr19</text></g>
<g><rect x="1539.2" y="1348.9" width="358.1" height="214.8" fill="none" stroke="#383838" stroke-width="1.8"/><path d="M1649.4,1563.7v-4.5M1649.4,1348.9v4.5M1759.7,1563.7v-4.5M1759.7,1348.9v4.5M1869.9,1563.7v-4.5M1869.9,1348.9v4.5" stroke="#383838" stroke-width="1.6" fill="none"/><rect x="1683.4" y="1347.9" width="18.6" height="216.8" fill="#cccccc" fill-opacity="0.8"/><path d="M1539.2,1556.4 1540.5,1555.6 1541.9,1556.9 1543.2,1555.8 1544.5,1556.8 1545.9,1555.5 1547.2,1556 1548.5,1556.5 1549.8,1556.8 1551.2,1557.1 1552.6,1557.7 1554,1558.8 1555.4,1560.5 1556.7,1561.4 1558,1561.8 1559.3,1561.7 1560.6,1562.5 1561.8,1562.8 1563.1,1562.8 1564.4,1563.1 1565.7,1563.1 1567,1563.3 1568.2,1563.4 1569.4,1563.3 1570.7,1563.2 1571.9,1563.3 1573.1,1563.2 1574.3,1563.1 1575.5,1563 1576.8,1562.8 1578,1562.7 1579.2,1562.6 1580.4,1562.3 1581.6,1561.9 1582.9,1561.9 1584.1,1561.8 1585.3,1561.9 1586.6,1561.9 1587.8,1561.3 1589.1,1561 1590.4,1560.7 1591.7,1560.8 1593,1561.1 1594.2,1561.1 1595.5,1561.1 1596.8,1561.9 1598.1,1561.3 1599.3,1561.6 1600.5,1561.3 1601.7,1561.5 1603,1561.8 1604.2,1561.9 1605.4,1561.6 1606.6,1561.6 1608,1561.5 1609.5,1561.3 1610.9,1560.1 1612.3,1560.6 1613.7,1559.9 1615.1,1559.5 1616.6,1559.3 1618,1558.3 1619.4,1558.7 1620.8,1557.9 1622.2,1558.9 1623.7,1559.4 1625.1,1558.8 1626.5,1558.3 1627.9,1559.1 1629.4,1558.9 1630.8,1558.4 1632.2,1557.7 1633.6,1557.2 1635,1557.1 1636.5,1558.3 1638.1,1556.2 1639.7,1554.9 1641.3,1553.6 1642.9,1550.7 1644.5,1548.7 1646.1,1544.9 1647.7,1541.9 1649.3,1540.8 1650.9,1538.5 1652.5,1535.4 1654.1,1534.1 1655.7,1532.4 1657.2,1527.9 1658.8,1526.4 1660.4,1524 1662,1521.1 1663.6,1521.1 1665.2,1519.9 1666.8,1516.1 1668.4,1514 1669.5,1512.9 1670.6,1510.1 1671.6,1508.5 1672.7,1505.9 1673.8,1503.8 1674.8,1501.4 1675.9,1500.6 1677,1499.8 1678,1502.6 1679.1,1505.5 1680.2,1509.1 1681.2,1510.6 1682.3,1513.5 1683.4,1514.9 1684.4,1518.3 1685.5,1521.1 1686.6,1523.8 1687.6,1528.5 1688.7,1525.1 1689.8,1522.8 1690.8,1519.1 1691.9,1515.4 1693,1509.1 1694,1503.8 1695.1,1496 1696.2,1490.1 1697.2,1479.5 1698.3,1468.3 1699.4,1457.4 1700.4,1446 1701.5,1431.3 1702.6,1414.7 1703.6,1404.2 1704.7,1392.9 1705.8,1384.2 1706.8,1376 1708.4,1370.3 1710,1365.8 1711.1,1360.2 1712.2,1354.3 1713.2,1354.3 1714.3,1353.4 1715.4,1357.4 1716.4,1361 1717.5,1364.1 1718.6,1366.2 1719.6,1367.2 1720.7,1370.2 1721.7,1372.5 1722.8,1376.1 1723.9,1380.1 1724.9,1383.4 1726,1397.6 1727.1,1411.9 1728.1,1411.4 1729.2,1409.7 1730.3,1411.1 1731.3,1410.9 1732.4,1411.2 1733.5,1410.2 1734.5,1411.6 1735.6,1411.7 1736.7,1410.5 1737.7,1409.7 1738.8,1411.8 1739.9,1414.9 1740.9,1419.9 1742,1425.4 1743.1,1430.2 1744.1,1435.1 1745.2,1437.9 1746.3,1439.7 1747.3,1442.8 1748.4,1447.1 1749.5,1452.7 1750.5,1459.8 1751.6,1465 1752.7,1472.3 1753.7,1478.5 1754.8,1484.9 1755.9,1486.6 1756.9,1489.4 1758,1492.1 1759.1,1494.1 1760.1,1495.6 1761.2,1497.8 1762.3,1497.4 1763.3,1496.3 1764.4,1493.9 1765.5,1492.9 1766.5,1496 1767.6,1498.5 1768.7,1495.8 1769.7,1493 1770.8,1492.3 1771.9,1492.1 1772.9,1494.7 1774,1497.6 1775.1,1499.4 1776.1,1501.6 1777.2,1503.8 1778.3,1504.8 1779.3,1506.4 1780.4,1508.1 1781.4,1505 1782.5,1502.5 1783.6,1504.4 1784.6,1508.2 1785.7,1507.8 1786.8,1508 1787.8,1509.1 1788.9,1510.4 1790,1511.7 1791,1511.9 1792.1,1512.2 1793.2,1511.3 1794.2,1512.7 1795.3,1514.2 1796.4,1514.4 1797.4,1514.4 1798.5,1515.4 1799.6,1517.7 1800.6,1518.8 1801.7,1519.9 1802.8,1517.8 1803.8,1517.5 1804.9,1517.4 1806,1519.1 1807,1521.6 1808.1,1525.6 1809.2,1527.2 1810.2,1527 1811.3,1528.9 1812.4,1530.1 1813.4,1530.6 1814.5,1532.1 1815.6,1532.6 1816.6,1534.7 1817.7,1536 1818.8,1536.1 1819.8,1537.4 1820.9,1538.2 1822,1539.2 1823,1540.5 1824.1,1540.7 1825.2,1542.3 1826.2,1543.8 1827.3,1544.3 1828.4,1545 1829.4,1546 1830.5,1544.7 1831.6,1545.5 1832.6,1542.8 1833.7,1542.5 1834.8,1541.6 1835.8,1541.3 1836.9,1538.9 1838,1538.5 1839,1537.1 1840.1,1535.8 1841.2,1535.3 1842.2,1534.9 1843.3,1535.5 1844.3,1536.6 1845.4,1536.6 1846.5,1539.1 1847.5,1540.1 1848.6,1541.2 1849.7,1541.4 1850.7,1543.1 1851.8,1544.3 1852.9,1545.5 1853.9,1545 1855,1547.4 1856.1,1548.5 1857.1,1549.3 1858.2,1549.7 1859.3,1550.6 1860.3,1551.3 1861.4,1553.8 1862.5,1554 1863.5,1555.1 1864.6,1555.4 1865.7,1555.6 1866.7,1556.7 1867.8,1557.7 1868.9,1556.9 1869.9,1556.2 1871,1554.9 1872.1,1553.4 1873.1,1551.7 1874.2,1550.9 1875.3,1549.2 1876.3,1548.3 1877.4,1550.3 1878.5,1549.8 1879.5,1550.5 1880.6,1552.9 1881.7,1553.5 1882.7,1553 1884.3,1553.9 1885.9,1554.6 1887.5,1555.4 1889.1,1555.6 1890.7,1555.7 1892.3,1556.7 1893.5,1559.2 1894.7,1558.8 1895.8,1560 1897,1561.5" fill="none" stroke="#d99a2b" stroke-width="1.8" stroke-linejoin="round"/><path d="M1539.2,1555.5 1540.5,1555.7 1541.9,1555.3 1543.2,1555.3 1544.5,1555.1 1545.9,1556 1547.2,1554.9 1548.5,1554.6 1549.8,1554.8 1551.2,1555.5 1552.8,1558.1 1554.4,1559.7 1556,1560.7 1557.6,1562.7 1558.9,1562.8 1560.3,1562.9 1561.7,1563 1563.1,1563.3 1564.4,1563.3 1565.8,1563.4 1567.2,1563.5 1568.2,1557.7 1569.3,1552.6 1570.9,1548.7 1572.5,1541.7 1574.1,1541.4 1575.7,1541 1577.3,1538.9 1578.9,1538.8 1580.5,1537.9 1582.1,1536.8 1583.7,1533.7 1585.3,1531.5 1586.9,1530.6 1588.5,1528.9 1589.6,1531 1590.6,1533.6 1591.7,1537.7 1592.8,1543 1593.8,1545.5 1594.9,1548.2 1595.9,1549.7 1597,1550.4 1598.1,1546 1599.1,1542.7 1600.2,1544.2 1601.3,1546.4 1602.9,1547.3 1604.5,1549.1 1606.1,1551.6 1607.7,1554 1609.3,1555 1610.9,1554.9 1612.5,1554.5 1614.1,1552.8 1615.1,1551.5 1616.2,1551.1 1617.8,1551.9 1619.4,1550.8 1620.5,1554.3 1621.5,1558 1623,1557.4 1624.4,1558 1625.8,1560.3 1627.2,1559.9 1628.6,1559.1 1630.1,1559.1 1631.5,1558.9 1632.9,1558.2 1634.3,1558.3 1635.7,1558.1 1637.2,1558.4 1638.6,1558.1 1639.7,1555.6 1640.7,1555.3 1641.8,1552.5 1642.9,1551.5 1644.5,1547.1 1646.1,1545.1 1647.7,1542 1649.3,1537.5 1650.9,1533.3 1652.5,1529.8 1654.1,1526.3 1655.7,1522.1 1657.2,1517.5 1658.8,1513.3 1660.4,1510.3 1662,1508.9 1663.6,1504.3 1665.2,1499.8 1666.8,1494.9 1668.4,1488.4 1669.5,1483.6 1670.6,1478.6 1671.6,1470.6 1672.7,1464 1673.8,1466.7 1674.8,1467.5 1675.9,1469.7 1677,1472.5 1678,1476.6 1679.1,1480.5 1680.2,1485 1681.2,1488.9 1682.3,1493.9 1683.4,1496.9 1684.4,1502.6 1685.5,1505.8 1686.6,1510.4 1687.6,1514.7 1688.7,1518.2 1689.8,1520.9 1690.8,1524.9 1691.9,1530.5 1693,1519.3 1694,1511.4 1695.1,1504.8 1696.2,1499.7 1697.2,1489.4 1698.3,1478.2 1699.4,1473.7 1700.4,1467.4 1701.5,1447 1702.6,1424.8 1703.6,1410.3 1704.7,1395.5 1705.8,1388.5 1706.8,1383.5 1707.9,1378.1 1709,1372 1710,1367.5 1711.1,1360.7 1712.2,1355.2 1713.2,1351.2 1714.3,1356.8 1715.4,1363.3 1716.4,1370.3 1717.5,1378.6 1718.6,1381.4 1719.6,1385 1720.7,1390.8 1721.7,1398.5 1722.8,1406.9 1723.9,1415 1724.9,1432 1726,1450.6 1727.1,1453.2 1728.1,1454.7 1729.2,1454 1730.3,1452.9 1731.3,1451.5 1732.4,1450.6 1733.5,1448.2 1734.5,1443.7 1735.6,1447.8 1736.7,1450.3 1737.7,1455.9 1738.8,1459 1739.9,1461.4 1740.9,1463.6 1742,1465.6 1743.1,1468.6 1744.1,1469 1745.2,1469.6 1746.3,1467.8 1747.3,1465.2 1748.4,1469.9 1749.5,1472.3 1750.5,1476 1751.6,1481.2 1752.7,1485.2 1753.7,1489.9 1754.8,1491.9 1755.9,1493.6 1756.9,1494.1 1758,1495.8 1759.1,1497.4 1760.1,1498.6 1761.2,1498.7 1762.3,1499.2 1763.3,1501.3 1764.4,1501.4 1765.5,1506.8 1766.5,1511.1 1767.6,1516.3 1768.7,1521.2 1769.7,1521.1 1770.8,1521 1771.9,1521.4 1772.9,1521.8 1774,1520.7 1775.1,1519.6 1776.1,1520.3 1777.2,1521 1778.3,1525 1779.3,1527.6 1780.4,1518.8 1781.4,1509.8 1782.5,1506.8 1783.6,1503.7 1784.6,1507 1785.7,1508.3 1786.8,1510 1787.8,1510 1788.9,1510.2 1790,1508 1791,1509 1792.1,1509.7 1793.2,1507.1 1794.2,1504.2 1795.3,1498.2 1796.4,1492.7 1797.4,1494.1 1798.5,1495 1799.6,1494.3 1800.6,1492.7 1801.7,1500 1802.8,1506.6 1803.8,1504.5 1804.9,1503.4 1806,1502.1 1807,1500.3 1808.1,1496.6 1809.2,1493.4 1810.2,1491.6 1811.3,1491.6 1812.4,1489.9 1813.4,1489.1 1814.5,1489.6 1815.6,1491.8 1816.6,1492.7 1817.7,1494.8 1818.8,1499 1819.8,1501.5 1820.9,1505.1 1822,1507.8 1823,1511.5 1824.1,1514 1825.2,1518.5 1826.2,1523.2 1827.3,1524.9 1828.4,1525.7 1829.4,1526 1830.5,1527.6 1831.6,1524.7 1832.6,1522.8 1833.7,1523.6 1834.8,1526 1835.8,1523.7 1836.9,1522.6 1838,1524.9 1839,1527.4 1840.1,1526 1841.2,1526.1 1842.2,1526.6 1843.3,1528.5 1844.3,1529.6 1845.4,1529.5 1846.5,1531 1847.5,1532.7 1848.6,1531.1 1849.7,1530.3 1850.7,1533.8 1851.8,1535.3 1852.9,1537.3 1853.9,1537.9 1855,1538.6 1856.1,1539.6 1857.1,1542.9 1858.2,1545.1 1859.3,1545.6 1860.3,1546.8 1861.4,1540.8 1862.5,1535.5 1863.5,1531 1864.6,1528.4 1865.7,1523.6 1866.7,1521.8 1868.2,1519.8 1869.6,1518.9 1871,1517.6 1872.4,1516.9 1873.8,1515.1 1875.3,1514.2 1876.9,1517.7 1878.5,1519.2 1880.1,1519.6 1881.7,1519.6 1882.7,1522 1883.8,1525.4 1884.9,1529.9 1885.9,1536.5 1887,1541 1888.1,1544 1889.1,1547.2 1890.2,1550.4 1891.8,1553.5 1893.4,1555.8 1894.6,1557.8 1895.8,1559 1897,1561.3" fill="none" stroke="#5e3b0c" stroke-width="1.8" stroke-linejoin="round"/><text class="k" transform="translate(1539.2,1602.9) scale(0.97,1)" text-anchor="middle">0</text><text class="k" transform="translate(1649.4,1602.9) scale(0.97,1)" text-anchor="middle">20</text><text class="k" transform="translate(1759.7,1602.9) scale(0.97,1)" text-anchor="middle">40</text><text class="k" transform="translate(1869.9,1602.9) scale(0.97,1)" text-anchor="middle">60</text><text class="t" transform="translate(1717,1333.7) scale(0.965,1)" text-anchor="middle">chr20</text></g>
<g><rect x="120" y="1677.3" width="358.6" height="214.8" fill="none" stroke="#383838" stroke-width="1.8"/><path d="M262.9,1892.1v-4.5M262.9,1677.3v4.5M405.8,1892.1v-4.5M405.8,1677.3v4.5" stroke="#383838" stroke-width="1.6" fill="none"/><rect x="199.8" y="1676.3" width="24.1" height="216.8" fill="#cccccc" fill-opacity="0.8"/><path d="M120,1891.5 223.9,1891.5 223.9,1891.5 225,1891.5 225,1870.6 227.1,1870.6 227.1,1830 229.3,1830 229.3,1806.6 231.4,1806.6 231.4,1793.8 233.5,1793.8 233.5,1778.9 235.7,1778.9 235.7,1763.9 238.9,1763.9 238.9,1763.9 243.1,1763.9 243.1,1742.6 253.8,1742.6 253.8,1742.6 254.8,1742.6 254.8,1774.6 257,1774.6 257,1827.9 262.3,1827.9 262.3,1827.9 264.4,1827.9 264.4,1849.2 268.7,1849.2 268.7,1849.2 271.9,1849.2 271.9,1870.6 274,1870.6 274,1827.9 276.2,1827.9 276.2,1826.8 287.9,1826.8 287.9,1826.8 289,1826.8 289,1817.3 291.1,1817.3 291.1,1785.3 294.3,1785.3 294.3,1785.3 296.4,1785.3 296.4,1795.9 298.6,1795.9 298.6,1763.9 300.7,1763.9 300.7,1774.6 302.8,1774.6 302.8,1795.9 306,1795.9 306,1817.3 308.2,1817.3 308.2,1795.9 310.3,1795.9 310.3,1742.6 313.5,1742.6 313.5,1742.6 315.6,1742.6 315.6,1721.3 317.7,1721.3 317.7,1732 319.9,1732 319.9,1742.6 322,1742.6 322,1757.6 324.1,1757.6 324.1,1719.2 326.3,1719.2 326.3,1697.9 328.4,1697.9 328.4,1678.7 330.5,1678.7 330.5,1697.9 332.7,1697.9 332.7,1697.9 334.8,1697.9 334.8,1678.7 336.9,1678.7 336.9,1697.9 339.1,1697.9 339.1,1678.7 341.2,1678.7 341.2,1697.9 344.4,1697.9 344.4,1697.9 346.5,1697.9 346.5,1732 348.7,1732 348.7,1742.6 350.8,1742.6 350.8,1753.3 354,1753.3 354,1759.7 356.1,1759.7 356.1,1732 358.3,1732 358.3,1742.6 360.4,1742.6 360.4,1753.3 362.5,1753.3 362.5,1759.7 364.7,1759.7 364.7,1721.3 366.8,1721.3 366.8,1732 368.9,1732 368.9,1753.3 371.1,1753.3 371.1,1774.6 373.2,1774.6 373.2,1763.9 375.3,1763.9 375.3,1763.9 379.6,1763.9 379.6,1763.9 382.8,1763.9 382.8,1785.3 386,1785.3 386,1806.6 388.1,1806.6 388.1,1826.8 393.4,1826.8 393.4,1826.8 394.5,1826.8 394.5,1849.2 396.6,1849.2 396.6,1826.8 400.9,1826.8 400.9,1826.8 403,1826.8 403,1826.8 410.5,1826.8 410.5,1826.8 412.6,1826.8 412.6,1849.2 421.2,1849.2 421.2,1849.2 423.3,1849.2 423.3,1870.6 428.6,1870.6 428.6,1870.6 429.7,1870.6 429.7,1891.5 430.8,1891.5 430.8,1870.6 445.7,1870.6 445.7,1870.6 446.7,1870.6 446.7,1849.2 458.5,1849.2 458.5,1849.2 459.5,1849.2 459.5,1870.6 464.9,1870.6 464.9,1870.6 467,1870.6 467,1870.6 474.5,1870.6 474.5,1870.6 475.5,1870.6 475.5,1891.5 478.5,1891.5 478.5,1891.5" fill="none" stroke="#d99a2b" stroke-width="1.5" stroke-linejoin="round"/><path d="M120,1891.5 121.8,1891.5 121.8,1891.5 123.6,1891.5 123.6,1891.5 125.4,1891.5 125.4,1891.5 127.2,1891.5 127.2,1891.5 129,1891.5 129,1891.5 130.8,1891.5 130.8,1891.5 132.6,1891.5 132.6,1891.5 134.4,1891.5 134.4,1891.5 136.3,1891.5 136.3,1891.5 138.1,1891.5 138.1,1891.5 139.9,1891.5 139.9,1891.5 141.7,1891.5 141.7,1891.5 143.5,1891.5 143.5,1891.5 145.3,1891.5 145.3,1891.5 147.1,1891.5 147.1,1891.5 148.9,1891.5 148.9,1891.5 150.7,1891.5 150.7,1891.5 152.5,1891.5 152.5,1891.5 154.3,1891.5 154.3,1891.5 156.1,1891.5 156.1,1891.5 157.9,1891.5 157.9,1891.5 159.7,1891.5 159.7,1891.5 161.5,1891.5 161.5,1891.5 163.3,1891.5 163.3,1891.5 165.2,1891.5 165.2,1891.5 167,1891.5 167,1891.5 168.8,1891.5 168.8,1891.5 170.6,1891.5 170.6,1891.5 172.4,1891.5 172.4,1891.5 174.2,1891.5 174.2,1891.5 176,1891.5 176,1891.5 177.8,1891.5 177.8,1891.5 179.6,1891.5 179.6,1891.5 181.4,1891.5 181.4,1891.5 183.2,1891.5 183.2,1891.5 185,1891.5 185,1891.5 186.8,1891.5 186.8,1891.5 188.6,1891.5 188.6,1891.5 190.4,1891.5 190.4,1891.5 192.2,1891.5 192.2,1891.5 194.1,1891.5 194.1,1891.5 195.9,1891.5 195.9,1891.5 197.7,1891.5 197.7,1891.5 199.5,1891.5 199.5,1891.5 201.3,1891.5 201.3,1891.5 203.1,1891.5 203.1,1891.5 204.9,1891.5 204.9,1891.5 206.7,1891.5 206.7,1891.5 208.5,1891.5 208.5,1891.5 210.3,1891.5 210.3,1891.5 212.1,1891.5 212.1,1891.5 213.9,1891.5 213.9,1891.5 215.7,1891.5 215.7,1891.5 217.5,1891.5 217.5,1891.5 219.7,1891.5 219.7,1872.7 221.8,1872.7 221.8,1855.6 223.9,1855.6 223.9,1842.8 226.1,1842.8 226.1,1830 228.2,1830 228.2,1813 230.3,1813 230.3,1804.5 232.5,1804.5 232.5,1783.1 234.6,1783.1 234.6,1763.9 236.7,1763.9 236.7,1740.5 238.9,1740.5 238.9,1721.3 241,1721.3 241,1717 243.1,1717 243.1,1706.4 245.3,1706.4 245.3,1695.7 247.4,1695.7 247.4,1687.2 248.9,1687.2 248.9,1678.7 250.6,1678.7 250.6,1691.5 252.7,1691.5 252.7,1700 254.8,1700 254.8,1708.5 257,1708.5 257,1717 259.1,1717 259.1,1725.6 261.2,1725.6 261.2,1740.5 263.4,1740.5 263.4,1763.9 265.5,1763.9 265.5,1778.9 267.6,1778.9 267.6,1787.4 269.8,1787.4 269.8,1791.7 271.9,1791.7 271.9,1785.3 274,1785.3 274,1787.4 276.2,1787.4 276.2,1795.9 278.3,1795.9 278.3,1804.5 280.4,1804.5 280.4,1810.9 282.6,1810.9 282.6,1804.5 284.7,1804.5 284.7,1808.7 286.8,1808.7 286.8,1806.6 289,1806.6 289,1810.9 291.1,1810.9 291.1,1817.3 293.2,1817.3 293.2,1808.7 295.4,1808.7 295.4,1800.2 297.5,1800.2 297.5,1791.7 299.6,1791.7 299.6,1795.9 301.8,1795.9 301.8,1800.2 303.9,1800.2 303.9,1808.7 306,1808.7 306,1819.4 308.2,1819.4 308.2,1806.6 310.3,1806.6 310.3,1785.3 312.4,1785.3 312.4,1778.9 314.6,1778.9 314.6,1783.1 316.7,1783.1 316.7,1778.9 318.8,1778.9 318.8,1766.1 320.9,1766.1 320.9,1766.1 323.1,1766.1 323.1,1783.1 325.2,1783.1 325.2,1804.5 327.3,1804.5 327.3,1808.7 329.5,1808.7 329.5,1795.9 331.6,1795.9 331.6,1774.6 333.7,1774.6 333.7,1746.9 335.9,1746.9 335.9,1761.8 338,1761.8 338,1772.5 340.1,1772.5 340.1,1753.3 342.3,1753.3 342.3,1740.5 344.4,1740.5 344.4,1732 346.5,1732 346.5,1717 348.7,1717 348.7,1708.5 350.8,1708.5 350.8,1697.9 352.9,1697.9 352.9,1689.3 355.1,1689.3 355.1,1680.8 357.2,1680.8 357.2,1685.1 359.3,1685.1 359.3,1710.6 361.5,1710.6 361.5,1700 363.6,1700 363.6,1717 365.7,1717 365.7,1689.3 367.9,1689.3 367.9,1710.6 370,1710.6 370,1721.3 372.1,1721.3 372.1,1742.6 374.3,1742.6 374.3,1757.6 376.4,1757.6 376.4,1753.3 378.5,1753.3 378.5,1727.7 380.6,1727.7 380.6,1742.6 382.8,1742.6 382.8,1736.2 384.9,1736.2 384.9,1742.6 387,1742.6 387,1732 388.5,1732 388.5,1706.4 390.2,1706.4 390.2,1727.7 392.4,1727.7 392.4,1738.4 394.5,1738.4 394.5,1753.3 396.6,1753.3 396.6,1761.8 398.8,1761.8 398.8,1744.8 400.9,1744.8 400.9,1732 402.6,1732 402.6,1717 404.1,1717 404.1,1727.7 406.2,1727.7 406.2,1740.5 408.4,1740.5 408.4,1757.6 410.5,1757.6 410.5,1761.8 412.6,1761.8 412.6,1749 414.8,1749 414.8,1763.9 416.9,1763.9 416.9,1740.5 419,1740.5 419,1723.4 421.2,1723.4 421.2,1717 423.3,1717 423.3,1721.3 425.4,1721.3 425.4,1719.2 427.6,1719.2 427.6,1727.7 429.7,1727.7 429.7,1732 431.8,1732 431.8,1723.4 434,1723.4 434,1727.7 436.1,1727.7 436.1,1717 438.2,1717 438.2,1721.3 440.3,1721.3 440.3,1725.6 442.5,1725.6 442.5,1738.4 444.6,1738.4 444.6,1763.9 446.7,1763.9 446.7,1785.3 448.9,1785.3 448.9,1813 451,1813 451,1815.1 453.1,1815.1 453.1,1817.3 455.3,1817.3 455.3,1830 457.4,1830 457.4,1842.8 459.5,1842.8 459.5,1845 461.7,1845 461.7,1859.9 463.8,1859.9 463.8,1868.4 465.9,1868.4 465.9,1872.7 468.1,1872.7 468.1,1881.2 470.2,1881.2 470.2,1885.5 472.3,1885.5 472.3,1891.5 474.4,1891.5 474.4,1891.5 476.5,1891.5 476.5,1891.5 478.5,1891.5 478.5,1891.5" fill="none" stroke="#5e3b0c" stroke-width="1.5" stroke-linejoin="round"/><text class="k" transform="translate(120,1931.3) scale(0.97,1)" text-anchor="middle">0</text><text class="k" transform="translate(262.9,1931.3) scale(0.97,1)" text-anchor="middle">20</text><text class="k" transform="translate(405.8,1931.3) scale(0.97,1)" text-anchor="middle">40</text><text class="t" transform="translate(298.1,1662.1) scale(0.965,1)" text-anchor="middle">chr21</text></g>
<g><rect x="592.1" y="1677.3" width="358.6" height="214.8" fill="none" stroke="#383838" stroke-width="1.8"/><path d="M726.9,1892.1v-4.5M726.9,1677.3v4.5M861.8,1892.1v-4.5M861.8,1677.3v4.5" stroke="#383838" stroke-width="1.6" fill="none"/><rect x="678.9" y="1676.3" width="21.7" height="216.8" fill="#cccccc" fill-opacity="0.8"/><path d="M592.1,1891.5 593.4,1891.5 594.7,1891.6 596,1891.6 597.3,1891.5 598.6,1891.4 599.9,1891.5 601.2,1891.5 602.5,1891.5 603.8,1891.4 605.1,1891.4 606.4,1891.6 607.7,1891.3 609,1891.3 610.3,1891.5 611.6,1891.4 612.9,1891.4 614.2,1891.5 615.5,1891.5 616.8,1891.5 618.1,1891.6 619.4,1891.5 620.8,1891.4 622.1,1891.5 623.4,1891.4 624.7,1891.5 626,1891.5 627.3,1891.3 628.6,1891.4 629.9,1891.6 631.2,1891.5 632.5,1891.6 633.8,1891.4 635.1,1891.5 636.4,1891.4 637.7,1891.3 639,1891.5 640.3,1891.5 641.6,1891.3 642.9,1891.4 644.2,1891.5 645.5,1891.6 646.8,1891.4 648.1,1891.4 649.4,1891.5 650.7,1891.4 652,1891.6 653.3,1891.4 654.6,1891.5 655.9,1891.4 657.2,1891.4 658.5,1891.5 659.8,1891.4 661.1,1891.5 662.4,1891.5 663.7,1891.3 665,1891.5 666.3,1891.5 667.6,1891.4 668.9,1891.3 670.2,1891.3 671.5,1891.3 672.8,1891.4 674.1,1891.5 675.5,1891.4 676.8,1891.3 678.1,1891.5 679.4,1891.4 680.7,1891.4 682,1891.4 683.3,1891.4 684.6,1891.4 685.9,1891.3 687.2,1891.6 688.5,1891.3 689.8,1891.5 691.1,1891.4 692.4,1891.5 693.7,1891.4 695,1891.4 696.3,1891.5 697.6,1891.6 698.9,1891.5 700.2,1891.5 701.3,1881.2 702.3,1871 703.4,1854.6 704.5,1838 705.5,1827.1 706.6,1817.3 707.7,1806.4 708.7,1795.9 709.8,1785.9 710.9,1774.5 711.9,1765.7 713,1757.3 714.1,1750.9 715.1,1742.4 716.2,1738.1 717.3,1731.8 718.3,1723.9 719.4,1716.9 720.5,1709.5 721.5,1702.9 722.6,1696.1 723.7,1689.3 724.7,1684.2 725.8,1677.3 726.8,1678.7 727.9,1678.3 729,1684.6 730,1689.7 731.1,1700.6 732.2,1711.3 733.2,1713.3 734.3,1715.6 735.4,1717.9 736.4,1719.8 737.5,1724.8 738.6,1732.6 739.6,1745.4 740.7,1758.3 741.8,1762.1 742.8,1766.7 743.9,1767.8 745,1770.3 746,1774.5 747.1,1778.5 748.2,1784.8 749.2,1791.1 750.3,1797.5 751.4,1801.9 752.4,1807.4 753.5,1813.1 754.6,1819.6 755.6,1826.6 756.7,1833.8 757.8,1841.2 758.8,1839 759.9,1839 761,1836.7 762,1835.1 763.1,1838.9 764.2,1845.6 765.2,1847.9 766.3,1848.4 767.4,1850.9 768.4,1853.1 769.5,1853.7 770.6,1854.8 771.6,1856.9 772.7,1857.7 773.8,1859.4 774.8,1859.8 775.9,1857.9 777,1855.4 778,1851.8 779.1,1846.4 780.2,1843.7 781.2,1840.6 782.3,1839.5 783.4,1838.2 784.4,1837.9 785.5,1836.9 786.6,1834.8 787.6,1834.2 788.7,1835 789.7,1837.3 790.8,1835.3 791.9,1833.6 792.9,1835.5 794,1836.8 795.1,1835.1 796.1,1833.6 797.2,1833.1 798.3,1830.9 799.3,1828.1 800.4,1825.9 801.5,1823.8 802.5,1823.4 803.6,1825 804.7,1826.6 805.7,1827.7 806.8,1827.9 807.9,1827.5 808.9,1828.6 810,1826.8 811.1,1825.5 812.1,1827.9 813.2,1829.7 814.3,1828.4 815.3,1828 816.4,1828.7 817.5,1830.1 818.5,1832.1 819.6,1833.5 820.7,1835.2 821.7,1836.1 822.8,1837.6 823.9,1837.7 824.9,1840.9 826,1842.4 827.1,1844.7 828.1,1846.8 829.2,1848.8 830.3,1848.9 831.3,1852.2 832.4,1853.7 833.5,1854.9 834.5,1855.3 835.6,1857.3 836.7,1858.2 837.7,1858.6 838.8,1860.6 839.9,1858.1 840.9,1857.9 842,1857.3 843.1,1856.2 844.1,1856 845.2,1858.4 846.3,1859.4 847.3,1859.1 848.4,1858.2 849.4,1858 850.5,1859.5 851.6,1860.2 852.6,1858.6 853.7,1858.2 854.8,1856.6 855.8,1855.8 856.9,1856.2 858,1858.6 859,1857.5 860.1,1854.9 861.2,1856.4 862.2,1857.1 863.3,1859.1 864.4,1859.7 865.4,1858.4 866.5,1858 867.6,1858.7 868.6,1860 869.7,1860.7 870.8,1861.9 871.8,1861.1 872.9,1860 874,1861 875,1862.5 876.1,1863.1 877.2,1864.6 878.2,1862.5 879.3,1859.6 880.4,1860.5 881.4,1862.3 882.5,1862.9 883.6,1864.4 884.6,1865.5 885.7,1866.2 886.8,1866 887.8,1866.9 888.9,1868.3 890,1868.6 891,1867.2 892.1,1866.9 893.2,1864.5 894.2,1864.9 895.3,1863.8 896.4,1862.7 897.4,1860.1 898.5,1860.7 899.6,1858.8 900.6,1857.7 901.7,1857.3 902.8,1856.9 903.8,1859.4 904.9,1859.9 906,1859.4 907,1857.6 908.1,1859.3 909.2,1860.5 910.2,1858 911.3,1858.2 912.3,1857.9 913.4,1858.3 914.5,1856.6 915.5,1856.5 916.6,1857.8 917.7,1857.3 918.7,1857.4 919.8,1856.7 920.9,1857.7 921.9,1860.1 923,1863.7 924.1,1869 925.1,1870.3 926.2,1873.1 927.3,1874.1 928.3,1875.6 929.4,1876.7 930.5,1876.8 931.5,1878.6 932.6,1879 933.7,1879.4 934.7,1881 935.8,1881.4 936.9,1883 937.9,1883.6 939,1885.9 940.1,1885.9 941.1,1887 942.2,1889.3 943.3,1889.7 944.9,1890.4 946.5,1891.4 947.8,1891.4 949.2,1891.3 950.5,1891.6" fill="none" stroke="#d99a2b" stroke-width="1.8" stroke-linejoin="round"/><path d="M592.1,1891.5 593.4,1891.6 594.7,1891.4 596,1891.4 597.3,1891.4 598.6,1891.4 599.9,1891.6 601.2,1891.3 602.6,1891.5 603.9,1891.4 605.2,1891.6 606.5,1891.3 607.8,1891.3 609.1,1891.4 610.4,1891.3 611.7,1891.4 613,1891.5 614.3,1891.3 615.6,1891.5 616.9,1891.5 618.2,1891.3 619.5,1891.5 620.9,1891.3 622.2,1891.6 623.5,1891.4 624.8,1891.6 626.1,1891.6 627.4,1891.4 628.7,1891.3 630,1891.3 631.3,1891.4 632.6,1891.5 633.9,1891.4 635.2,1891.3 636.5,1891.5 637.8,1891.5 639.1,1891.3 640.5,1891.3 641.8,1891.4 643.1,1891.5 644.4,1891.6 645.7,1891.5 647,1891.4 648.3,1891.4 649.6,1891.4 650.9,1891.5 652.2,1891.6 653.5,1891.5 654.8,1891.4 656.1,1891.3 657.4,1891.3 658.8,1891.4 660.1,1891.3 661.4,1891.6 662.7,1891.5 664,1891.6 665.3,1891.5 666.6,1891.3 667.9,1891.4 669.2,1891.5 670.5,1891.4 671.8,1891.5 673.1,1891.5 674.4,1891.6 675.7,1891.5 677.1,1891.5 678.4,1891.6 679.7,1891.5 681,1891.3 682.3,1891.4 683.6,1891.4 684.9,1891.6 686.2,1891.4 687.5,1891.4 688.8,1891.4 690.1,1891.4 691.4,1891.5 692.7,1891.5 693.8,1884.3 694.9,1876.3 695.9,1863.3 697,1850.1 698.1,1834.8 699.1,1821.5 700.2,1811.4 701.3,1799.7 702.3,1793.5 703.4,1785.5 704.5,1778.1 705.5,1769.8 706.6,1766.9 707.7,1762.7 708.7,1755.3 709.8,1749.5 710.9,1740.6 711.9,1732.5 713,1725.1 714.1,1719.4 715.1,1715.7 716.2,1710.9 717.3,1708.8 718.3,1705.8 719.4,1702.7 720.5,1699.8 721.5,1693.1 722.6,1684.4 723.7,1682.1 724.7,1678.4 725.8,1686.1 726.8,1693.9 727.9,1707.5 729,1721.7 730,1744.7 731.1,1732.3 732.2,1721.7 733.2,1723.7 734.3,1727.1 735.4,1730.7 736.4,1733.4 737.5,1736 738.6,1737.7 739.6,1741.1 740.7,1742 741.8,1740.2 742.8,1736 743.9,1733.2 745,1731.5 746,1732.4 747.1,1733.4 748.2,1740.9 749.2,1746.9 750.3,1753 751.4,1757.9 752.4,1759.3 753.5,1760.1 754.6,1761.4 755.6,1761.4 756.7,1768.2 757.8,1774.1 758.8,1774.2 759.9,1771.8 761,1771.8 762,1769.8 763.1,1772.7 764.2,1774.3 765.2,1771.8 766.3,1768.6 767.4,1774 768.4,1779.6 769.5,1780.5 770.6,1783.5 771.6,1786.7 772.7,1789.8 773.8,1790.8 774.8,1792 775.9,1793.9 777,1796.3 778,1797.6 779.1,1800.2 780.2,1800.8 781.2,1799.4 782.3,1802.3 783.4,1803.8 784.4,1806.8 785.5,1808.3 786.6,1807 787.6,1804 788.7,1803.4 789.7,1801.9 790.8,1804.5 791.9,1806.8 792.9,1809.5 794,1813.1 795.1,1819.8 796.1,1825.9 797.2,1828.9 798.3,1832.6 799.3,1827.2 800.4,1822.3 801.5,1823.7 802.5,1825.1 803.6,1826.7 804.7,1827.2 805.7,1828.2 806.8,1830.8 807.9,1831.8 808.9,1831.7 810,1835.9 811.1,1838 812.1,1842.3 813.2,1844.6 814.3,1846.6 815.3,1848.4 816.4,1852.6 817.5,1855.4 818.5,1856.4 819.6,1857.3 820.7,1858.5 821.7,1860.4 822.8,1861.7 823.9,1864 824.9,1865.6 826,1866.9 827.1,1867.2 828.1,1867.7 829.2,1865.9 830.3,1862.1 831.3,1863.5 832.4,1865.5 833.5,1865.4 834.5,1864.3 835.6,1865.5 836.7,1865.9 837.7,1868.2 838.8,1867.5 839.9,1865.8 840.9,1862.2 842,1860.5 843.1,1858.6 844.1,1857.9 845.2,1857.6 846.3,1858.8 847.3,1859.8 848.4,1860.7 849.4,1859.8 850.5,1857.9 851.6,1856.4 852.6,1857.4 853.7,1858 854.8,1857.1 855.8,1856.5 856.9,1854.1 858,1853.5 859,1854.4 860.1,1856 861.2,1854.4 862.2,1853.9 863.3,1851.8 864.4,1852 865.4,1851.7 866.5,1853.1 867.6,1855 868.6,1855.8 869.7,1856 870.8,1858 871.8,1857.5 872.9,1858.6 874,1859.1 875,1860.6 876.1,1860.1 877.2,1859 878.2,1861.7 879.3,1861.9 880.4,1861.6 881.4,1859.9 882.5,1859 883.6,1857.5 884.6,1857 885.7,1855.1 886.8,1854.4 887.8,1853.2 888.9,1855.3 890,1855 891,1853.7 892.1,1853.3 893.2,1852.2 894.2,1851 895.3,1850.9 896.4,1849.7 897.4,1849.7 898.5,1848.5 899.6,1848.8 900.6,1847.5 901.7,1846.4 902.8,1844.3 903.8,1843.3 904.9,1842.9 906,1842.2 907,1840.3 908.1,1840.4 909.2,1839.2 910.2,1839.4 911.3,1841.1 912.3,1842.5 913.4,1844.4 914.5,1841 915.5,1838.1 916.6,1834.6 917.7,1833 918.7,1831.5 919.8,1832.9 920.9,1834.6 921.9,1838 923,1842.5 924.1,1845.8 925.1,1845.3 926.2,1844.9 927.3,1844.8 928.3,1845.6 929.4,1845.2 930.5,1847.2 931.5,1847.3 932.6,1848.9 933.7,1852.2 934.7,1856.3 935.8,1860.8 936.9,1864.7 937.9,1866.8 939,1871.4 940.1,1871.9 941.1,1875.5 942.2,1877.7 943.3,1880.7 944.3,1884.6 945.4,1887.8 946.5,1889.6 947.5,1891.5 949,1891.4 950.5,1891.4" fill="none" stroke="#5e3b0c" stroke-width="1.8" stroke-linejoin="round"/><text class="k" transform="translate(592.1,1931.3) scale(0.97,1)" text-anchor="middle">0</text><text class="k" transform="translate(726.9,1931.3) scale(0.97,1)" text-anchor="middle">20</text><text class="k" transform="translate(861.8,1931.3) scale(0.97,1)" text-anchor="middle">40</text><text class="t" transform="translate(770.2,1662.1) scale(0.965,1)" text-anchor="middle">chr22</text></g>
<text class="l" transform="translate(31.6,970.5) rotate(-90)" text-anchor="middle">Relative breakpoint coverage</text>
<text class="l" x="1007.7" y="1997.6" text-anchor="middle">Chromosome position (Mb)</text>
<path d="M1551.5,1719.8H1670.5" stroke="#d9aa6a" stroke-width="2"/>
<path d="M1551.5,1759.9H1670.5" stroke="#6b5237" stroke-width="2"/>
<text class="g" x="1681" y="1730.3">CN-LOH, BBJ</text>
<text class="g" x="1681" y="1770.2">CN-LOH, UKB</text>
</svg></body></html>
